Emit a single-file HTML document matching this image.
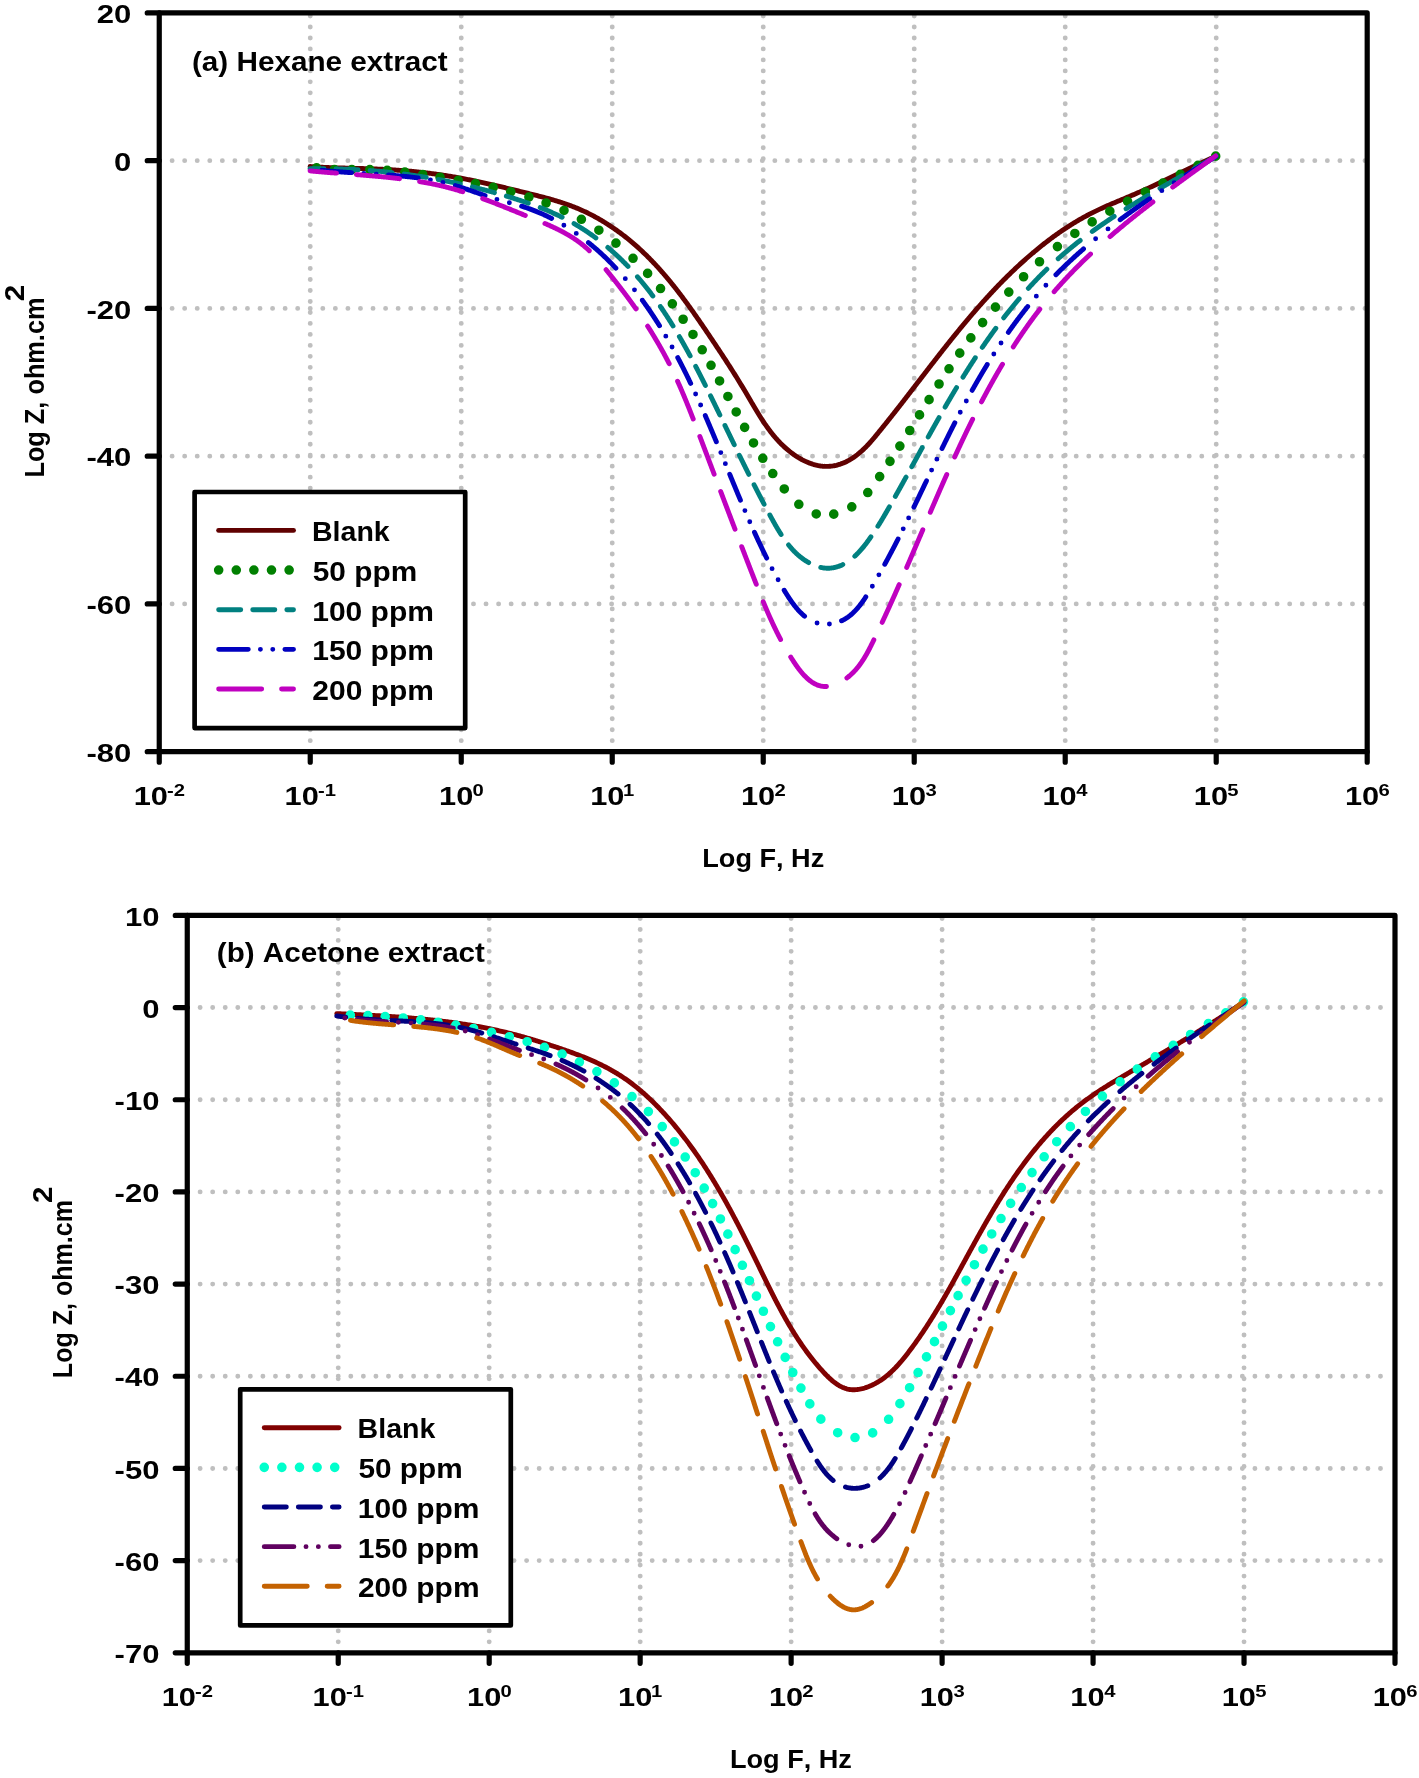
<!DOCTYPE html>
<html><head><meta charset="utf-8"><style>
html,body{margin:0;padding:0;background:#fff;overflow:hidden;width:1419px;height:1778px;}
svg{display:block;}
text{font-family:"Liberation Sans",sans-serif;font-weight:bold;font-kerning:none;}
.g{opacity:0.999;}
</style></head><body>
<svg width="1419" height="1778" viewBox="0 0 1419 1778">
<rect width="1419" height="1778" fill="#fff"/>
<g class="g">
<path d="M172.11 160.65h0.01M184.66 160.65h0.01M197.22 160.65h0.01M209.78 160.65h0.01M222.33 160.65h0.01M234.89 160.65h0.01M247.45 160.65h0.01M260.01 160.65h0.01M272.56 160.65h0.01M285.12 160.65h0.01M297.68 160.65h0.01M310.23 160.65h0.01M322.79 160.65h0.01M335.35 160.65h0.01M347.91 160.65h0.01M360.46 160.65h0.01M373.02 160.65h0.01M385.58 160.65h0.01M398.13 160.65h0.01M410.69 160.65h0.01M423.25 160.65h0.01M435.8 160.65h0.01M448.36 160.65h0.01M460.92 160.65h0.01M473.48 160.65h0.01M486.03 160.65h0.01M498.59 160.65h0.01M511.15 160.65h0.01M523.7 160.65h0.01M536.26 160.65h0.01M548.82 160.65h0.01M561.37 160.65h0.01M573.93 160.65h0.01M586.49 160.65h0.01M599.05 160.65h0.01M611.6 160.65h0.01M624.16 160.65h0.01M636.72 160.65h0.01M649.27 160.65h0.01M661.83 160.65h0.01M674.39 160.65h0.01M686.94 160.65h0.01M699.5 160.65h0.01M712.06 160.65h0.01M724.62 160.65h0.01M737.17 160.65h0.01M749.73 160.65h0.01M762.29 160.65h0.01M774.84 160.65h0.01M787.4 160.65h0.01M799.96 160.65h0.01M812.51 160.65h0.01M825.07 160.65h0.01M837.63 160.65h0.01M850.19 160.65h0.01M862.74 160.65h0.01M875.3 160.65h0.01M887.86 160.65h0.01M900.41 160.65h0.01M912.97 160.65h0.01M925.53 160.65h0.01M938.08 160.65h0.01M950.64 160.65h0.01M963.2 160.65h0.01M975.76 160.65h0.01M988.31 160.65h0.01M1000.87 160.65h0.01M1013.43 160.65h0.01M1025.98 160.65h0.01M1038.54 160.65h0.01M1051.1 160.65h0.01M1063.65 160.65h0.01M1076.21 160.65h0.01M1088.77 160.65h0.01M1101.33 160.65h0.01M1113.88 160.65h0.01M1126.44 160.65h0.01M1139 160.65h0.01M1151.55 160.65h0.01M1164.11 160.65h0.01M1176.67 160.65h0.01M1189.22 160.65h0.01M1201.78 160.65h0.01M1214.34 160.65h0.01M1226.9 160.65h0.01M1239.45 160.65h0.01M1252.01 160.65h0.01M1264.57 160.65h0.01M1277.12 160.65h0.01M1289.68 160.65h0.01M1302.24 160.65h0.01M1314.79 160.65h0.01M1327.35 160.65h0.01M1339.91 160.65h0.01M1352.47 160.65h0.01M1365.02 160.65h0.01M172.11 308.4h0.01M184.66 308.4h0.01M197.22 308.4h0.01M209.78 308.4h0.01M222.33 308.4h0.01M234.89 308.4h0.01M247.45 308.4h0.01M260.01 308.4h0.01M272.56 308.4h0.01M285.12 308.4h0.01M297.68 308.4h0.01M310.23 308.4h0.01M322.79 308.4h0.01M335.35 308.4h0.01M347.91 308.4h0.01M360.46 308.4h0.01M373.02 308.4h0.01M385.58 308.4h0.01M398.13 308.4h0.01M410.69 308.4h0.01M423.25 308.4h0.01M435.8 308.4h0.01M448.36 308.4h0.01M460.92 308.4h0.01M473.48 308.4h0.01M486.03 308.4h0.01M498.59 308.4h0.01M511.15 308.4h0.01M523.7 308.4h0.01M536.26 308.4h0.01M548.82 308.4h0.01M561.37 308.4h0.01M573.93 308.4h0.01M586.49 308.4h0.01M599.05 308.4h0.01M611.6 308.4h0.01M624.16 308.4h0.01M636.72 308.4h0.01M649.27 308.4h0.01M661.83 308.4h0.01M674.39 308.4h0.01M686.94 308.4h0.01M699.5 308.4h0.01M712.06 308.4h0.01M724.62 308.4h0.01M737.17 308.4h0.01M749.73 308.4h0.01M762.29 308.4h0.01M774.84 308.4h0.01M787.4 308.4h0.01M799.96 308.4h0.01M812.51 308.4h0.01M825.07 308.4h0.01M837.63 308.4h0.01M850.19 308.4h0.01M862.74 308.4h0.01M875.3 308.4h0.01M887.86 308.4h0.01M900.41 308.4h0.01M912.97 308.4h0.01M925.53 308.4h0.01M938.08 308.4h0.01M950.64 308.4h0.01M963.2 308.4h0.01M975.76 308.4h0.01M988.31 308.4h0.01M1000.87 308.4h0.01M1013.43 308.4h0.01M1025.98 308.4h0.01M1038.54 308.4h0.01M1051.1 308.4h0.01M1063.65 308.4h0.01M1076.21 308.4h0.01M1088.77 308.4h0.01M1101.33 308.4h0.01M1113.88 308.4h0.01M1126.44 308.4h0.01M1139 308.4h0.01M1151.55 308.4h0.01M1164.11 308.4h0.01M1176.67 308.4h0.01M1189.22 308.4h0.01M1201.78 308.4h0.01M1214.34 308.4h0.01M1226.9 308.4h0.01M1239.45 308.4h0.01M1252.01 308.4h0.01M1264.57 308.4h0.01M1277.12 308.4h0.01M1289.68 308.4h0.01M1302.24 308.4h0.01M1314.79 308.4h0.01M1327.35 308.4h0.01M1339.91 308.4h0.01M1352.47 308.4h0.01M1365.02 308.4h0.01M172.11 456.14h0.01M184.66 456.14h0.01M197.22 456.14h0.01M209.78 456.14h0.01M222.33 456.14h0.01M234.89 456.14h0.01M247.45 456.14h0.01M260.01 456.14h0.01M272.56 456.14h0.01M285.12 456.14h0.01M297.68 456.14h0.01M310.23 456.14h0.01M322.79 456.14h0.01M335.35 456.14h0.01M347.91 456.14h0.01M360.46 456.14h0.01M373.02 456.14h0.01M385.58 456.14h0.01M398.13 456.14h0.01M410.69 456.14h0.01M423.25 456.14h0.01M435.8 456.14h0.01M448.36 456.14h0.01M460.92 456.14h0.01M473.48 456.14h0.01M486.03 456.14h0.01M498.59 456.14h0.01M511.15 456.14h0.01M523.7 456.14h0.01M536.26 456.14h0.01M548.82 456.14h0.01M561.37 456.14h0.01M573.93 456.14h0.01M586.49 456.14h0.01M599.05 456.14h0.01M611.6 456.14h0.01M624.16 456.14h0.01M636.72 456.14h0.01M649.27 456.14h0.01M661.83 456.14h0.01M674.39 456.14h0.01M686.94 456.14h0.01M699.5 456.14h0.01M712.06 456.14h0.01M724.62 456.14h0.01M737.17 456.14h0.01M749.73 456.14h0.01M762.29 456.14h0.01M774.84 456.14h0.01M787.4 456.14h0.01M799.96 456.14h0.01M812.51 456.14h0.01M825.07 456.14h0.01M837.63 456.14h0.01M850.19 456.14h0.01M862.74 456.14h0.01M875.3 456.14h0.01M887.86 456.14h0.01M900.41 456.14h0.01M912.97 456.14h0.01M925.53 456.14h0.01M938.08 456.14h0.01M950.64 456.14h0.01M963.2 456.14h0.01M975.76 456.14h0.01M988.31 456.14h0.01M1000.87 456.14h0.01M1013.43 456.14h0.01M1025.98 456.14h0.01M1038.54 456.14h0.01M1051.1 456.14h0.01M1063.65 456.14h0.01M1076.21 456.14h0.01M1088.77 456.14h0.01M1101.33 456.14h0.01M1113.88 456.14h0.01M1126.44 456.14h0.01M1139 456.14h0.01M1151.55 456.14h0.01M1164.11 456.14h0.01M1176.67 456.14h0.01M1189.22 456.14h0.01M1201.78 456.14h0.01M1214.34 456.14h0.01M1226.9 456.14h0.01M1239.45 456.14h0.01M1252.01 456.14h0.01M1264.57 456.14h0.01M1277.12 456.14h0.01M1289.68 456.14h0.01M1302.24 456.14h0.01M1314.79 456.14h0.01M1327.35 456.14h0.01M1339.91 456.14h0.01M1352.47 456.14h0.01M1365.02 456.14h0.01M172.11 603.89h0.01M184.66 603.89h0.01M197.22 603.89h0.01M209.78 603.89h0.01M222.33 603.89h0.01M234.89 603.89h0.01M247.45 603.89h0.01M260.01 603.89h0.01M272.56 603.89h0.01M285.12 603.89h0.01M297.68 603.89h0.01M310.23 603.89h0.01M322.79 603.89h0.01M335.35 603.89h0.01M347.91 603.89h0.01M360.46 603.89h0.01M373.02 603.89h0.01M385.58 603.89h0.01M398.13 603.89h0.01M410.69 603.89h0.01M423.25 603.89h0.01M435.8 603.89h0.01M448.36 603.89h0.01M460.92 603.89h0.01M473.48 603.89h0.01M486.03 603.89h0.01M498.59 603.89h0.01M511.15 603.89h0.01M523.7 603.89h0.01M536.26 603.89h0.01M548.82 603.89h0.01M561.37 603.89h0.01M573.93 603.89h0.01M586.49 603.89h0.01M599.05 603.89h0.01M611.6 603.89h0.01M624.16 603.89h0.01M636.72 603.89h0.01M649.27 603.89h0.01M661.83 603.89h0.01M674.39 603.89h0.01M686.94 603.89h0.01M699.5 603.89h0.01M712.06 603.89h0.01M724.62 603.89h0.01M737.17 603.89h0.01M749.73 603.89h0.01M762.29 603.89h0.01M774.84 603.89h0.01M787.4 603.89h0.01M799.96 603.89h0.01M812.51 603.89h0.01M825.07 603.89h0.01M837.63 603.89h0.01M850.19 603.89h0.01M862.74 603.89h0.01M875.3 603.89h0.01M887.86 603.89h0.01M900.41 603.89h0.01M912.97 603.89h0.01M925.53 603.89h0.01M938.08 603.89h0.01M950.64 603.89h0.01M963.2 603.89h0.01M975.76 603.89h0.01M988.31 603.89h0.01M1000.87 603.89h0.01M1013.43 603.89h0.01M1025.98 603.89h0.01M1038.54 603.89h0.01M1051.1 603.89h0.01M1063.65 603.89h0.01M1076.21 603.89h0.01M1088.77 603.89h0.01M1101.33 603.89h0.01M1113.88 603.89h0.01M1126.44 603.89h0.01M1139 603.89h0.01M1151.55 603.89h0.01M1164.11 603.89h0.01M1176.67 603.89h0.01M1189.22 603.89h0.01M1201.78 603.89h0.01M1214.34 603.89h0.01M1226.9 603.89h0.01M1239.45 603.89h0.01M1252.01 603.89h0.01M1264.57 603.89h0.01M1277.12 603.89h0.01M1289.68 603.89h0.01M1302.24 603.89h0.01M1314.79 603.89h0.01M1327.35 603.89h0.01M1339.91 603.89h0.01M1352.47 603.89h0.01M1365.02 603.89h0.01M310.24 740.66h0.01M310.24 729.68h0.01M310.24 718.7h0.01M310.24 707.72h0.01M310.24 696.74h0.01M310.24 685.76h0.01M310.24 674.78h0.01M310.24 663.8h0.01M310.24 652.82h0.01M310.24 641.84h0.01M310.24 630.86h0.01M310.24 619.88h0.01M310.24 608.9h0.01M310.24 597.92h0.01M310.24 586.94h0.01M310.24 575.96h0.01M310.24 564.98h0.01M310.24 554h0.01M310.24 543.02h0.01M310.24 532.04h0.01M310.24 521.06h0.01M310.24 510.08h0.01M310.24 499.1h0.01M310.24 488.12h0.01M310.24 477.14h0.01M310.24 466.16h0.01M310.24 455.18h0.01M310.24 444.2h0.01M310.24 433.22h0.01M310.24 422.24h0.01M310.24 411.26h0.01M310.24 400.28h0.01M310.24 389.3h0.01M310.24 378.32h0.01M310.24 367.34h0.01M310.24 356.36h0.01M310.24 345.38h0.01M310.24 334.4h0.01M310.24 323.42h0.01M310.24 312.44h0.01M310.24 301.46h0.01M310.24 290.48h0.01M310.24 279.5h0.01M310.24 268.52h0.01M310.24 257.54h0.01M310.24 246.56h0.01M310.24 235.58h0.01M310.24 224.6h0.01M310.24 213.62h0.01M310.24 202.64h0.01M310.24 191.66h0.01M310.24 180.68h0.01M310.24 169.7h0.01M310.24 158.72h0.01M310.24 147.74h0.01M310.24 136.76h0.01M310.24 125.78h0.01M310.24 114.8h0.01M310.24 103.82h0.01M310.24 92.84h0.01M310.24 81.86h0.01M310.24 70.88h0.01M310.24 59.9h0.01M310.24 48.92h0.01M310.24 37.94h0.01M310.24 26.96h0.01M310.24 15.98h0.01M461.24 740.66h0.01M461.24 729.68h0.01M461.24 718.7h0.01M461.24 707.72h0.01M461.24 696.74h0.01M461.24 685.76h0.01M461.24 674.78h0.01M461.24 663.8h0.01M461.24 652.82h0.01M461.24 641.84h0.01M461.24 630.86h0.01M461.24 619.88h0.01M461.24 608.9h0.01M461.24 597.92h0.01M461.24 586.94h0.01M461.24 575.96h0.01M461.24 564.98h0.01M461.24 554h0.01M461.24 543.02h0.01M461.24 532.04h0.01M461.24 521.06h0.01M461.24 510.08h0.01M461.24 499.1h0.01M461.24 488.12h0.01M461.24 477.14h0.01M461.24 466.16h0.01M461.24 455.18h0.01M461.24 444.2h0.01M461.24 433.22h0.01M461.24 422.24h0.01M461.24 411.26h0.01M461.24 400.28h0.01M461.24 389.3h0.01M461.24 378.32h0.01M461.24 367.34h0.01M461.24 356.36h0.01M461.24 345.38h0.01M461.24 334.4h0.01M461.24 323.42h0.01M461.24 312.44h0.01M461.24 301.46h0.01M461.24 290.48h0.01M461.24 279.5h0.01M461.24 268.52h0.01M461.24 257.54h0.01M461.24 246.56h0.01M461.24 235.58h0.01M461.24 224.6h0.01M461.24 213.62h0.01M461.24 202.64h0.01M461.24 191.66h0.01M461.24 180.68h0.01M461.24 169.7h0.01M461.24 158.72h0.01M461.24 147.74h0.01M461.24 136.76h0.01M461.24 125.78h0.01M461.24 114.8h0.01M461.24 103.82h0.01M461.24 92.84h0.01M461.24 81.86h0.01M461.24 70.88h0.01M461.24 59.9h0.01M461.24 48.92h0.01M461.24 37.94h0.01M461.24 26.96h0.01M461.24 15.98h0.01M612.23 740.66h0.01M612.23 729.68h0.01M612.23 718.7h0.01M612.23 707.72h0.01M612.23 696.74h0.01M612.23 685.76h0.01M612.23 674.78h0.01M612.23 663.8h0.01M612.23 652.82h0.01M612.23 641.84h0.01M612.23 630.86h0.01M612.23 619.88h0.01M612.23 608.9h0.01M612.23 597.92h0.01M612.23 586.94h0.01M612.23 575.96h0.01M612.23 564.98h0.01M612.23 554h0.01M612.23 543.02h0.01M612.23 532.04h0.01M612.23 521.06h0.01M612.23 510.08h0.01M612.23 499.1h0.01M612.23 488.12h0.01M612.23 477.14h0.01M612.23 466.16h0.01M612.23 455.18h0.01M612.23 444.2h0.01M612.23 433.22h0.01M612.23 422.24h0.01M612.23 411.26h0.01M612.23 400.28h0.01M612.23 389.3h0.01M612.23 378.32h0.01M612.23 367.34h0.01M612.23 356.36h0.01M612.23 345.38h0.01M612.23 334.4h0.01M612.23 323.42h0.01M612.23 312.44h0.01M612.23 301.46h0.01M612.23 290.48h0.01M612.23 279.5h0.01M612.23 268.52h0.01M612.23 257.54h0.01M612.23 246.56h0.01M612.23 235.58h0.01M612.23 224.6h0.01M612.23 213.62h0.01M612.23 202.64h0.01M612.23 191.66h0.01M612.23 180.68h0.01M612.23 169.7h0.01M612.23 158.72h0.01M612.23 147.74h0.01M612.23 136.76h0.01M612.23 125.78h0.01M612.23 114.8h0.01M612.23 103.82h0.01M612.23 92.84h0.01M612.23 81.86h0.01M612.23 70.88h0.01M612.23 59.9h0.01M612.23 48.92h0.01M612.23 37.94h0.01M612.23 26.96h0.01M612.23 15.98h0.01M763.23 740.66h0.01M763.23 729.68h0.01M763.23 718.7h0.01M763.23 707.72h0.01M763.23 696.74h0.01M763.23 685.76h0.01M763.23 674.78h0.01M763.23 663.8h0.01M763.23 652.82h0.01M763.23 641.84h0.01M763.23 630.86h0.01M763.23 619.88h0.01M763.23 608.9h0.01M763.23 597.92h0.01M763.23 586.94h0.01M763.23 575.96h0.01M763.23 564.98h0.01M763.23 554h0.01M763.23 543.02h0.01M763.23 532.04h0.01M763.23 521.06h0.01M763.23 510.08h0.01M763.23 499.1h0.01M763.23 488.12h0.01M763.23 477.14h0.01M763.23 466.16h0.01M763.23 455.18h0.01M763.23 444.2h0.01M763.23 433.22h0.01M763.23 422.24h0.01M763.23 411.26h0.01M763.23 400.28h0.01M763.23 389.3h0.01M763.23 378.32h0.01M763.23 367.34h0.01M763.23 356.36h0.01M763.23 345.38h0.01M763.23 334.4h0.01M763.23 323.42h0.01M763.23 312.44h0.01M763.23 301.46h0.01M763.23 290.48h0.01M763.23 279.5h0.01M763.23 268.52h0.01M763.23 257.54h0.01M763.23 246.56h0.01M763.23 235.58h0.01M763.23 224.6h0.01M763.23 213.62h0.01M763.23 202.64h0.01M763.23 191.66h0.01M763.23 180.68h0.01M763.23 169.7h0.01M763.23 158.72h0.01M763.23 147.74h0.01M763.23 136.76h0.01M763.23 125.78h0.01M763.23 114.8h0.01M763.23 103.82h0.01M763.23 92.84h0.01M763.23 81.86h0.01M763.23 70.88h0.01M763.23 59.9h0.01M763.23 48.92h0.01M763.23 37.94h0.01M763.23 26.96h0.01M763.23 15.98h0.01M914.22 740.66h0.01M914.22 729.68h0.01M914.22 718.7h0.01M914.22 707.72h0.01M914.22 696.74h0.01M914.22 685.76h0.01M914.22 674.78h0.01M914.22 663.8h0.01M914.22 652.82h0.01M914.22 641.84h0.01M914.22 630.86h0.01M914.22 619.88h0.01M914.22 608.9h0.01M914.22 597.92h0.01M914.22 586.94h0.01M914.22 575.96h0.01M914.22 564.98h0.01M914.22 554h0.01M914.22 543.02h0.01M914.22 532.04h0.01M914.22 521.06h0.01M914.22 510.08h0.01M914.22 499.1h0.01M914.22 488.12h0.01M914.22 477.14h0.01M914.22 466.16h0.01M914.22 455.18h0.01M914.22 444.2h0.01M914.22 433.22h0.01M914.22 422.24h0.01M914.22 411.26h0.01M914.22 400.28h0.01M914.22 389.3h0.01M914.22 378.32h0.01M914.22 367.34h0.01M914.22 356.36h0.01M914.22 345.38h0.01M914.22 334.4h0.01M914.22 323.42h0.01M914.22 312.44h0.01M914.22 301.46h0.01M914.22 290.48h0.01M914.22 279.5h0.01M914.22 268.52h0.01M914.22 257.54h0.01M914.22 246.56h0.01M914.22 235.58h0.01M914.22 224.6h0.01M914.22 213.62h0.01M914.22 202.64h0.01M914.22 191.66h0.01M914.22 180.68h0.01M914.22 169.7h0.01M914.22 158.72h0.01M914.22 147.74h0.01M914.22 136.76h0.01M914.22 125.78h0.01M914.22 114.8h0.01M914.22 103.82h0.01M914.22 92.84h0.01M914.22 81.86h0.01M914.22 70.88h0.01M914.22 59.9h0.01M914.22 48.92h0.01M914.22 37.94h0.01M914.22 26.96h0.01M914.22 15.98h0.01M1065.21 740.66h0.01M1065.21 729.68h0.01M1065.21 718.7h0.01M1065.21 707.72h0.01M1065.21 696.74h0.01M1065.21 685.76h0.01M1065.21 674.78h0.01M1065.21 663.8h0.01M1065.21 652.82h0.01M1065.21 641.84h0.01M1065.21 630.86h0.01M1065.21 619.88h0.01M1065.21 608.9h0.01M1065.21 597.92h0.01M1065.21 586.94h0.01M1065.21 575.96h0.01M1065.21 564.98h0.01M1065.21 554h0.01M1065.21 543.02h0.01M1065.21 532.04h0.01M1065.21 521.06h0.01M1065.21 510.08h0.01M1065.21 499.1h0.01M1065.21 488.12h0.01M1065.21 477.14h0.01M1065.21 466.16h0.01M1065.21 455.18h0.01M1065.21 444.2h0.01M1065.21 433.22h0.01M1065.21 422.24h0.01M1065.21 411.26h0.01M1065.21 400.28h0.01M1065.21 389.3h0.01M1065.21 378.32h0.01M1065.21 367.34h0.01M1065.21 356.36h0.01M1065.21 345.38h0.01M1065.21 334.4h0.01M1065.21 323.42h0.01M1065.21 312.44h0.01M1065.21 301.46h0.01M1065.21 290.48h0.01M1065.21 279.5h0.01M1065.21 268.52h0.01M1065.21 257.54h0.01M1065.21 246.56h0.01M1065.21 235.58h0.01M1065.21 224.6h0.01M1065.21 213.62h0.01M1065.21 202.64h0.01M1065.21 191.66h0.01M1065.21 180.68h0.01M1065.21 169.7h0.01M1065.21 158.72h0.01M1065.21 147.74h0.01M1065.21 136.76h0.01M1065.21 125.78h0.01M1065.21 114.8h0.01M1065.21 103.82h0.01M1065.21 92.84h0.01M1065.21 81.86h0.01M1065.21 70.88h0.01M1065.21 59.9h0.01M1065.21 48.92h0.01M1065.21 37.94h0.01M1065.21 26.96h0.01M1065.21 15.98h0.01M1216.21 740.66h0.01M1216.21 729.68h0.01M1216.21 718.7h0.01M1216.21 707.72h0.01M1216.21 696.74h0.01M1216.21 685.76h0.01M1216.21 674.78h0.01M1216.21 663.8h0.01M1216.21 652.82h0.01M1216.21 641.84h0.01M1216.21 630.86h0.01M1216.21 619.88h0.01M1216.21 608.9h0.01M1216.21 597.92h0.01M1216.21 586.94h0.01M1216.21 575.96h0.01M1216.21 564.98h0.01M1216.21 554h0.01M1216.21 543.02h0.01M1216.21 532.04h0.01M1216.21 521.06h0.01M1216.21 510.08h0.01M1216.21 499.1h0.01M1216.21 488.12h0.01M1216.21 477.14h0.01M1216.21 466.16h0.01M1216.21 455.18h0.01M1216.21 444.2h0.01M1216.21 433.22h0.01M1216.21 422.24h0.01M1216.21 411.26h0.01M1216.21 400.28h0.01M1216.21 389.3h0.01M1216.21 378.32h0.01M1216.21 367.34h0.01M1216.21 356.36h0.01M1216.21 345.38h0.01M1216.21 334.4h0.01M1216.21 323.42h0.01M1216.21 312.44h0.01M1216.21 301.46h0.01M1216.21 290.48h0.01M1216.21 279.5h0.01M1216.21 268.52h0.01M1216.21 257.54h0.01M1216.21 246.56h0.01M1216.21 235.58h0.01M1216.21 224.6h0.01M1216.21 213.62h0.01M1216.21 202.64h0.01M1216.21 191.66h0.01M1216.21 180.68h0.01M1216.21 169.7h0.01M1216.21 158.72h0.01M1216.21 147.74h0.01M1216.21 136.76h0.01M1216.21 125.78h0.01M1216.21 114.8h0.01M1216.21 103.82h0.01M1216.21 92.84h0.01M1216.21 81.86h0.01M1216.21 70.88h0.01M1216.21 59.9h0.01M1216.21 48.92h0.01M1216.21 37.94h0.01M1216.21 26.96h0.01M1216.21 15.98h0.01" stroke="#bfbfbf" stroke-width="4.9" stroke-linecap="round" fill="none"/>
<path d="M159.25 12.9H1367.2V751.64H159.25Z" stroke="#000" stroke-width="5.2" fill="none" stroke-linejoin="round"/>
<path d="M147.25 12.9H159.25M147.25 160.65H159.25M147.25 308.4H159.25M147.25 456.14H159.25M147.25 603.89H159.25M147.25 751.64H159.25M159.25 751.64V762.14M310.24 751.64V762.14M461.24 751.64V762.14M612.23 751.64V762.14M763.23 751.64V762.14M914.22 751.64V762.14M1065.21 751.64V762.14M1216.21 751.64V762.14M1367.2 751.64V762.14" stroke="#000" stroke-width="5.2" fill="none" stroke-linecap="round"/>
<text transform="translate(96.75,23.1) scale(1.1800,1)" font-size="26.3">20</text>
<text transform="translate(114.01,170.85) scale(1.1800,1)" font-size="26.3">0</text>
<text transform="translate(86.42,318.6) scale(1.1800,1)" font-size="26.3">-20</text>
<text transform="translate(86.42,466.34) scale(1.1800,1)" font-size="26.3">-40</text>
<text transform="translate(86.42,614.09) scale(1.1800,1)" font-size="26.3">-60</text>
<text transform="translate(86.42,761.84) scale(1.1800,1)" font-size="26.3">-80</text>
<text transform="translate(133.7,804.8) scale(1.1700,1)" font-size="26.3">10</text>
<text transform="translate(167.07,795.7) scale(1.1700,1)" font-size="17.3">-2</text>
<text transform="translate(284.57,804.8) scale(1.1700,1)" font-size="26.3">10</text>
<text transform="translate(317.94,795.7) scale(1.1700,1)" font-size="17.3">-1</text>
<text transform="translate(439.07,804.8) scale(1.1700,1)" font-size="26.3">10</text>
<text transform="translate(472.44,795.7) scale(1.1700,1)" font-size="17.3">0</text>
<text transform="translate(590.17,804.8) scale(1.1700,1)" font-size="26.3">10</text>
<text transform="translate(623.06,795.7) scale(1.1700,1)" font-size="17.3">1</text>
<text transform="translate(741,804.8) scale(1.1700,1)" font-size="26.3">10</text>
<text transform="translate(774.46,795.7) scale(1.1700,1)" font-size="17.3">2</text>
<text transform="translate(891.84,804.8) scale(1.1700,1)" font-size="26.3">10</text>
<text transform="translate(925.54,795.7) scale(1.1700,1)" font-size="17.3">3</text>
<text transform="translate(1042.44,804.8) scale(1.1700,1)" font-size="26.3">10</text>
<text transform="translate(1076.3,795.7) scale(1.1700,1)" font-size="17.3">4</text>
<text transform="translate(1193.82,804.8) scale(1.1700,1)" font-size="26.3">10</text>
<text transform="translate(1227.36,795.7) scale(1.1700,1)" font-size="17.3">5</text>
<text transform="translate(1344.96,804.8) scale(1.1700,1)" font-size="26.3">10</text>
<text transform="translate(1378.38,795.7) scale(1.1700,1)" font-size="17.3">6</text>
<path d="M310.1 166.56L311.25 166.64L312.39 166.72L313.54 166.79L314.69 166.86L315.83 166.93L316.98 167L318.12 167.06L319.27 167.12L320.42 167.18L321.56 167.24L322.71 167.29L323.86 167.35L325.01 167.4L326.16 167.45L327.3 167.5L328.45 167.54L329.6 167.59L330.75 167.63L331.9 167.67L333.05 167.72L334.2 167.75L335.35 167.79L336.5 167.83L337.65 167.87L338.8 167.9L339.95 167.94L341.1 167.97L342.25 168L343.4 168.04L344.55 168.07L345.7 168.1L346.85 168.13L348 168.16L349.15 168.19L350.3 168.22L351.46 168.25L352.61 168.28L353.76 168.31L354.91 168.34L356.06 168.37L357.21 168.4L358.36 168.43L359.51 168.47L360.66 168.5L361.82 168.53L362.97 168.56L364.12 168.6L365.27 168.63L366.42 168.67L367.57 168.7L368.72 168.74L369.87 168.78L371.02 168.82L372.17 168.86L373.32 168.9L374.48 168.95L375.63 168.99L376.78 169.04L377.93 169.08L379.08 169.13L380.22 169.19L381.37 169.24L382.52 169.3L383.67 169.35L384.82 169.41L385.97 169.47L387.12 169.53L388.27 169.6L389.42 169.67L390.56 169.73L391.71 169.81L392.86 169.88L394.01 169.95L395.15 170.03L396.3 170.11L397.45 170.19L398.6 170.27L399.74 170.35L400.89 170.44L402.03 170.53L403.18 170.62L404.33 170.71L405.47 170.81L406.62 170.9L407.76 171L408.9 171.1L410.05 171.21L411.19 171.31L412.34 171.42L413.48 171.53L414.62 171.64L415.77 171.75L416.91 171.87L418.05 171.99L419.19 172.11L420.33 172.23L421.48 172.36L422.62 172.48L423.76 172.61L424.9 172.75L426.04 172.88L427.18 173.02L428.32 173.15L429.46 173.3L430.6 173.44L431.74 173.59L432.87 173.73L434.01 173.88L435.15 174.04L436.29 174.19L437.42 174.35L438.56 174.51L439.7 174.67L440.83 174.84L441.97 175.01L443.1 175.18L444.24 175.35L445.37 175.52L446.51 175.7L447.64 175.88L448.77 176.06L449.9 176.25L451.04 176.44L452.17 176.63L453.3 176.82L454.43 177.01L455.56 177.21L456.69 177.41L457.82 177.61L458.95 177.82L460.08 178.03L461.21 178.24L462.34 178.45L463.47 178.66L464.6 178.88L465.72 179.09L466.85 179.31L467.98 179.53L469.11 179.76L470.23 179.98L471.36 180.21L472.48 180.44L473.61 180.67L474.74 180.91L475.86 181.14L476.99 181.38L478.11 181.62L479.23 181.86L480.36 182.1L481.48 182.34L482.61 182.58L483.73 182.83L484.85 183.08L485.98 183.33L487.1 183.58L488.22 183.83L489.34 184.08L490.47 184.34L491.59 184.59L492.71 184.85L493.83 185.11L494.95 185.37L496.07 185.63L497.19 185.89L498.32 186.15L499.44 186.41L500.56 186.68L501.68 186.94L502.8 187.21L503.92 187.47L505.04 187.74L506.16 188.01L507.28 188.28L508.4 188.55L509.52 188.82L510.64 189.09L511.76 189.36L512.88 189.64L514 189.91L515.12 190.18L516.24 190.45L517.35 190.73L518.47 191L519.59 191.28L520.71 191.55L521.83 191.83L522.95 192.1L524.07 192.38L525.19 192.65L526.31 192.93L527.43 193.21L528.55 193.48L529.66 193.76L530.78 194.04L531.9 194.31L533.02 194.59L534.14 194.87L535.25 195.15L536.37 195.44L537.49 195.72L538.6 196.01L539.72 196.29L540.83 196.58L541.95 196.87L543.06 197.17L544.17 197.46L545.28 197.76L546.39 198.06L547.5 198.36L548.61 198.67L549.72 198.98L550.82 199.29L551.93 199.61L553.03 199.92L554.13 200.25L555.23 200.57L556.33 200.9L557.43 201.24L558.52 201.58L559.62 201.92L560.71 202.27L561.8 202.62L562.89 202.98L563.97 203.34L565.06 203.71L566.14 204.08L567.22 204.46L568.3 204.84L569.38 205.23L570.45 205.63L571.52 206.03L572.59 206.43L573.66 206.85L574.73 207.27L575.79 207.69L576.85 208.13L577.9 208.57L578.96 209.01L580.01 209.47L581.06 209.93L582.11 210.39L583.15 210.87L584.19 211.35L585.23 211.83L586.27 212.32L587.3 212.82L588.33 213.33L589.36 213.84L590.38 214.36L591.4 214.88L592.42 215.42L593.44 215.95L594.45 216.5L595.46 217.04L596.47 217.6L597.47 218.16L598.47 218.73L599.47 219.3L600.46 219.88L601.46 220.46L602.45 221.05L603.43 221.65L604.42 222.25L605.4 222.85L606.37 223.47L607.35 224.08L608.32 224.71L609.28 225.33L610.25 225.97L611.21 226.61L612.17 227.25L613.12 227.9L614.08 228.55L615.02 229.21L615.97 229.87L616.91 230.54L617.85 231.22L618.78 231.9L619.72 232.58L620.65 233.27L621.57 233.96L622.49 234.66L623.41 235.36L624.33 236.06L625.24 236.78L626.15 237.49L627.05 238.21L627.95 238.93L628.85 239.66L629.74 240.4L630.64 241.13L631.52 241.87L632.41 242.62L633.29 243.37L634.16 244.12L635.04 244.88L635.91 245.64L636.77 246.4L637.63 247.17L638.49 247.94L639.35 248.72L640.2 249.5L641.04 250.28L641.89 251.07L642.73 251.86L643.56 252.65L644.4 253.45L645.22 254.25L646.05 255.05L646.87 255.86L647.69 256.67L648.5 257.48L649.31 258.3L650.12 259.12L650.93 259.94L651.73 260.77L652.52 261.6L653.32 262.43L654.11 263.26L654.9 264.1L655.68 264.94L656.46 265.79L657.24 266.63L658.01 267.48L658.79 268.33L659.56 269.19L660.32 270.04L661.08 270.9L661.84 271.77L662.6 272.63L663.36 273.5L664.11 274.37L664.86 275.24L665.6 276.12L666.34 276.99L667.08 277.87L667.82 278.76L668.56 279.64L669.29 280.53L670.02 281.41L670.75 282.31L671.47 283.2L672.2 284.09L672.92 284.99L673.63 285.89L674.35 286.79L675.06 287.69L675.77 288.6L676.48 289.5L677.19 290.41L677.89 291.32L678.59 292.23L679.29 293.15L679.99 294.06L680.69 294.98L681.38 295.9L682.07 296.82L682.76 297.74L683.45 298.66L684.14 299.59L684.82 300.51L685.5 301.44L686.18 302.37L686.86 303.3L687.54 304.23L688.22 305.16L688.89 306.09L689.56 307.03L690.23 307.96L690.9 308.9L691.57 309.84L692.24 310.77L692.9 311.71L693.57 312.65L694.23 313.6L694.89 314.54L695.55 315.48L696.21 316.42L696.86 317.37L697.52 318.31L698.18 319.26L698.83 320.21L699.48 321.15L700.13 322.1L700.78 323.05L701.43 324L702.08 324.94L702.73 325.89L703.38 326.84L704.02 327.79L704.67 328.74L705.31 329.69L705.96 330.64L706.6 331.6L707.24 332.55L707.88 333.5L708.53 334.45L709.17 335.4L709.81 336.35L710.45 337.3L711.08 338.25L711.72 339.2L712.36 340.15L713 341.1L713.64 342.05L714.27 343.01L714.91 343.96L715.54 344.91L716.18 345.86L716.81 346.81L717.45 347.76L718.08 348.71L718.71 349.67L719.34 350.62L719.97 351.57L720.6 352.53L721.23 353.48L721.86 354.43L722.49 355.39L723.12 356.34L723.74 357.3L724.37 358.26L724.99 359.21L725.62 360.17L726.24 361.13L726.86 362.09L727.48 363.05L728.1 364.01L728.72 364.97L729.34 365.93L729.96 366.89L730.58 367.86L731.19 368.82L731.81 369.79L732.42 370.75L733.04 371.72L733.65 372.69L734.26 373.66L734.87 374.63L735.48 375.6L736.08 376.58L736.69 377.55L737.3 378.53L737.9 379.5L738.5 380.48L739.11 381.46L739.71 382.44L740.31 383.42L740.9 384.41L741.5 385.39L742.1 386.38L742.69 387.37L743.29 388.36L743.88 389.35L744.47 390.34L745.06 391.34L745.65 392.33L746.23 393.33L746.82 394.33L747.41 395.33L747.99 396.33L748.58 397.33L749.16 398.34L749.75 399.34L750.33 400.34L750.92 401.34L751.5 402.35L752.09 403.35L752.68 404.35L753.27 405.35L753.86 406.35L754.46 407.35L755.05 408.35L755.65 409.35L756.25 410.34L756.85 411.33L757.45 412.33L758.06 413.32L758.67 414.3L759.28 415.29L759.9 416.27L760.52 417.25L761.14 418.23L761.77 419.2L762.4 420.17L763.04 421.14L763.68 422.1L764.33 423.06L764.98 424.01L765.64 424.96L766.3 425.91L766.96 426.85L767.64 427.79L768.32 428.72L769 429.65L769.69 430.57L770.39 431.49L771.09 432.4L771.81 433.31L772.53 434.21L773.25 435.1L773.98 435.99L774.73 436.87L775.47 437.74L776.23 438.61L777 439.47L777.77 440.32L778.55 441.17L779.35 442.01L780.15 442.84L780.96 443.66L781.77 444.47L782.6 445.28L783.44 446.08L784.29 446.87L785.15 447.65L786.02 448.42L786.9 449.19L787.79 449.94L788.69 450.68L789.6 451.42L790.53 452.14L791.46 452.85L792.41 453.56L793.36 454.25L794.32 454.92L795.29 455.59L796.28 456.24L797.27 456.87L798.26 457.49L799.27 458.09L800.28 458.68L801.31 459.25L802.33 459.81L803.37 460.34L804.41 460.86L805.46 461.36L806.52 461.84L807.58 462.29L808.64 462.73L809.71 463.15L810.79 463.54L811.87 463.91L812.95 464.26L814.04 464.58L815.13 464.88L816.23 465.15L817.32 465.4L818.42 465.62L819.53 465.82L820.63 465.99L821.74 466.13L822.85 466.24L823.96 466.32L825.07 466.37L826.18 466.39L827.3 466.39L828.41 466.35L829.52 466.28L830.63 466.19L831.73 466.06L832.84 465.91L833.94 465.73L835.04 465.52L836.13 465.28L837.22 465.01L838.3 464.72L839.38 464.4L840.45 464.06L841.51 463.68L842.57 463.28L843.62 462.86L844.66 462.41L845.69 461.94L846.71 461.44L847.73 460.92L848.74 460.38L849.73 459.82L850.72 459.24L851.7 458.64L852.67 458.02L853.62 457.38L854.57 456.73L855.51 456.06L856.43 455.37L857.35 454.67L858.25 453.95L859.14 453.22L860.02 452.48L860.89 451.73L861.75 450.96L862.6 450.18L863.44 449.39L864.27 448.59L865.09 447.78L865.9 446.96L866.71 446.13L867.51 445.29L868.3 444.45L869.08 443.6L869.86 442.74L870.63 441.87L871.39 441L872.15 440.12L872.91 439.24L873.66 438.36L874.41 437.47L875.16 436.57L875.9 435.68L876.64 434.78L877.38 433.88L878.12 432.98L878.85 432.08L879.59 431.17L880.32 430.27L881.05 429.37L881.78 428.47L882.51 427.56L883.24 426.66L883.97 425.75L884.7 424.84L885.43 423.94L886.15 423.03L886.88 422.12L887.6 421.22L888.32 420.31L889.05 419.4L889.77 418.49L890.49 417.58L891.21 416.67L891.93 415.76L892.65 414.85L893.36 413.94L894.08 413.03L894.8 412.12L895.51 411.21L896.23 410.29L896.94 409.38L897.66 408.47L898.37 407.56L899.08 406.64L899.8 405.73L900.51 404.82L901.22 403.9L901.93 402.99L902.64 402.07L903.35 401.16L904.06 400.25L904.77 399.33L905.47 398.42L906.18 397.5L906.89 396.59L907.6 395.67L908.3 394.76L909.01 393.84L909.72 392.93L910.42 392.01L911.13 391.1L911.83 390.18L912.54 389.27L913.24 388.35L913.95 387.44L914.65 386.52L915.36 385.61L916.06 384.69L916.76 383.78L917.47 382.86L918.17 381.95L918.87 381.03L919.58 380.12L920.28 379.21L920.98 378.29L921.69 377.38L922.39 376.47L923.09 375.55L923.8 374.64L924.5 373.73L925.2 372.81L925.91 371.9L926.61 370.99L927.31 370.08L928.02 369.17L928.72 368.25L929.42 367.34L930.13 366.43L930.83 365.52L931.54 364.61L932.24 363.7L932.95 362.79L933.65 361.89L934.36 360.98L935.06 360.07L935.77 359.16L936.48 358.25L937.18 357.35L937.89 356.44L938.6 355.54L939.31 354.63L940.01 353.73L940.72 352.82L941.43 351.92L942.14 351.02L942.85 350.11L943.56 349.21L944.27 348.31L944.99 347.41L945.7 346.51L946.41 345.61L947.12 344.71L947.84 343.81L948.55 342.92L949.27 342.02L949.98 341.12L950.7 340.23L951.42 339.33L952.14 338.44L952.86 337.55L953.58 336.66L954.3 335.76L955.02 334.87L955.74 333.98L956.46 333.09L957.18 332.21L957.91 331.32L958.63 330.43L959.36 329.55L960.09 328.66L960.81 327.78L961.54 326.89L962.27 326.01L963 325.13L963.73 324.25L964.47 323.37L965.2 322.49L965.94 321.61L966.67 320.74L967.41 319.86L968.15 318.99L968.88 318.12L969.63 317.24L970.37 316.37L971.11 315.5L971.85 314.63L972.6 313.76L973.34 312.9L974.09 312.03L974.84 311.17L975.59 310.3L976.34 309.44L977.09 308.58L977.84 307.72L978.6 306.86L979.35 306L980.11 305.15L980.87 304.29L981.63 303.44L982.39 302.59L983.16 301.73L983.92 300.88L984.69 300.04L985.45 299.19L986.22 298.34L986.99 297.5L987.77 296.65L988.54 295.81L989.31 294.97L990.09 294.13L990.87 293.29L991.65 292.46L992.43 291.62L993.21 290.79L994 289.96L994.78 289.13L995.57 288.3L996.36 287.47L997.15 286.64L997.95 285.82L998.74 285L999.54 284.17L1000.34 283.35L1001.14 282.54L1001.94 281.72L1002.74 280.9L1003.55 280.09L1004.36 279.28L1005.17 278.47L1005.98 277.66L1006.79 276.85L1007.61 276.05L1008.43 275.24L1009.25 274.44L1010.07 273.64L1010.89 272.84L1011.72 272.05L1012.55 271.25L1013.38 270.46L1014.21 269.67L1015.04 268.88L1015.88 268.09L1016.72 267.3L1017.56 266.52L1018.4 265.74L1019.24 264.96L1020.09 264.18L1020.94 263.4L1021.79 262.63L1022.64 261.85L1023.5 261.08L1024.36 260.31L1025.22 259.55L1026.08 258.78L1026.95 258.02L1027.81 257.26L1028.68 256.5L1029.55 255.75L1030.43 254.99L1031.3 254.24L1032.18 253.49L1033.06 252.75L1033.95 252.01L1034.83 251.26L1035.72 250.53L1036.61 249.79L1037.5 249.06L1038.39 248.33L1039.29 247.6L1040.19 246.87L1041.09 246.15L1041.99 245.43L1042.9 244.71L1043.8 244L1044.71 243.29L1045.63 242.58L1046.54 241.88L1047.46 241.18L1048.38 240.48L1049.3 239.78L1050.22 239.09L1051.15 238.4L1052.07 237.71L1053 237.03L1053.94 236.35L1054.87 235.68L1055.81 235L1056.75 234.34L1057.69 233.67L1058.63 233.01L1059.58 232.35L1060.53 231.7L1061.48 231.04L1062.43 230.4L1063.39 229.75L1064.34 229.11L1065.3 228.48L1066.27 227.85L1067.23 227.22L1068.2 226.59L1069.17 225.97L1070.14 225.36L1071.11 224.74L1072.09 224.13L1073.07 223.53L1074.05 222.93L1075.03 222.33L1076.02 221.74L1077 221.16L1077.99 220.57L1078.99 219.99L1079.98 219.42L1080.98 218.85L1081.98 218.28L1082.98 217.72L1083.98 217.17L1084.99 216.61L1086 216.07L1087.01 215.52L1088.02 214.99L1089.04 214.45L1090.05 213.92L1091.07 213.4L1092.1 212.88L1093.12 212.37L1094.15 211.86L1095.18 211.35L1096.21 210.86L1097.24 210.36L1098.28 209.87L1099.32 209.38L1100.36 208.9L1101.4 208.42L1102.44 207.94L1103.49 207.47L1104.53 207L1105.58 206.53L1106.63 206.07L1107.68 205.61L1108.73 205.15L1109.79 204.7L1110.84 204.24L1111.89 203.79L1112.95 203.34L1114.01 202.89L1115.06 202.44L1116.12 201.99L1117.18 201.55L1118.24 201.1L1119.3 200.66L1120.36 200.22L1121.42 199.77L1122.48 199.33L1123.54 198.89L1124.6 198.45L1125.66 198L1126.72 197.56L1127.78 197.11L1128.84 196.67L1129.9 196.22L1130.96 195.77L1132.01 195.32L1133.07 194.87L1134.13 194.42L1135.18 193.97L1136.24 193.51L1137.29 193.05L1138.35 192.59L1139.4 192.13L1140.45 191.66L1141.5 191.19L1142.55 190.72L1143.6 190.25L1144.65 189.78L1145.7 189.31L1146.75 188.83L1147.79 188.35L1148.84 187.87L1149.88 187.39L1150.93 186.91L1151.97 186.42L1153.02 185.94L1154.06 185.45L1155.1 184.96L1156.14 184.47L1157.18 183.98L1158.22 183.49L1159.27 183L1160.31 182.51L1161.34 182.01L1162.38 181.52L1163.42 181.02L1164.46 180.53L1165.5 180.03L1166.54 179.53L1167.58 179.03L1168.61 178.53L1169.65 178.03L1170.69 177.53L1171.73 177.03L1172.76 176.53L1173.8 176.03L1174.84 175.53L1175.87 175.03L1176.91 174.53L1177.94 174.03L1178.98 173.53L1180.02 173.03L1181.05 172.53L1182.09 172.03L1183.13 171.53L1184.16 171.03L1185.2 170.53L1186.24 170.03L1187.28 169.54L1188.31 169.04L1189.35 168.54L1190.39 168.04L1191.43 167.55L1192.46 167.06L1193.5 166.56L1194.54 166.07L1195.58 165.58L1196.62 165.09L1197.66 164.6L1198.7 164.11L1199.74 163.62L1200.78 163.14L1201.83 162.65L1202.87 162.17L1203.91 161.69L1204.95 161.21L1206 160.73L1207.04 160.25L1208.09 159.78L1209.13 159.3L1210.18 158.83L1211.23 158.36L1212.28 157.89L1213.32 157.43L1214.37 156.96L1215.42 156.5L1216.3 156.12" stroke="#600000" stroke-width="4.9" fill="none" stroke-linecap="round" stroke-linejoin="round"/>
<path d="M316.6 167.79h0.01M334.43 169.48h0.01M351.81 169.63h0.01M369.82 169.59h0.01M387.21 170.35h0.01M404.84 172.03h0.01M422.71 174.44h0.01M440.05 177.21h0.01M458.2 180.35h0.01M475.48 183.63h0.01M493.18 187.42h0.01M510.76 191.78h0.01M528.89 197.06h0.01M546.06 203.01h0.01M564 210.48h0.01M581.38 219.31h0.01M598.86 230.21h0.01M615.95 243.08h0.01M633.02 258.32h0.01M647.61 273.42h0.01M660.53 288.54h0.01M672.34 303.87h0.01M683.13 319.24h0.01M692.98 334.48h0.01M702.2 349.81h0.01M711.02 365.32h0.01M719.57 380.96h0.01M727.89 396.46h0.01M736.2 411.94h0.01M744.63 427.34h0.01M753.51 442.94h0.01M762.79 458.3h0.01M772.78 473.54h0.01M784.28 488.93h0.01M798.82 504.3h0.01M816.24 513.96h0.01M833.76 514.16h0.01M851.78 506.86h0.01M867.77 492.52h0.01M879.66 476.61h0.01M889.98 461.33h0.01M899.86 446.12h0.01M909.75 430.51h0.01M919.52 414.89h0.01M929.07 399.66h0.01M939.04 384h0.01M949.01 368.81h0.01M959.75 353.14h0.01M970.82 337.89h0.01M982.61 322.61h0.01M995.42 307.1h0.01M1008.79 292.08h0.01M1023.59 276.76h0.01M1039.51 261.76h0.01M1057.41 246.6h0.01M1074.84 233.48h0.01M1092.14 221.91h0.01M1109.82 211.23h0.01M1127.55 201.34h0.01M1145.36 191.97h0.01M1162.95 183.04h0.01M1180.37 174.31h0.01M1198.04 165.36h0.01M1215.66 156.13h0.01" stroke="#008000" stroke-width="9.6" fill="none" stroke-linecap="round" stroke-linejoin="round"/>
<path d="M309.98 168.82L310.2 168.82L310.85 168.8L311.51 168.79L312.16 168.78L312.81 168.77L313.47 168.77L314.12 168.76L314.78 168.75L315.43 168.74L316.08 168.74L316.74 168.73L317.39 168.73L318.04 168.72L318.7 168.72L319.35 168.72L320 168.72L320.65 168.72L321.31 168.71L321.96 168.71L322.61 168.72L323.26 168.72L323.92 168.72L324 168.72M336.02 168.88L336.07 168.88L336.72 168.89L337.37 168.91L338.02 168.92L338.67 168.94L339.32 168.96L339.97 168.98L340.61 169L341.26 169.02L341.91 169.04L342.56 169.06L343.21 169.08L343.86 169.1L344.51 169.12L345.16 169.15L345.8 169.17L346.45 169.2L347.1 169.22L347.75 169.25L348.4 169.27L349.04 169.3L349.69 169.33L350.34 169.36L350.99 169.39L351.63 169.42L352.28 169.45L352.93 169.48L353.58 169.51L354.22 169.55L354.87 169.58L355.52 169.61L356.16 169.65L356.81 169.68L357.46 169.72L358.1 169.76M370.11 170.56L370.14 170.56L370.79 170.61L371.43 170.66L372.08 170.71L372.72 170.76L373.36 170.81L374.01 170.87L374.65 170.92L375.29 170.98L375.94 171.03L376.58 171.09L377.22 171.14L377.87 171.2L378.51 171.26L379.15 171.31L379.79 171.37L380.44 171.43L381.08 171.49L381.72 171.55L382.36 171.61L383 171.68L383.65 171.74L384.29 171.8L384.93 171.87L385.57 171.93L386.21 171.99L386.85 172.06L387.5 172.13L388.14 172.19L388.78 172.26L389.42 172.33L390.06 172.4L390.7 172.47L391.34 172.54L391.98 172.61L392.19 172.63M404.2 174.09L404.34 174.11L404.98 174.2L405.62 174.28L406.26 174.37L406.9 174.45L407.53 174.54L408.17 174.63L408.81 174.71L409.45 174.8L410.08 174.89L410.72 174.98L411.36 175.07L412 175.16L412.63 175.26L413.27 175.35L413.91 175.44L414.54 175.54L415.18 175.63L415.82 175.73L416.45 175.82L417.09 175.92L417.73 176.02L418.36 176.11L419 176.21L419.63 176.31L420.27 176.41L420.91 176.51L421.54 176.61L422.18 176.71L422.81 176.82L423.45 176.92L424.08 177.02L424.72 177.13L425.35 177.23L425.99 177.34L426.28 177.39M438.29 179.51L438.45 179.54L439.08 179.66L439.72 179.78L440.35 179.9L440.98 180.02L441.61 180.14L442.25 180.27L442.88 180.39L443.51 180.51L444.14 180.63L444.78 180.76L445.41 180.88L446.04 181.01L446.67 181.14L447.3 181.26L447.93 181.39L448.56 181.52L449.19 181.65L449.83 181.78L450.46 181.91L451.09 182.04L451.72 182.17L452.35 182.3L452.98 182.44L453.61 182.57L454.24 182.7L454.87 182.84L455.5 182.97L456.13 183.11L456.76 183.25L457.39 183.38L458.02 183.52L458.65 183.66L459.28 183.8L459.91 183.94L460.37 184.04M472.38 186.85L472.48 186.87L473.1 187.02L473.73 187.18L474.36 187.33L474.98 187.49L475.61 187.64L476.24 187.8L476.86 187.96L477.49 188.11L478.12 188.27L478.74 188.43L479.37 188.59L480 188.75L480.62 188.91L481.25 189.07L481.87 189.24L482.5 189.4L483.13 189.56L483.75 189.73L484.38 189.89L485 190.06L485.63 190.22L486.25 190.39L486.88 190.56L487.5 190.72L488.13 190.89L488.75 191.06L489.38 191.23L490 191.4L490.63 191.57L491.25 191.74L491.88 191.92L492.5 192.09L493.12 192.26L493.75 192.44L494.37 192.61L494.4 192.62M506.35 196.09L506.42 196.11L507.04 196.3L507.66 196.49L508.28 196.68L508.9 196.87L509.52 197.06L510.15 197.25L510.77 197.44L511.39 197.63L512.01 197.82L512.63 198.02L513.25 198.21L513.87 198.41L514.49 198.6L515.11 198.8L515.73 199L516.35 199.2L516.97 199.4L517.59 199.6L518.21 199.8L518.82 200L519.44 200.2L520.06 200.4L520.68 200.61L521.29 200.81L521.91 201.02L522.53 201.23L523.14 201.43L523.76 201.64L524.38 201.85L524.99 202.06L525.61 202.27L526.22 202.49L526.84 202.7L527.45 202.91L528.06 203.13L528.29 203.21M540.22 207.64L540.24 207.65L540.84 207.88L541.45 208.12L542.05 208.36L542.65 208.6L543.25 208.85L543.85 209.09L544.45 209.33L545.05 209.58L545.65 209.83L546.25 210.08L546.85 210.33L547.45 210.58L548.04 210.83L548.64 211.08L549.23 211.34L549.83 211.59L550.42 211.85L551.01 212.11L551.61 212.37L552.2 212.63L552.79 212.89L553.38 213.16L553.97 213.42L554.56 213.69L555.14 213.96L555.73 214.23L556.32 214.5L556.9 214.77L557.49 215.05L558.07 215.32L558.66 215.6L559.24 215.88L559.82 216.16L560.4 216.44L560.98 216.72L561.56 217.01L562.12 217.28M574.03 223.63L574.08 223.66L574.64 223.98L575.19 224.3L575.75 224.63L576.31 224.96L576.86 225.28L577.41 225.61L577.96 225.94L578.52 226.28L579.07 226.61L579.61 226.95L580.16 227.29L580.71 227.63L581.25 227.97L581.8 228.31L582.34 228.65L582.89 229L583.43 229.35L583.97 229.7L584.51 230.05L585.05 230.4L585.59 230.75L586.12 231.11L586.66 231.47L587.19 231.82L587.73 232.18L588.26 232.55L588.79 232.91L589.32 233.27L589.85 233.64L590.38 234.01L590.91 234.38L591.43 234.75L591.96 235.12L592.48 235.49L593.01 235.87L593.53 236.24L594.05 236.62L594.57 237L595.09 237.38L595.61 237.77L595.91 237.99M607.81 247.43L607.9 247.5L608.39 247.92L608.88 248.34L609.37 248.75L609.86 249.18L610.35 249.6L610.83 250.02L611.32 250.45L611.8 250.87L612.29 251.3L612.77 251.73L613.25 252.16L613.73 252.59L614.21 253.02L614.69 253.45L615.16 253.89L615.64 254.32L616.11 254.76L616.59 255.2L617.06 255.64L617.53 256.08L618 256.52L618.47 256.96L618.94 257.4L619.41 257.85L619.87 258.3L620.34 258.74L620.8 259.19L621.27 259.64L621.73 260.09L622.19 260.54L622.65 261L623.11 261.45L623.57 261.91L624.02 262.36L624.48 262.82L624.93 263.28L625.39 263.74L625.84 264.2L626.29 264.66L626.74 265.12L627.19 265.58L627.64 266.05L628 266.43M637.43 276.75L637.5 276.84L637.92 277.33L638.35 277.82L638.77 278.31L639.18 278.8L639.6 279.29L640.02 279.78L640.43 280.27L640.85 280.76L641.26 281.26L641.68 281.75L642.09 282.25L642.5 282.75L642.91 283.24L643.32 283.74L643.72 284.24L644.13 284.74L644.53 285.24L644.94 285.74L645.34 286.25L645.74 286.75L646.15 287.25L646.55 287.76L646.95 288.26L647.34 288.77L647.74 289.28L648.14 289.79L648.53 290.3L648.93 290.8L649.32 291.32L649.71 291.83L650.1 292.34L650.49 292.85L650.88 293.36L651.27 293.88L651.66 294.39L652.05 294.91L652.43 295.43L652.82 295.94L652.84 295.97M660.41 306.55L660.44 306.61L660.81 307.14L661.18 307.67L661.54 308.21L661.9 308.74L662.27 309.27L662.63 309.81L662.99 310.35L663.35 310.88L663.71 311.42L664.07 311.96L664.42 312.49L664.78 313.03L665.14 313.57L665.49 314.11L665.85 314.65L666.2 315.19L666.55 315.73L666.9 316.27L667.25 316.82L667.61 317.36L667.96 317.9L668.3 318.45L668.65 318.99L669 319.54L669.35 320.08L669.69 320.63L670.04 321.18L670.38 321.72L670.73 322.27L671.07 322.82L671.41 323.37L671.75 323.92L672.09 324.47L672.43 325.02L672.77 325.57L673.04 326.01M679.37 336.59L679.42 336.69L679.75 337.25L680.07 337.81L680.4 338.37L680.72 338.93L681.04 339.49L681.37 340.05L681.69 340.62L682.01 341.18L682.33 341.74L682.65 342.31L682.97 342.87L683.29 343.44L683.61 344L683.93 344.57L684.24 345.13L684.56 345.7L684.88 346.26L685.19 346.83L685.51 347.4L685.82 347.96L686.14 348.53L686.45 349.1L686.76 349.67L687.08 350.24L687.39 350.8L687.7 351.37L688.01 351.94L688.32 352.51L688.63 353.08L688.94 353.65L689.25 354.22L689.56 354.79L689.87 355.36L690.17 355.92M695.7 366.38L695.74 366.45L696.03 367.03L696.33 367.6L696.63 368.18L696.93 368.75L697.23 369.33L697.53 369.9L697.82 370.48L698.12 371.06L698.41 371.63L698.71 372.21L699.01 372.79L699.3 373.37L699.6 373.94L699.89 374.52L700.18 375.1L700.48 375.68L700.77 376.25L701.06 376.83L701.36 377.41L701.65 377.99L701.94 378.56L702.23 379.14L702.53 379.72L702.82 380.3L703.11 380.88L703.4 381.46L703.69 382.04L703.98 382.61L704.27 383.19L704.56 383.77L704.85 384.35L705.14 384.93L705.42 385.5M710.54 395.86L710.58 395.93L710.87 396.51L711.15 397.09L711.43 397.67L711.72 398.25L712 398.82L712.29 399.4L712.57 399.98L712.85 400.56L713.14 401.14L713.42 401.72L713.7 402.3L713.98 402.87L714.27 403.45L714.55 404.03L714.83 404.61L715.11 405.19L715.39 405.77L715.68 406.35L715.96 406.92L716.24 407.5L716.52 408.08L716.8 408.66L717.08 409.24L717.36 409.81L717.65 410.39L717.93 410.97L718.21 411.55L718.49 412.13L718.77 412.7L719.05 413.28L719.33 413.86L719.61 414.44L719.89 415.01M724.96 425.5L725.02 425.61L725.3 426.19L725.58 426.76L725.86 427.34L726.13 427.92L726.41 428.5L726.69 429.07L726.97 429.65L727.25 430.23L727.53 430.81L727.81 431.38L728.09 431.96L728.37 432.54L728.65 433.11L728.93 433.69L729.21 434.27L729.48 434.85L729.76 435.42L730.04 436L730.32 436.58L730.6 437.16L730.88 437.73L731.16 438.31L731.44 438.89L731.72 439.47L732 440.04L732.28 440.62L732.56 441.2L732.84 441.78L733.12 442.35L733.4 442.93L733.68 443.51L733.96 444.08L734.24 444.66L734.28 444.74M739.36 455.18L739.39 455.25L739.68 455.83L739.96 456.4L740.24 456.98L740.52 457.56L740.81 458.14L741.09 458.71L741.37 459.29L741.66 459.87L741.94 460.45L742.22 461.02L742.51 461.6L742.79 462.18L743.08 462.76L743.36 463.33L743.65 463.91L743.93 464.49L744.22 465.07L744.5 465.65L744.79 466.22L745.07 466.8L745.36 467.38L745.64 467.96L745.93 468.53L746.22 469.11L746.5 469.69L746.79 470.27L747.08 470.85L747.36 471.42L747.65 472L747.94 472.58L748.23 473.16L748.52 473.74L748.8 474.31L748.83 474.37M754.08 484.8L754.14 484.92L754.43 485.5L754.73 486.08L755.02 486.65L755.32 487.23L755.61 487.81L755.91 488.39L756.2 488.97L756.5 489.55L756.79 490.13L757.09 490.71L757.39 491.29L757.68 491.87L757.98 492.45L758.28 493.02L758.58 493.6L758.88 494.18L759.18 494.76L759.48 495.34L759.78 495.92L760.08 496.5L760.38 497.08L760.68 497.66L760.98 498.24L761.28 498.82L761.58 499.4L761.88 499.98L762.19 500.56L762.49 501.14L762.79 501.72L763.1 502.3L763.4 502.88L763.71 503.46L764.01 504.04L764.12 504.26M769.85 515L769.89 515.07L770.2 515.65L770.52 516.24L770.83 516.82L771.15 517.4L771.46 517.98L771.78 518.56L772.1 519.14L772.41 519.72L772.73 520.3L773.05 520.88L773.37 521.46L773.7 522.04L774.02 522.61L774.34 523.19L774.67 523.77L774.99 524.34L775.32 524.92L775.65 525.49L775.98 526.06L776.31 526.63L776.64 527.2L776.97 527.77L777.31 528.34L777.64 528.91L777.98 529.47L778.32 530.04L778.66 530.6L779.01 531.16L779.35 531.72L779.7 532.28L780.04 532.83L780.39 533.39L780.74 533.94L781.1 534.49M788.58 544.95L788.63 545.01L789.03 545.51L789.44 546L789.85 546.5L790.26 546.98L790.67 547.47L791.09 547.95L791.51 548.43L791.94 548.9L792.36 549.37L792.79 549.84L793.23 550.3L793.66 550.76L794.1 551.21L794.55 551.67L795 552.11L795.45 552.56L795.9 553L796.36 553.43L796.82 553.86L797.28 554.29L797.75 554.71L798.22 555.13L798.7 555.54L799.18 555.95L799.66 556.36L800.15 556.76L800.64 557.15L801.14 557.54L801.64 557.93L802.14 558.31L802.65 558.69L803.16 559.06L803.67 559.43L804.19 559.79L804.72 560.14L805.25 560.49L805.78 560.84L806.32 561.18L806.86 561.52L807.41 561.85L807.96 562.17L808.51 562.49L808.67 562.58M820.74 567.41L820.8 567.42L821.42 567.56L822.04 567.68L822.66 567.79L823.28 567.89L823.9 567.98L824.53 568.06L825.15 568.12L825.77 568.17L826.4 568.2L827.02 568.23L827.65 568.24L828.27 568.23L828.89 568.22L829.51 568.19L830.13 568.14L830.75 568.09L831.37 568.02L831.99 567.94L832.6 567.85L833.22 567.75L833.83 567.63L834.44 567.5L835.05 567.37L835.65 567.22L836.26 567.06L836.86 566.89L837.46 566.71L838.05 566.51L838.65 566.31L839.24 566.1L839.82 565.88L840.41 565.65L840.99 565.4L841.56 565.15L842.14 564.89L842.7 564.62L842.83 564.56M854.78 556.21L854.89 556.11L855.37 555.67L855.84 555.22L856.32 554.76L856.79 554.3L857.25 553.83L857.71 553.36L858.17 552.89L858.63 552.41L859.09 551.92L859.54 551.43L859.98 550.94L860.43 550.44L860.87 549.94L861.31 549.44L861.75 548.93L862.18 548.42L862.61 547.9L863.04 547.38L863.47 546.86L863.89 546.34L864.31 545.81L864.73 545.28L865.14 544.75L865.55 544.22L865.96 543.68L866.37 543.15L866.78 542.61L867.18 542.07L867.58 541.52L867.98 540.98L868.37 540.43L868.77 539.89L869.16 539.34L869.55 538.79L869.93 538.24L870.32 537.69L870.7 537.14L870.9 536.85M877.88 526.25L877.96 526.12L878.3 525.57L878.65 525.02L878.99 524.46L879.33 523.91L879.67 523.36L880.01 522.8L880.35 522.25L880.69 521.7L881.02 521.14L881.36 520.59L881.69 520.04L882.03 519.48L882.36 518.93L882.69 518.37L883.02 517.82L883.35 517.26L883.68 516.71L884 516.16L884.33 515.6L884.65 515.04L884.98 514.49L885.3 513.93L885.63 513.38L885.95 512.82L886.27 512.27L886.59 511.71L886.92 511.15L887.24 510.6L887.56 510.04L887.88 509.49L888.2 508.93L888.51 508.37L888.83 507.81L889.15 507.26L889.37 506.88M895.29 496.41L895.37 496.27L895.69 495.71L896 495.15L896.32 494.59L896.63 494.03L896.95 493.47L897.26 492.91L897.57 492.35L897.89 491.79L898.2 491.23L898.51 490.67L898.83 490.11L899.14 489.55L899.45 488.98L899.77 488.42L900.08 487.86L900.39 487.3L900.7 486.74L901.02 486.18L901.33 485.61L901.64 485.05L901.95 484.49L902.27 483.93L902.58 483.37L902.89 482.8L903.2 482.24L903.51 481.68L903.82 481.12L904.14 480.56L904.45 479.99L904.76 479.43L905.07 478.87L905.38 478.3L905.69 477.74L906 477.18L906.01 477.17M911.78 466.7L911.8 466.66L912.11 466.1L912.42 465.53L912.74 464.97L913.05 464.4L913.36 463.84L913.67 463.28L913.98 462.71L914.29 462.15L914.6 461.58L914.91 461.02L915.22 460.46L915.53 459.89L915.84 459.33L916.15 458.76L916.46 458.2L916.77 457.63L917.08 457.07L917.39 456.5L917.7 455.94L918.01 455.38L918.32 454.81L918.63 454.25L918.95 453.68L919.26 453.12L919.57 452.55L919.88 451.99L920.19 451.43L920.5 450.86L920.81 450.3L921.12 449.73L921.43 449.17L921.75 448.6L922.06 448.04L922.37 447.47L922.37 447.46M928.17 437L928.2 436.94L928.51 436.38L928.82 435.82L929.14 435.25L929.45 434.69L929.77 434.12L930.08 433.56L930.39 433L930.71 432.43L931.02 431.87L931.34 431.31L931.65 430.74L931.97 430.18L932.28 429.62L932.6 429.05L932.91 428.49L933.23 427.93L933.54 427.37L933.86 426.8L934.18 426.24L934.49 425.68L934.81 425.11L935.13 424.55L935.44 423.99L935.76 423.43L936.08 422.86L936.39 422.3L936.71 421.74L937.03 421.18L937.35 420.61L937.66 420.05L937.98 419.49L938.3 418.93L938.62 418.37L938.94 417.81L939.02 417.67M945.07 407.11L945.15 406.97L945.47 406.41L945.8 405.85L946.12 405.29L946.45 404.73L946.77 404.17L947.1 403.61L947.42 403.05L947.75 402.49L948.07 401.94L948.4 401.38L948.73 400.82L949.05 400.26L949.38 399.7L949.71 399.15L950.03 398.59L950.36 398.03L950.69 397.47L951.02 396.92L951.35 396.36L951.68 395.8L952.01 395.25L952.34 394.69L952.67 394.13L953 393.58L953.33 393.02L953.66 392.46L953.99 391.91L954.32 391.35L954.65 390.8L954.99 390.24L955.32 389.69L955.65 389.13L955.99 388.58L956.32 388.02L956.52 387.69M962.98 377.11L963.07 376.97L963.42 376.42L963.76 375.87L964.1 375.32L964.44 374.77L964.79 374.22L965.13 373.67L965.47 373.12L965.82 372.57L966.16 372.02L966.51 371.47L966.86 370.92L967.2 370.37L967.55 369.82L967.9 369.28L968.24 368.73L968.59 368.18L968.94 367.63L969.29 367.09L969.64 366.54L969.99 365.99L970.34 365.45L970.69 364.9L971.04 364.36L971.39 363.81L971.74 363.27L972.09 362.72L972.45 362.18L972.8 361.63L973.15 361.09L973.51 360.55L973.86 360L974.22 359.46L974.57 358.92L974.93 358.37L975.29 357.83L975.3 357.81M982.28 347.38L982.39 347.23L982.76 346.7L983.12 346.16L983.49 345.62L983.86 345.09L984.22 344.56L984.59 344.02L984.96 343.49L985.33 342.96L985.7 342.42L986.07 341.89L986.44 341.36L986.82 340.83L987.19 340.3L987.56 339.77L987.93 339.24L988.31 338.71L988.68 338.18L989.06 337.65L989.43 337.12L989.81 336.59L990.18 336.06L990.56 335.53L990.94 335.01L991.32 334.48L991.69 333.95L992.07 333.43L992.45 332.9L992.83 332.38L993.21 331.85L993.59 331.33L993.97 330.8L994.36 330.28L994.74 329.76L995.12 329.23L995.51 328.71L995.84 328.26M1003.68 317.87L1003.69 317.86L1004.09 317.34L1004.49 316.83L1004.88 316.32L1005.28 315.81L1005.68 315.3L1006.08 314.79L1006.48 314.28L1006.88 313.78L1007.28 313.27L1007.68 312.76L1008.08 312.25L1008.48 311.75L1008.89 311.24L1009.29 310.74L1009.69 310.23L1010.1 309.73L1010.51 309.23L1010.91 308.72L1011.32 308.22L1011.73 307.72L1012.13 307.22L1012.54 306.72L1012.95 306.22L1013.36 305.72L1013.77 305.22L1014.18 304.72L1014.59 304.22L1015.01 303.73L1015.42 303.23L1015.83 302.73L1016.25 302.24L1016.66 301.74L1017.08 301.25L1017.49 300.76L1017.91 300.26L1018.33 299.77L1018.74 299.28L1019.16 298.79L1019.18 298.77M1028.32 288.37L1028.39 288.3L1028.82 287.82L1029.26 287.34L1029.69 286.87L1030.13 286.39L1030.56 285.92L1031 285.45L1031.44 284.97L1031.88 284.5L1032.31 284.03L1032.75 283.56L1033.19 283.09L1033.63 282.62L1034.08 282.15L1034.52 281.68L1034.96 281.21L1035.41 280.75L1035.85 280.28L1036.29 279.82L1036.74 279.35L1037.19 278.89L1037.63 278.42L1038.08 277.96L1038.53 277.5L1038.98 277.04L1039.43 276.58L1039.88 276.12L1040.33 275.66L1040.78 275.2L1041.24 274.75L1041.69 274.29L1042.14 273.83L1042.6 273.38L1043.05 272.92L1043.51 272.47L1043.97 272.02L1044.43 271.57L1044.88 271.12L1045.34 270.66L1045.8 270.22L1046.26 269.77L1046.73 269.32L1046.88 269.17M1058.17 258.68L1058.19 258.66L1058.67 258.23L1059.15 257.8L1059.63 257.38L1060.11 256.95L1060.6 256.53L1061.08 256.1L1061.57 255.68L1062.05 255.26L1062.54 254.84L1063.03 254.42L1063.52 254L1064.01 253.58L1064.5 253.16L1064.99 252.74L1065.48 252.33L1065.97 251.91L1066.46 251.5L1066.95 251.08L1067.45 250.67L1067.94 250.26L1068.44 249.85L1068.93 249.44L1069.43 249.03L1069.93 248.62L1070.43 248.21L1070.93 247.8L1071.43 247.39L1071.93 246.99L1072.43 246.58L1072.93 246.18L1073.43 245.77L1073.93 245.37L1074.44 244.97L1074.94 244.56L1075.45 244.16L1075.95 243.76L1076.46 243.36L1076.96 242.96L1077.47 242.57L1077.98 242.17L1078.49 241.77L1079 241.38L1079.51 240.98L1080.02 240.59L1080.2 240.45M1092.2 231.5L1092.27 231.44L1092.8 231.07L1093.32 230.69L1093.85 230.31L1094.37 229.93L1094.9 229.56L1095.43 229.18L1095.96 228.81L1096.48 228.43L1097.01 228.06L1097.54 227.69L1098.07 227.32L1098.6 226.94L1099.13 226.57L1099.66 226.2L1100.19 225.83L1100.73 225.46L1101.26 225.09L1101.79 224.73L1102.33 224.36L1102.86 223.99L1103.39 223.63L1103.93 223.26L1104.46 222.89L1105 222.53L1105.54 222.16L1106.07 221.8L1106.61 221.44L1107.15 221.07L1107.68 220.71L1108.22 220.35L1108.76 219.99L1109.3 219.63L1109.84 219.27L1110.38 218.91L1110.92 218.55L1111.46 218.19L1112 217.83L1112.54 217.48L1113.08 217.12L1113.63 216.76L1114.17 216.41M1126.07 208.77L1126.19 208.69L1126.74 208.35L1127.3 208L1127.85 207.66L1128.4 207.31L1128.95 206.97L1129.5 206.63L1130.05 206.28L1130.6 205.94L1131.16 205.6L1131.71 205.26L1132.26 204.92L1132.82 204.58L1133.37 204.23L1133.92 203.89L1134.48 203.55L1135.03 203.21L1135.59 202.88L1136.14 202.54L1136.7 202.2L1137.25 201.86L1137.81 201.52L1138.36 201.18L1138.92 200.85L1139.47 200.51L1140.03 200.17L1140.59 199.84L1141.14 199.5L1141.7 199.17L1142.26 198.83L1142.81 198.5L1143.37 198.16L1143.93 197.83L1144.49 197.5L1145.04 197.16L1145.6 196.83L1146.16 196.5L1146.72 196.16L1147.28 195.83L1147.84 195.5L1148.03 195.39M1160 188.36L1160.16 188.27L1160.72 187.94L1161.28 187.62L1161.84 187.29L1162.4 186.97L1162.96 186.64L1163.52 186.32L1164.09 185.99L1164.65 185.67L1165.21 185.34L1165.77 185.02L1166.33 184.7L1166.89 184.37L1167.45 184.05L1168.02 183.72L1168.58 183.4L1169.14 183.08L1169.7 182.76L1170.26 182.43L1170.82 182.11L1171.39 181.79L1171.95 181.47L1172.51 181.14L1173.07 180.82L1173.63 180.5L1174.19 180.18L1174.76 179.86L1175.32 179.54L1175.88 179.22L1176.44 178.9L1177 178.58L1177.56 178.25L1178.13 177.93L1178.69 177.61L1179.25 177.29L1179.81 176.97L1180.37 176.65L1180.93 176.33L1181.49 176.01L1182.05 175.7M1194.06 168.85L1194.18 168.79L1194.74 168.47L1195.3 168.15L1195.86 167.83L1196.41 167.51L1196.97 167.2L1197.53 166.88L1198.09 166.56L1198.64 166.24L1199.2 165.92L1199.76 165.6L1200.31 165.29L1200.87 164.97L1201.43 164.65L1201.98 164.33L1202.54 164.01L1203.09 163.7L1203.65 163.38L1204.2 163.06L1204.76 162.74L1205.31 162.42L1205.87 162.1L1206.42 161.79L1206.97 161.47L1207.53 161.15L1208.08 160.83L1208.63 160.51L1209.19 160.19L1209.74 159.88L1210.29 159.56L1210.84 159.24L1211.4 158.92L1211.95 158.6L1212.5 158.28L1213.05 157.96L1213.6 157.64L1214.15 157.32L1214.7 157L1215.25 156.69L1215.8 156.37L1216.14 156.17" stroke="#008080" stroke-width="4.9" fill="none" stroke-linecap="round" stroke-linejoin="round"/>
<path d="M321.86 170.27L321.91 170.28L322.59 170.35L323.27 170.42L323.95 170.49L324.63 170.56L325.32 170.63L326 170.69L326.68 170.76L327.36 170.82L328.04 170.89L328.73 170.95L329.41 171.01L330.09 171.08L330.78 171.14L331.46 171.2L332.15 171.25L332.83 171.31L333.52 171.37L334.2 171.43L334.89 171.48L335.57 171.54L336.26 171.59L336.94 171.65L337.63 171.7L338.32 171.75L339 171.8L339.69 171.86L340.38 171.91L341.07 171.96L341.75 172.01L342.44 172.06L343.13 172.1L343.82 172.15L344.51 172.2L345.19 172.25L345.88 172.29L346.57 172.34L347.26 172.39L347.95 172.43L348.64 172.48L349.33 172.52L350.02 172.56L350.71 172.61L351.4 172.65L351.59 172.66M363.79 173.4h0.01M376.23 174.14h0.01M388.44 174.97L388.49 174.97L389.18 175.03L389.87 175.08L390.56 175.13L391.25 175.18L391.94 175.24L392.63 175.29L393.32 175.35L394.01 175.4L394.7 175.46L395.38 175.52L396.07 175.58L396.76 175.64L397.45 175.7L398.14 175.76L398.83 175.82L399.51 175.88L400.2 175.94L400.89 176.01L401.58 176.07L402.26 176.14L402.95 176.21L403.64 176.27L404.32 176.34L405.01 176.41L405.69 176.48L406.38 176.55L407.06 176.63L407.75 176.7L408.43 176.78L409.12 176.85L409.8 176.93L410.49 177.01L411.17 177.09L411.85 177.17L412.54 177.25L413.22 177.33L413.9 177.41L414.59 177.5L415.27 177.59L415.95 177.67L416.63 177.76L417.31 177.85L417.99 177.94L418.23 177.98M430.41 179.87h0.01M442.92 182.39h0.01M455.36 185.62L455.47 185.65L456.12 185.85L456.78 186.04L457.43 186.24L458.08 186.44L458.74 186.64L459.39 186.84L460.04 187.04L460.69 187.25L461.34 187.46L462 187.67L462.65 187.88L463.3 188.09L463.95 188.31L464.6 188.52L465.25 188.74L465.9 188.96L466.55 189.17L467.2 189.39L467.85 189.62L468.5 189.84L469.14 190.06L469.79 190.28L470.44 190.51L471.09 190.73L471.74 190.96L472.39 191.18L473.04 191.41L473.69 191.64L474.34 191.86L474.99 192.09L475.64 192.32L476.29 192.54L476.94 192.77L477.59 193L478.24 193.23L478.9 193.45L479.55 193.68L480.2 193.91L480.85 194.14L481.51 194.36L482.16 194.59L482.82 194.81L483.47 195.04L484.13 195.26L484.78 195.48L485.07 195.58M496.94 199.36h0.01M509.36 202.76h0.01M521.62 206.21L521.74 206.25L522.41 206.46L523.07 206.67L523.74 206.88L524.4 207.09L525.06 207.31L525.72 207.53L526.38 207.75L527.04 207.98L527.69 208.21L528.35 208.44L529 208.67L529.66 208.9L530.31 209.14L530.96 209.38L531.61 209.62L532.25 209.86L532.9 210.11L533.55 210.36L534.19 210.61L534.83 210.86L535.48 211.12L536.12 211.37L536.76 211.63L537.39 211.89L538.03 212.16L538.67 212.43L539.3 212.69L539.93 212.96L540.56 213.24L541.2 213.51L541.83 213.79L542.45 214.07L543.08 214.35L543.71 214.64L544.33 214.92L544.95 215.21L545.58 215.5L546.2 215.8L546.82 216.09L547.44 216.39L548.05 216.69L548.67 216.99L549.28 217.29L549.9 217.6L550.51 217.91L551.12 218.22L551.6 218.46M563.87 225.31h0.01M576.27 233.4h0.01M588.43 242.56L588.48 242.6L589.01 243.03L589.54 243.46L590.07 243.9L590.6 244.33L591.13 244.77L591.65 245.21L592.18 245.65L592.71 246.09L593.23 246.53L593.75 246.98L594.27 247.42L594.79 247.87L595.31 248.32L595.83 248.77L596.35 249.22L596.86 249.67L597.38 250.13L597.89 250.58L598.4 251.04L598.91 251.5L599.42 251.96L599.93 252.42L600.44 252.88L600.95 253.35L601.45 253.81L601.96 254.28L602.46 254.75L602.96 255.22L603.46 255.69L603.96 256.16L604.46 256.64L604.96 257.11L605.45 257.59L605.95 258.06L606.44 258.54L606.94 259.02L607.43 259.5L607.92 259.99L608.41 260.47L608.9 260.96L609.38 261.44L609.87 261.93L610.36 262.42L610.84 262.91L611.32 263.4L611.8 263.89L612.29 264.39L612.76 264.88L613.24 265.38L613.72 265.88L614.2 266.37L614.67 266.87L615.15 267.37L615.62 267.88L615.86 268.14M625.29 278.66h0.01M634.48 289.87h0.01M642.38 300.3L642.39 300.32L642.8 300.87L643.2 301.43L643.61 301.99L644.01 302.55L644.41 303.1L644.81 303.66L645.21 304.22L645.61 304.79L646 305.35L646.4 305.91L646.8 306.47L647.19 307.04L647.58 307.6L647.97 308.16L648.37 308.73L648.76 309.3L649.15 309.86L649.53 310.43L649.92 311L650.31 311.56L650.69 312.13L651.08 312.7L651.46 313.27L651.84 313.84L652.22 314.41L652.6 314.99L652.98 315.56L653.36 316.13L653.74 316.71L654.12 317.28L654.49 317.85L654.87 318.43L655.24 319L655.61 319.58L655.98 320.16L656.35 320.74L656.72 321.31L657.09 321.89L657.46 322.47L657.83 323.05L658.2 323.63L658.56 324.21L658.93 324.79L659.29 325.37L659.52 325.74M665.8 336.13h0.01M672.05 347.05h0.01M677.76 357.61L677.82 357.72L678.14 358.33L678.46 358.94L678.78 359.54L679.1 360.15L679.42 360.76L679.74 361.37L680.05 361.98L680.37 362.59L680.68 363.2L681 363.81L681.31 364.42L681.62 365.04L681.94 365.65L682.25 366.26L682.56 366.87L682.87 367.49L683.18 368.1L683.49 368.71L683.8 369.33L684.11 369.94L684.42 370.56L684.72 371.17L685.03 371.79L685.34 372.41L685.64 373.02L685.95 373.64L686.25 374.26L686.56 374.87L686.86 375.49L687.16 376.11L687.46 376.73L687.76 377.35L688.07 377.97L688.37 378.59L688.67 379.2L688.96 379.82L689.26 380.45L689.56 381.07L689.86 381.69L690.16 382.31L690.45 382.93L690.68 383.4M695.61 393.96h0.01M700.63 405.06h0.01M705.28 415.64L705.35 415.82L705.63 416.45L705.9 417.08L706.18 417.72L706.45 418.35L706.72 418.99L707 419.62L707.27 420.26L707.54 420.89L707.81 421.53L708.09 422.16L708.36 422.8L708.63 423.43L708.9 424.07L709.17 424.71L709.44 425.34L709.71 425.98L709.98 426.62L710.25 427.25L710.52 427.89L710.79 428.53L711.06 429.16L711.33 429.8L711.6 430.44L711.87 431.07L712.14 431.71L712.4 432.35L712.67 432.99L712.94 433.62L713.21 434.26L713.47 434.9L713.74 435.54L714.01 436.18L714.28 436.81L714.54 437.45L714.81 438.09L715.07 438.73L715.34 439.37L715.61 440.01L715.87 440.65L716.14 441.28L716.34 441.76M720.81 452.58h0.01M725.36 463.67h0.01M729.74 474.35L729.82 474.54L730.08 475.18L730.35 475.82L730.61 476.46L730.87 477.1L731.13 477.74L731.4 478.38L731.66 479.02L731.92 479.66L732.19 480.29L732.45 480.93L732.71 481.57L732.98 482.21L733.24 482.85L733.5 483.49L733.77 484.12L734.03 484.76L734.3 485.4L734.56 486.04L734.82 486.68L735.09 487.31L735.35 487.95L735.62 488.59L735.88 489.23L736.15 489.86L736.41 490.5L736.68 491.14L736.94 491.77L737.21 492.41L737.47 493.05L737.74 493.68L738 494.32L738.27 494.96L738.54 495.59L738.8 496.23L739.07 496.87L739.34 497.5L739.6 498.14L739.87 498.77L740.14 499.41L740.41 500.04L740.45 500.16M744.9 510.6h0.01M749.74 521.74h0.01M754.47 532.32L754.5 532.39L754.78 533.01L755.07 533.63L755.35 534.26L755.63 534.88L755.92 535.5L756.2 536.12L756.49 536.75L756.78 537.37L757.06 537.99L757.35 538.61L757.64 539.23L757.93 539.85L758.21 540.47L758.5 541.09L758.79 541.71L759.08 542.33L759.37 542.95L759.66 543.57L759.96 544.19L760.25 544.81L760.54 545.42L760.83 546.04L761.13 546.66L761.42 547.27L761.71 547.89L762.01 548.51L762.3 549.12L762.6 549.74L762.9 550.35L763.19 550.97L763.49 551.58L763.79 552.2L764.09 552.81L764.38 553.42L764.68 554.04L764.98 554.65L765.28 555.26L765.59 555.87L765.89 556.48L766.19 557.09L766.49 557.71L766.69 558.11M772.06 568.65h0.01M778.1 579.79h0.01M784.16 590.2L784.18 590.24L784.56 590.86L784.93 591.48L785.31 592.1L785.7 592.72L786.08 593.34L786.47 593.96L786.86 594.58L787.25 595.2L787.64 595.82L788.04 596.43L788.44 597.05L788.84 597.66L789.25 598.27L789.66 598.88L790.07 599.49L790.48 600.09L790.9 600.7L791.32 601.3L791.74 601.89L792.16 602.48L792.59 603.07L793.02 603.66L793.45 604.24L793.89 604.82L794.33 605.39L794.78 605.96L795.22 606.52L795.67 607.08L796.12 607.63L796.58 608.18L797.04 608.72L797.51 609.26L797.97 609.79L798.44 610.31L798.92 610.83L799.39 611.34L799.88 611.85L800.36 612.35L800.85 612.84L801.34 613.32L801.84 613.79L802.34 614.26L802.84 614.72L803.35 615.17L803.86 615.61L804.38 616.05L804.57 616.21M817.05 623.03h0.01M829.41 624.06h0.01M841.57 620.79L841.59 620.78L842.18 620.5L842.77 620.21L843.36 619.91L843.94 619.6L844.51 619.28L845.07 618.95L845.63 618.61L846.19 618.26L846.74 617.91L847.28 617.54L847.82 617.17L848.36 616.78L848.88 616.39L849.41 615.99L849.92 615.58L850.44 615.17L850.94 614.75L851.45 614.31L851.95 613.88L852.44 613.43L852.93 612.98L853.41 612.52L853.89 612.05L854.37 611.58L854.84 611.1L855.31 610.61L855.77 610.12L856.23 609.62L856.69 609.12L857.14 608.61L857.59 608.09L858.03 607.57L858.47 607.04L858.91 606.51L859.34 605.97L859.77 605.43L860.2 604.88L860.62 604.33L861.04 603.77L861.46 603.21L861.87 602.65L862.28 602.08L862.69 601.51L863.1 600.93L863.5 600.35L863.9 599.77L864.3 599.18L864.7 598.6L865.09 598L865.48 597.41L865.81 596.9M872.35 586.19h0.01M878.88 574.85h0.01M884.74 564.31L884.84 564.12L885.18 563.5L885.52 562.88L885.85 562.26L886.19 561.64L886.52 561.02L886.86 560.4L887.19 559.78L887.53 559.16L887.86 558.55L888.19 557.93L888.52 557.31L888.85 556.69L889.18 556.07L889.51 555.45L889.84 554.83L890.17 554.21L890.5 553.59L890.83 552.97L891.16 552.35L891.48 551.74L891.81 551.12L892.13 550.5L892.46 549.88L892.78 549.26L893.11 548.64L893.43 548.02L893.75 547.4L894.08 546.78L894.4 546.16L894.72 545.55L895.04 544.93L895.36 544.31L895.68 543.69L896 543.07L896.32 542.45L896.64 541.83L896.95 541.21L897.27 540.59L897.59 539.98L897.91 539.36L898.08 539.01M903.22 528.84h0.01M908.65 517.88h0.01M913.88 507.13L913.95 507L914.25 506.38L914.55 505.76L914.84 505.14L915.14 504.53L915.44 503.91L915.74 503.29L916.04 502.67L916.33 502.06L916.63 501.44L916.93 500.82L917.22 500.21L917.52 499.59L917.82 498.97L918.11 498.35L918.41 497.74L918.71 497.12L919 496.5L919.3 495.89L919.59 495.27L919.89 494.65L920.18 494.03L920.48 493.42L920.77 492.8L921.07 492.18L921.36 491.57L921.66 490.95L921.95 490.33L922.25 489.72L922.54 489.1L922.84 488.48L923.13 487.87L923.43 487.25L923.72 486.63L924.01 486.02L924.31 485.4L924.6 484.79L924.9 484.17L925.19 483.55L925.48 482.94L925.78 482.32L926.07 481.71L926.37 481.09L926.47 480.86M931.61 470.11h0.01M936.86 459.15h0.01M942 448.54L942.01 448.52L942.3 447.91L942.6 447.29L942.9 446.68L943.2 446.07L943.5 445.45L943.8 444.84L944.1 444.23L944.4 443.62L944.7 443L945 442.39L945.3 441.78L945.61 441.17L945.91 440.56L946.21 439.94L946.51 439.33L946.81 438.72L947.12 438.11L947.42 437.5L947.72 436.88L948.03 436.27L948.33 435.66L948.63 435.05L948.94 434.44L949.24 433.83L949.55 433.22L949.85 432.61L950.16 431.99L950.47 431.38L950.77 430.77L951.08 430.16L951.39 429.55L951.69 428.94L952 428.33L952.31 427.72L952.62 427.11L952.93 426.5L953.24 425.89L953.55 425.28L953.86 424.67L954.17 424.06L954.48 423.45L954.79 422.84L954.83 422.77M960.25 412.28h0.01M966.29 400.94h0.01M972.12 390.36L972.17 390.26L972.51 389.66L972.85 389.06L973.19 388.45L973.53 387.85L973.87 387.25L974.21 386.65L974.55 386.05L974.89 385.45L975.23 384.85L975.58 384.24L975.92 383.64L976.26 383.04L976.61 382.44L976.95 381.84L977.3 381.24L977.64 380.65L977.99 380.05L978.34 379.45L978.68 378.85L979.03 378.25L979.38 377.65L979.73 377.06L980.08 376.46L980.43 375.86L980.78 375.26L981.13 374.67L981.49 374.07L981.84 373.48L982.19 372.88L982.55 372.28L982.9 371.69L983.26 371.09L983.61 370.5L983.97 369.91L984.33 369.31L984.68 368.72L985.04 368.13L985.4 367.53L985.76 366.94L986.12 366.35L986.48 365.76L986.84 365.17L987.2 364.58L987.22 364.54M993.82 354h0.01M1001.02 342.98h0.01M1008.35 332.3L1008.46 332.14L1008.86 331.57L1009.26 331.01L1009.66 330.44L1010.06 329.88L1010.46 329.32L1010.86 328.75L1011.27 328.19L1011.67 327.63L1012.08 327.07L1012.48 326.51L1012.89 325.95L1013.29 325.39L1013.7 324.83L1014.11 324.27L1014.51 323.71L1014.92 323.16L1015.33 322.6L1015.74 322.05L1016.16 321.49L1016.57 320.94L1016.98 320.38L1017.39 319.83L1017.81 319.27L1018.22 318.72L1018.64 318.17L1019.05 317.62L1019.47 317.07L1019.89 316.52L1020.31 315.97L1020.73 315.42L1021.15 314.87L1021.57 314.33L1021.99 313.78L1022.41 313.23L1022.83 312.69L1023.26 312.14L1023.68 311.6L1024.11 311.06L1024.53 310.51L1024.96 309.97L1025.39 309.43L1025.82 308.89L1026.24 308.35L1026.67 307.81L1027.1 307.27L1027.54 306.74L1027.7 306.53M1036.32 296.13h0.01M1045.89 285.32h0.01M1055.91 274.77L1055.98 274.7L1056.46 274.21L1056.94 273.72L1057.42 273.24L1057.91 272.75L1058.39 272.26L1058.88 271.78L1059.36 271.29L1059.85 270.81L1060.34 270.33L1060.83 269.85L1061.32 269.37L1061.81 268.89L1062.3 268.41L1062.79 267.93L1063.28 267.45L1063.77 266.97L1064.27 266.49L1064.76 266.02L1065.25 265.54L1065.75 265.07L1066.25 264.6L1066.74 264.12L1067.24 263.65L1067.74 263.18L1068.24 262.71L1068.74 262.24L1069.24 261.77L1069.74 261.3L1070.24 260.83L1070.74 260.37L1071.25 259.9L1071.75 259.43L1072.26 258.97L1072.76 258.5L1073.27 258.04L1073.77 257.58L1074.28 257.11L1074.79 256.65L1075.3 256.19L1075.81 255.73L1076.32 255.27L1076.83 254.81L1077.34 254.36L1077.85 253.9L1078.36 253.44L1078.88 252.99L1079.39 252.53L1079.9 252.08L1080.42 251.62L1080.94 251.17L1081.45 250.72L1081.97 250.26L1082.49 249.81L1083 249.36L1083.49 248.94M1095.62 238.73h0.01M1108 228.88h0.01M1120.11 219.69L1120.26 219.58L1120.82 219.17L1121.37 218.76L1121.93 218.35L1122.48 217.94L1123.04 217.53L1123.59 217.13L1124.15 216.72L1124.71 216.31L1125.27 215.91L1125.82 215.5L1126.38 215.09L1126.94 214.69L1127.5 214.29L1128.06 213.88L1128.62 213.48L1129.18 213.07L1129.74 212.67L1130.3 212.27L1130.86 211.87L1131.42 211.47L1131.98 211.07L1132.55 210.67L1133.11 210.27L1133.67 209.87L1134.24 209.47L1134.8 209.07L1135.36 208.67L1135.93 208.27L1136.49 207.88L1137.06 207.48L1137.62 207.08L1138.19 206.69L1138.75 206.29L1139.32 205.9L1139.89 205.5L1140.45 205.11L1141.02 204.71L1141.59 204.32L1142.16 203.93L1142.72 203.53L1143.29 203.14L1143.86 202.75L1144.43 202.36L1145 201.97L1145.57 201.57L1146.14 201.18L1146.71 200.79L1147.28 200.41L1147.85 200.02L1148.42 199.63L1148.99 199.24L1149.57 198.85L1149.71 198.75M1161.82 190.66h0.01M1174.17 182.61h0.01M1186.3 174.87L1186.38 174.82L1186.96 174.45L1187.55 174.08L1188.13 173.72L1188.71 173.35L1189.3 172.98L1189.88 172.61L1190.46 172.25L1191.05 171.88L1191.63 171.51L1192.21 171.15L1192.8 170.78L1193.38 170.41L1193.96 170.05L1194.55 169.68L1195.13 169.32L1195.72 168.95L1196.3 168.59L1196.88 168.22L1197.47 167.86L1198.05 167.49L1198.64 167.13L1199.22 166.76L1199.8 166.4L1200.39 166.03L1200.97 165.67L1201.56 165.31L1202.14 164.94L1202.72 164.58L1203.31 164.22L1203.89 163.85L1204.48 163.49L1205.06 163.13L1205.64 162.77L1206.23 162.4L1206.81 162.04L1207.4 161.68L1207.98 161.32L1208.56 160.96L1209.15 160.6L1209.73 160.23L1210.32 159.87L1210.9 159.51L1211.48 159.15L1212.07 158.79L1212.65 158.43L1213.24 158.07L1213.82 157.71L1214.4 157.35L1214.99 156.99L1215.57 156.63L1215.93 156.41" stroke="#0000c0" stroke-width="4.9" fill="none" stroke-linecap="round" stroke-linejoin="round"/>
<path d="M310.09 170.89L310.33 170.92L311.06 170.99L311.79 171.06L312.52 171.13L313.25 171.19L313.97 171.26L314.7 171.33L315.43 171.4L316.16 171.46L316.89 171.53L317.62 171.59L318.35 171.66L319.08 171.72L319.81 171.79L320.54 171.85L321.28 171.91L322.01 171.98L322.74 172.04L323.47 172.1L324.2 172.16L324.93 172.22L325.67 172.28L326.4 172.34L327.13 172.4L327.86 172.46L328.6 172.52L329.33 172.58L330.06 172.64L330.8 172.7L331.53 172.75L332.26 172.81L333 172.87L333.73 172.93L334.46 172.98L335.2 173.04L335.93 173.1L336.53 173.14M356.43 174.64L356.52 174.65L357.26 174.7L358 174.76L358.73 174.82L359.47 174.87L360.21 174.93L360.94 174.99L361.68 175.05L362.41 175.1L363.15 175.16L363.89 175.22L364.62 175.28L365.36 175.34L366.09 175.4L366.83 175.46L367.57 175.52L368.3 175.58L369.04 175.64L369.77 175.7L370.51 175.76L371.25 175.82L371.98 175.89L372.72 175.95L373.45 176.01L374.19 176.08L374.92 176.14L375.66 176.21L376.39 176.27L377.13 176.34L377.86 176.41L378.6 176.47L379.33 176.54L380.07 176.61L380.8 176.68L381.54 176.75L382.27 176.82L383.01 176.89L383.74 176.96L384.47 177.04L385.21 177.11L385.94 177.18L386.68 177.26L387.41 177.33L388.14 177.41L388.88 177.48L389.61 177.56L390.34 177.64L391.08 177.72L391.81 177.8L392.54 177.88L393.27 177.96L394.01 178.04L394.74 178.13L395.47 178.21L396.2 178.29L396.93 178.38L397.66 178.47L398.4 178.55L399.13 178.64L399.57 178.7M419.59 181.57L419.74 181.59L420.47 181.72L421.19 181.84L421.91 181.96L422.64 182.09L423.36 182.22L424.08 182.34L424.8 182.47L425.52 182.61L426.25 182.74L426.97 182.87L427.69 183.01L428.41 183.15L429.13 183.28L429.85 183.42L430.57 183.57L431.28 183.71L432 183.85L432.72 184L433.44 184.15L434.16 184.3L434.87 184.45L435.59 184.6L436.31 184.75L437.02 184.91L437.74 185.07L438.45 185.23L439.17 185.39L439.88 185.55L440.6 185.71L441.31 185.88L442.02 186.05L442.73 186.22L443.45 186.39L444.16 186.56L444.87 186.73L445.58 186.91L446.29 187.09L447 187.27L447.71 187.45L448.42 187.63L449.13 187.82L449.84 188.01L450.55 188.2L451.25 188.39L451.96 188.58L452.67 188.77L453.37 188.97L454.08 189.17L454.78 189.37L455.49 189.57L456.19 189.77L456.9 189.98L457.6 190.19L458.31 190.39L459.01 190.6L459.71 190.82L460.41 191.03L461.11 191.24L461.82 191.46L462.52 191.68L462.74 191.75M482.65 198.57L482.71 198.59L483.4 198.85L484.09 199.1L484.78 199.36L485.47 199.62L486.17 199.88L486.86 200.14L487.55 200.4L488.24 200.66L488.93 200.92L489.62 201.19L490.31 201.45L491 201.71L491.69 201.98L492.38 202.25L493.07 202.51L493.76 202.78L494.45 203.05L495.14 203.32L495.83 203.59L496.52 203.86L497.2 204.13L497.89 204.4L498.58 204.67L499.27 204.95L499.96 205.22L500.65 205.49L501.33 205.77L502.02 206.04L502.71 206.32L503.4 206.59L504.09 206.87L504.77 207.14L505.46 207.42L506.15 207.69L506.84 207.97L507.52 208.25L508.21 208.53L508.9 208.8L509.58 209.08L510.27 209.36L510.96 209.64L511.65 209.92L512.33 210.2L513.02 210.48L513.71 210.75L514.4 211.03L515.08 211.31L515.77 211.59L516.46 211.87L517.14 212.15L517.83 212.43L518.52 212.71L519.21 212.99L519.89 213.27L520.58 213.55L521.27 213.83L521.95 214.1L522.64 214.38L523.33 214.66L524.02 214.94L524.7 215.22L525.33 215.47M544.92 223.49L545.03 223.54L545.71 223.83L546.39 224.12L547.06 224.42L547.74 224.71L548.41 225.01L549.08 225.31L549.75 225.61L550.43 225.91L551.1 226.21L551.76 226.52L552.43 226.82L553.1 227.13L553.76 227.44L554.43 227.76L555.09 228.07L555.75 228.39L556.41 228.7L557.07 229.03L557.73 229.35L558.38 229.67L559.04 230L559.69 230.33L560.34 230.66L560.99 231L561.64 231.34L562.28 231.68L562.93 232.02L563.57 232.36L564.21 232.71L564.85 233.06L565.49 233.42L566.12 233.77L566.76 234.13L567.39 234.5L568.02 234.86L568.65 235.23L569.27 235.6L569.9 235.98L570.52 236.36L571.14 236.74L571.75 237.12L572.37 237.51L572.98 237.91L573.59 238.3L574.2 238.7L574.81 239.11L575.41 239.51L576.01 239.92L576.61 240.34L577.21 240.76L577.8 241.18L578.39 241.61L578.98 242.04L579.57 242.48L580.15 242.92L580.73 243.36L581.31 243.81L581.89 244.26L582.46 244.72L583.03 245.18L583.6 245.64L584.16 246.11L584.72 246.59L585.28 247.07L585.84 247.55L586.39 248.04L586.94 248.54L587.49 249.04L588.03 249.54L588.57 250.05L589.11 250.56L589.31 250.76M606.07 269.69L606.09 269.71L606.56 270.29L607.03 270.88L607.5 271.46L607.97 272.05L608.44 272.63L608.91 273.21L609.38 273.8L609.85 274.38L610.31 274.96L610.78 275.55L611.24 276.13L611.7 276.71L612.17 277.29L612.63 277.87L613.09 278.45L613.55 279.04L614.01 279.62L614.47 280.2L614.93 280.78L615.38 281.36L615.84 281.94L616.29 282.52L616.75 283.1L617.2 283.68L617.66 284.26L618.11 284.84L618.56 285.42L619.01 286L619.46 286.58L619.91 287.16L620.36 287.75L620.8 288.33L621.25 288.91L621.69 289.49L622.14 290.07L622.58 290.65L623.03 291.23L623.47 291.81L623.91 292.39L624.35 292.98L624.79 293.56L625.23 294.14L625.67 294.72L626.1 295.31L626.54 295.89L626.98 296.47L627.41 297.06L627.85 297.64L628.28 298.23L628.71 298.81L629.14 299.4L629.58 299.98L630.01 300.57L630.44 301.16L630.86 301.74L631.29 302.33L631.72 302.92L632.15 303.51L632.57 304.1L633 304.69L633.42 305.28L633.84 305.87L634.27 306.46L634.69 307.05L635.11 307.64L635.53 308.23L635.95 308.83L635.96 308.84M647.62 326.14L647.65 326.18L648.04 326.79L648.44 327.41L648.84 328.04L649.23 328.66L649.62 329.28L650.02 329.9L650.41 330.53L650.8 331.16L651.19 331.78L651.58 332.41L651.97 333.04L652.36 333.67L652.74 334.3L653.13 334.93L653.51 335.56L653.9 336.2L654.28 336.83L654.66 337.47L655.05 338.1L655.43 338.74L655.81 339.38L656.18 340.02L656.56 340.65L656.94 341.29L657.31 341.94L657.69 342.58L658.06 343.22L658.43 343.86L658.81 344.5L659.18 345.15L659.54 345.79L659.91 346.44L660.28 347.09L660.65 347.73L661.01 348.38L661.37 349.03L661.74 349.68L662.1 350.33L662.46 350.98L662.82 351.63L663.17 352.28L663.53 352.93L663.89 353.58L664.24 354.24L664.59 354.89L664.94 355.54L665.29 356.2L665.64 356.85L665.99 357.51L666.34 358.16L666.68 358.82L667.03 359.48L667.37 360.13L667.71 360.79L668.05 361.45L668.39 362.11L668.73 362.77L669.06 363.43L669.21 363.72M677.57 381.21L677.63 381.35L677.94 382.01L678.24 382.68L678.53 383.35L678.83 384.02L679.13 384.69L679.43 385.36L679.72 386.03L680.01 386.7L680.31 387.37L680.6 388.04L680.89 388.71L681.18 389.38L681.47 390.05L681.76 390.73L682.05 391.4L682.33 392.07L682.62 392.74L682.91 393.42L683.19 394.09L683.47 394.76L683.76 395.44L684.04 396.11L684.32 396.78L684.6 397.46L684.88 398.13L685.16 398.81L685.44 399.48L685.72 400.16L685.99 400.84L686.27 401.51L686.54 402.19L686.82 402.86L687.09 403.54L687.37 404.22L687.64 404.9L687.91 405.57L688.19 406.25L688.46 406.93L688.73 407.61L689 408.28L689.27 408.96L689.54 409.64L689.81 410.32L690.07 411L690.34 411.68L690.61 412.36L690.88 413.04L691.14 413.72L691.41 414.4L691.68 415.08L691.94 415.76L692.21 416.44L692.47 417.13L692.74 417.81L693 418.49L693.2 419M699.87 436.49L699.88 436.51L700.14 437.2L700.41 437.89L700.67 438.57L700.93 439.26L701.19 439.95L701.45 440.64L701.71 441.32L701.97 442.01L702.23 442.7L702.49 443.39L702.75 444.08L703.01 444.77L703.27 445.45L703.53 446.14L703.79 446.83L704.05 447.52L704.32 448.21L704.58 448.9L704.84 449.59L705.1 450.28L705.36 450.97L705.62 451.66L705.88 452.35L706.14 453.04L706.4 453.73L706.66 454.42L706.93 455.11L707.19 455.8L707.45 456.49L707.71 457.18L707.97 457.87L708.23 458.56L708.49 459.25L708.75 459.95L709.02 460.64L709.28 461.33L709.54 462.02L709.8 462.71L710.06 463.4L710.32 464.09L710.58 464.79L710.85 465.48L711.11 466.17L711.37 466.86L711.63 467.55L711.89 468.25L712.15 468.94L712.42 469.63L712.68 470.32L712.94 471.01L713.2 471.71L713.46 472.4L713.73 473.09L713.99 473.78L714.12 474.14M720.69 491.5L720.72 491.57L720.98 492.27L721.24 492.96L721.5 493.65L721.77 494.35L722.03 495.04L722.29 495.73L722.55 496.43L722.82 497.12L723.08 497.81L723.34 498.51L723.6 499.2L723.87 499.89L724.13 500.59L724.39 501.28L724.65 501.97L724.92 502.66L725.18 503.36L725.44 504.05L725.71 504.74L725.97 505.44L726.23 506.13L726.49 506.82L726.76 507.51L727.02 508.21L727.28 508.9L727.55 509.59L727.81 510.29L728.07 510.98L728.33 511.67L728.6 512.36L728.86 513.05L729.12 513.75L729.39 514.44L729.65 515.13L729.91 515.82L730.18 516.51L730.44 517.21L730.7 517.9L730.97 518.59L731.23 519.28L731.49 519.97L731.76 520.66L732.02 521.36L732.28 522.05L732.55 522.74L732.81 523.43L733.07 524.12L733.34 524.81L733.6 525.5L733.86 526.19L734.13 526.88L734.39 527.57L734.65 528.26L734.92 528.95L735 529.17M741.7 546.66L741.77 546.85L742.04 547.54L742.3 548.23L742.56 548.91L742.83 549.6L743.09 550.28L743.35 550.97L743.62 551.65L743.88 552.34L744.15 553.02L744.41 553.71L744.67 554.39L744.94 555.08L745.2 555.76L745.47 556.45L745.73 557.13L746 557.81L746.26 558.5L746.52 559.18L746.79 559.86L747.05 560.55L747.32 561.23L747.58 561.91L747.84 562.59L748.11 563.27L748.37 563.96L748.64 564.64L748.9 565.32L749.17 566L749.43 566.68L749.69 567.36L749.96 568.04L750.22 568.72L750.49 569.4L750.75 570.08L751.01 570.76L751.28 571.44L751.54 572.12L751.81 572.8L752.07 573.48L752.34 574.15L752.6 574.83L752.87 575.51L753.13 576.19L753.39 576.86L753.66 577.54L753.92 578.22L754.19 578.89L754.45 579.57L754.72 580.24L754.98 580.92L755.25 581.6L755.51 582.27L755.77 582.95L756.04 583.62L756.3 584.29L756.31 584.32M763.23 601.67L763.26 601.74L763.53 602.41L763.81 603.08L764.08 603.75L764.36 604.42L764.64 605.09L764.92 605.76L765.2 606.43L765.48 607.09L765.76 607.76L766.04 608.43L766.32 609.1L766.61 609.77L766.89 610.44L767.18 611.11L767.46 611.77L767.75 612.44L768.04 613.11L768.33 613.78L768.63 614.45L768.92 615.12L769.21 615.79L769.51 616.46L769.81 617.13L770.11 617.8L770.41 618.47L770.71 619.13L771.01 619.8L771.31 620.47L771.62 621.14L771.93 621.81L772.24 622.48L772.55 623.16L772.86 623.83L773.17 624.5L773.49 625.17L773.81 625.84L774.13 626.51L774.45 627.18L774.77 627.85L775.09 628.53L775.42 629.2L775.75 629.87L776.08 630.54L776.41 631.22L776.74 631.89L777.08 632.56L777.42 633.24L777.76 633.91L778.1 634.58L778.45 635.26L778.79 635.93L779.14 636.61L779.49 637.29L779.84 637.96L780.2 638.64L780.56 639.31L780.6 639.4M790.69 656.97L790.75 657.06L791.18 657.75L791.61 658.44L792.05 659.12L792.48 659.81L792.93 660.5L793.37 661.18L793.82 661.87L794.27 662.55L794.73 663.23L795.19 663.91L795.65 664.58L796.11 665.25L796.58 665.92L797.05 666.58L797.53 667.24L798.01 667.89L798.49 668.53L798.97 669.18L799.46 669.81L799.96 670.44L800.45 671.06L800.95 671.68L801.45 672.29L801.96 672.89L802.47 673.48L802.99 674.06L803.5 674.64L804.03 675.21L804.55 675.76L805.08 676.31L805.61 676.84L806.15 677.37L806.69 677.89L807.24 678.39L807.79 678.88L808.34 679.36L808.9 679.83L809.46 680.28L810.02 680.72L810.59 681.15L811.16 681.57L811.74 681.97L812.32 682.35L812.91 682.73L813.5 683.08L814.09 683.42L814.69 683.75L815.29 684.06L815.9 684.35L816.51 684.62L817.12 684.88L817.74 685.12L818.37 685.34L819 685.55L819.63 685.73L820.27 685.9L820.91 686.04L821.56 686.17L822.21 686.28L822.86 686.36L823.52 686.43L824.19 686.47L824.86 686.5L825.53 686.5L826.21 686.48L826.47 686.46M846.87 677.94L846.95 677.88L847.55 677.42L848.15 676.95L848.73 676.48L849.31 676L849.88 675.51L850.45 675.02L851 674.52L851.55 674.02L852.09 673.51L852.62 672.99L853.15 672.47L853.67 671.94L854.18 671.41L854.69 670.87L855.19 670.33L855.68 669.78L856.16 669.22L856.64 668.66L857.12 668.1L857.59 667.53L858.05 666.96L858.5 666.38L858.96 665.79L859.4 665.21L859.84 664.61L860.27 664.02L860.7 663.42L861.13 662.81L861.55 662.21L861.96 661.59L862.37 660.98L862.78 660.36L863.18 659.74L863.58 659.11L863.97 658.48L864.36 657.85L864.74 657.22L865.12 656.58L865.5 655.94L865.88 655.29L866.25 654.65L866.61 654L866.98 653.35L867.34 652.7L867.7 652.04L868.05 651.38L868.4 650.73L868.75 650.06L869.1 649.4L869.45 648.74L869.79 648.07L870.13 647.41L870.47 646.74L870.81 646.07L871.14 645.4L871.48 644.73L871.81 644.05L872.14 643.38L872.47 642.71L872.8 642.03L873.13 641.36L873.46 640.68L873.78 640.01L873.84 639.9M882.17 622.32L882.22 622.23L882.53 621.56L882.84 620.88L883.16 620.21L883.47 619.53L883.78 618.85L884.09 618.18L884.41 617.5L884.72 616.83L885.03 616.15L885.34 615.48L885.65 614.8L885.96 614.13L886.27 613.45L886.58 612.78L886.89 612.1L887.2 611.43L887.51 610.75L887.81 610.08L888.12 609.4L888.43 608.73L888.73 608.05L889.04 607.38L889.35 606.7L889.65 606.03L889.96 605.35L890.26 604.68L890.57 604L890.87 603.33L891.18 602.65L891.48 601.98L891.78 601.3L892.09 600.63L892.39 599.95L892.69 599.28L892.99 598.6L893.3 597.93L893.6 597.25L893.9 596.58L894.2 595.9L894.5 595.23L894.8 594.55L895.1 593.88L895.4 593.2L895.7 592.53L896 591.85L896.3 591.18L896.6 590.51L896.9 589.83L897.2 589.16L897.49 588.48L897.79 587.81L898.09 587.13L898.39 586.46L898.68 585.78L898.98 585.11L899.18 584.66M906.71 567.37L906.72 567.34L907.01 566.67L907.3 565.99L907.59 565.32L907.88 564.64L908.17 563.97L908.47 563.29L908.76 562.62L909.05 561.95L909.34 561.27L909.63 560.6L909.92 559.92L910.21 559.25L910.5 558.57L910.79 557.9L911.08 557.23L911.36 556.55L911.65 555.88L911.94 555.2L912.23 554.53L912.52 553.85L912.81 553.18L913.1 552.51L913.39 551.83L913.68 551.16L913.96 550.48L914.25 549.81L914.54 549.14L914.83 548.46L915.12 547.79L915.41 547.11L915.69 546.44L915.98 545.77L916.27 545.09L916.56 544.42L916.85 543.74L917.13 543.07L917.42 542.4L917.71 541.72L918 541.05L918.28 540.37L918.57 539.7L918.86 539.03L919.15 538.35L919.43 537.68L919.72 537.01L920.01 536.33L920.3 535.66L920.58 534.98L920.87 534.31L921.16 533.64L921.45 532.96L921.73 532.29L922.02 531.62L922.31 530.94L922.6 530.27L922.8 529.79M930.28 512.3L930.37 512.09L930.66 511.42L930.95 510.75L931.24 510.07L931.53 509.4L931.81 508.73L932.1 508.06L932.39 507.38L932.68 506.71L932.97 506.04L933.26 505.37L933.55 504.69L933.84 504.02L934.13 503.35L934.42 502.67L934.71 502L935 501.33L935.3 500.66L935.59 499.99L935.88 499.31L936.17 498.64L936.46 497.97L936.75 497.3L937.04 496.62L937.33 495.95L937.63 495.28L937.92 494.61L938.21 493.93L938.5 493.26L938.8 492.59L939.09 491.92L939.38 491.25L939.68 490.57L939.97 489.9L940.26 489.23L940.56 488.56L940.85 487.89L941.15 487.21L941.44 486.54L941.73 485.87L942.03 485.2L942.32 484.53L942.62 483.86L942.92 483.18L943.21 482.51L943.51 481.84L943.8 481.17L944.1 480.5L944.4 479.83L944.69 479.15L944.99 478.48L945.29 477.81L945.59 477.14L945.88 476.47L946.18 475.8L946.48 475.13L946.76 474.49M954.65 457L954.75 456.79L955.06 456.12L955.36 455.45L955.67 454.78L955.98 454.11L956.29 453.44L956.6 452.77L956.91 452.1L957.22 451.43L957.53 450.76L957.84 450.09L958.15 449.42L958.46 448.75L958.77 448.08L959.08 447.41L959.39 446.74L959.71 446.07L960.02 445.4L960.33 444.73L960.65 444.06L960.96 443.4L961.28 442.73L961.59 442.06L961.91 441.39L962.22 440.72L962.54 440.05L962.85 439.38L963.17 438.72L963.49 438.05L963.81 437.38L964.12 436.71L964.44 436.04L964.76 435.38L965.08 434.71L965.4 434.04L965.72 433.37L966.04 432.71L966.36 432.04L966.68 431.37L967.01 430.71L967.33 430.04L967.65 429.37L967.97 428.71L968.3 428.04L968.62 427.38L968.95 426.71L969.27 426.05L969.6 425.38L969.92 424.72L970.25 424.05L970.58 423.39L970.9 422.72L971.23 422.06L971.56 421.39L971.89 420.73L972.22 420.07L972.55 419.4L972.61 419.28M981.49 401.87L981.53 401.8L981.87 401.14L982.21 400.49L982.56 399.83L982.9 399.17L983.25 398.52L983.6 397.86L983.94 397.21L984.29 396.55L984.64 395.9L984.99 395.25L985.34 394.59L985.69 393.94L986.04 393.29L986.39 392.63L986.74 391.98L987.09 391.33L987.45 390.68L987.8 390.03L988.16 389.38L988.51 388.73L988.86 388.08L989.22 387.43L989.58 386.78L989.93 386.13L990.29 385.48L990.65 384.83L991.01 384.18L991.37 383.54L991.73 382.89L992.09 382.24L992.45 381.6L992.81 380.95L993.17 380.31L993.54 379.66L993.9 379.02L994.27 378.37L994.63 377.73L995 377.08L995.36 376.44L995.73 375.8L996.1 375.16L996.46 374.51L996.83 373.87L997.2 373.23L997.57 372.59L997.94 371.95L998.31 371.31L998.69 370.67L999.06 370.03L999.43 369.39L999.81 368.76L1000.18 368.12L1000.56 367.48L1000.93 366.85L1001.31 366.21L1001.69 365.57L1002.06 364.94L1002.44 364.3L1002.48 364.25M1013.26 346.84L1013.33 346.73L1013.73 346.11L1014.13 345.49L1014.53 344.87L1014.93 344.26L1015.34 343.64L1015.74 343.02L1016.14 342.4L1016.55 341.79L1016.95 341.17L1017.36 340.56L1017.77 339.94L1018.17 339.33L1018.58 338.72L1018.99 338.11L1019.4 337.49L1019.81 336.88L1020.22 336.27L1020.64 335.66L1021.05 335.05L1021.46 334.44L1021.88 333.84L1022.29 333.23L1022.71 332.62L1023.13 332.01L1023.54 331.41L1023.96 330.8L1024.38 330.2L1024.8 329.6L1025.22 328.99L1025.65 328.39L1026.07 327.79L1026.49 327.19L1026.92 326.59L1027.34 325.99L1027.77 325.39L1028.2 324.79L1028.62 324.19L1029.05 323.59L1029.48 323L1029.91 322.4L1030.34 321.81L1030.77 321.21L1031.21 320.62L1031.64 320.03L1032.08 319.43L1032.51 318.84L1032.95 318.25L1033.38 317.66L1033.82 317.07L1034.26 316.48L1034.7 315.89L1035.14 315.31L1035.58 314.72L1036.02 314.13L1036.47 313.55L1036.91 312.96L1037.36 312.38L1037.8 311.8L1038.25 311.21L1038.7 310.63L1039.15 310.05L1039.59 309.47L1039.83 309.17M1054.1 291.72L1054.14 291.69L1054.62 291.13L1055.1 290.58L1055.58 290.02L1056.06 289.47L1056.54 288.92L1057.03 288.37L1057.51 287.82L1058 287.27L1058.49 286.72L1058.97 286.18L1059.46 285.63L1059.95 285.09L1060.44 284.54L1060.93 284L1061.43 283.45L1061.92 282.91L1062.41 282.37L1062.91 281.83L1063.4 281.29L1063.9 280.75L1064.4 280.21L1064.9 279.67L1065.4 279.14L1065.9 278.6L1066.4 278.06L1066.9 277.53L1067.4 277L1067.91 276.46L1068.41 275.93L1068.92 275.4L1069.42 274.87L1069.93 274.34L1070.44 273.81L1070.95 273.28L1071.46 272.75L1071.97 272.23L1072.48 271.7L1072.99 271.17L1073.5 270.65L1074.01 270.12L1074.53 269.6L1075.04 269.08L1075.56 268.56L1076.08 268.03L1076.59 267.51L1077.11 266.99L1077.63 266.47L1078.15 265.96L1078.67 265.44L1079.19 264.92L1079.72 264.4L1080.24 263.89L1080.76 263.37L1081.29 262.86L1081.81 262.35L1082.34 261.83L1082.86 261.32L1083.39 260.81L1083.92 260.3L1084.45 259.79L1084.98 259.28L1085.51 258.77L1086.04 258.26L1086.57 257.75L1087.1 257.25L1087.64 256.74L1088.17 256.23L1088.7 255.73L1089.24 255.23L1089.78 254.72L1090.31 254.22L1090.52 254.02M1109.95 236.59L1110.05 236.51L1110.6 236.03L1111.16 235.55L1111.72 235.07L1112.28 234.59L1112.85 234.11L1113.41 233.63L1113.97 233.16L1114.53 232.68L1115.09 232.2L1115.66 231.72L1116.22 231.25L1116.79 230.77L1117.35 230.3L1117.92 229.82L1118.48 229.35L1119.05 228.88L1119.62 228.4L1120.18 227.93L1120.75 227.46L1121.32 226.99L1121.89 226.52L1122.46 226.05L1123.03 225.58L1123.6 225.11L1124.17 224.64L1124.74 224.17L1125.31 223.7L1125.88 223.23L1126.46 222.77L1127.03 222.3L1127.6 221.83L1128.18 221.37L1128.75 220.9L1129.32 220.44L1129.9 219.97L1130.47 219.51L1131.05 219.05L1131.63 218.58L1132.2 218.12L1132.78 217.66L1133.36 217.2L1133.93 216.74L1134.51 216.27L1135.09 215.81L1135.67 215.35L1136.25 214.89L1136.83 214.43L1137.41 213.98L1137.99 213.52L1138.57 213.06L1139.15 212.6L1139.73 212.15L1140.31 211.69L1140.89 211.23L1141.47 210.78L1142.06 210.32L1142.64 209.87L1143.22 209.41L1143.81 208.96L1144.39 208.5L1144.97 208.05L1145.56 207.6L1146.14 207.14L1146.73 206.69L1147.31 206.24L1147.9 205.79L1148.48 205.33L1149.07 204.88L1149.66 204.43L1150.24 203.98L1150.83 203.53L1151.42 203.08L1152 202.63L1152.59 202.18L1152.91 201.94M1172.7 187.1L1172.89 186.96L1173.48 186.52L1174.07 186.08L1174.67 185.65L1175.26 185.21L1175.86 184.77L1176.45 184.33L1177.05 183.9L1177.64 183.46L1178.23 183.02L1178.83 182.59L1179.42 182.15L1180.02 181.72L1180.61 181.28L1181.21 180.84L1181.8 180.41L1182.4 179.97L1182.99 179.54L1183.59 179.1L1184.18 178.67L1184.78 178.24L1185.38 177.8L1185.97 177.37L1186.57 176.93L1187.16 176.5L1187.76 176.07L1188.35 175.63L1188.95 175.2L1189.54 174.77L1190.14 174.34L1190.73 173.9L1191.33 173.47L1191.92 173.04L1192.52 172.61L1193.12 172.18L1193.71 171.74L1194.31 171.31L1194.9 170.88L1195.5 170.45L1196.09 170.02L1196.69 169.59L1197.28 169.16L1197.88 168.73L1198.47 168.3L1199.07 167.87L1199.66 167.44L1200.26 167.01L1200.85 166.58L1201.45 166.15L1202.04 165.72L1202.64 165.29L1203.23 164.86L1203.83 164.43L1204.42 164L1205.01 163.57L1205.61 163.14L1206.2 162.71L1206.8 162.28L1207.39 161.85L1207.98 161.43L1208.58 161L1209.17 160.57L1209.76 160.14L1210.36 159.71L1210.95 159.28L1211.54 158.86L1212.14 158.43L1212.73 158L1213.32 157.57L1213.91 157.14L1214.51 156.72L1215.1 156.29L1215.6 155.93" stroke="#c000c0" stroke-width="4.9" fill="none" stroke-linecap="round" stroke-linejoin="round"/>
<path d="M200.12 1007.57h0.01M212.67 1007.57h0.01M225.23 1007.57h0.01M237.79 1007.57h0.01M250.34 1007.57h0.01M262.9 1007.57h0.01M275.46 1007.57h0.01M288.02 1007.57h0.01M300.57 1007.57h0.01M313.13 1007.57h0.01M325.69 1007.57h0.01M338.24 1007.57h0.01M350.8 1007.57h0.01M363.36 1007.57h0.01M375.92 1007.57h0.01M388.47 1007.57h0.01M401.03 1007.57h0.01M413.59 1007.57h0.01M426.14 1007.57h0.01M438.7 1007.57h0.01M451.26 1007.57h0.01M463.81 1007.57h0.01M476.37 1007.57h0.01M488.93 1007.57h0.01M501.49 1007.57h0.01M514.04 1007.57h0.01M526.6 1007.57h0.01M539.16 1007.57h0.01M551.71 1007.57h0.01M564.27 1007.57h0.01M576.83 1007.57h0.01M589.38 1007.57h0.01M601.94 1007.57h0.01M614.5 1007.57h0.01M627.06 1007.57h0.01M639.61 1007.57h0.01M652.17 1007.57h0.01M664.73 1007.57h0.01M677.28 1007.57h0.01M689.84 1007.57h0.01M702.4 1007.57h0.01M714.95 1007.57h0.01M727.51 1007.57h0.01M740.07 1007.57h0.01M752.63 1007.57h0.01M765.18 1007.57h0.01M777.74 1007.57h0.01M790.3 1007.57h0.01M802.85 1007.57h0.01M815.41 1007.57h0.01M827.97 1007.57h0.01M840.52 1007.57h0.01M853.08 1007.57h0.01M865.64 1007.57h0.01M878.2 1007.57h0.01M890.75 1007.57h0.01M903.31 1007.57h0.01M915.87 1007.57h0.01M928.42 1007.57h0.01M940.98 1007.57h0.01M953.54 1007.57h0.01M966.09 1007.57h0.01M978.65 1007.57h0.01M991.21 1007.57h0.01M1003.77 1007.57h0.01M1016.32 1007.57h0.01M1028.88 1007.57h0.01M1041.44 1007.57h0.01M1053.99 1007.57h0.01M1066.55 1007.57h0.01M1079.11 1007.57h0.01M1091.66 1007.57h0.01M1104.22 1007.57h0.01M1116.78 1007.57h0.01M1129.34 1007.57h0.01M1141.89 1007.57h0.01M1154.45 1007.57h0.01M1167.01 1007.57h0.01M1179.56 1007.57h0.01M1192.12 1007.57h0.01M1204.68 1007.57h0.01M1217.23 1007.57h0.01M1229.79 1007.57h0.01M1242.35 1007.57h0.01M1254.91 1007.57h0.01M1267.46 1007.57h0.01M1280.02 1007.57h0.01M1292.58 1007.57h0.01M1305.13 1007.57h0.01M1317.69 1007.57h0.01M1330.25 1007.57h0.01M1342.8 1007.57h0.01M1355.36 1007.57h0.01M1367.92 1007.57h0.01M1380.48 1007.57h0.01M200.12 1099.75h0.01M212.67 1099.75h0.01M225.23 1099.75h0.01M237.79 1099.75h0.01M250.34 1099.75h0.01M262.9 1099.75h0.01M275.46 1099.75h0.01M288.02 1099.75h0.01M300.57 1099.75h0.01M313.13 1099.75h0.01M325.69 1099.75h0.01M338.24 1099.75h0.01M350.8 1099.75h0.01M363.36 1099.75h0.01M375.92 1099.75h0.01M388.47 1099.75h0.01M401.03 1099.75h0.01M413.59 1099.75h0.01M426.14 1099.75h0.01M438.7 1099.75h0.01M451.26 1099.75h0.01M463.81 1099.75h0.01M476.37 1099.75h0.01M488.93 1099.75h0.01M501.49 1099.75h0.01M514.04 1099.75h0.01M526.6 1099.75h0.01M539.16 1099.75h0.01M551.71 1099.75h0.01M564.27 1099.75h0.01M576.83 1099.75h0.01M589.38 1099.75h0.01M601.94 1099.75h0.01M614.5 1099.75h0.01M627.06 1099.75h0.01M639.61 1099.75h0.01M652.17 1099.75h0.01M664.73 1099.75h0.01M677.28 1099.75h0.01M689.84 1099.75h0.01M702.4 1099.75h0.01M714.95 1099.75h0.01M727.51 1099.75h0.01M740.07 1099.75h0.01M752.63 1099.75h0.01M765.18 1099.75h0.01M777.74 1099.75h0.01M790.3 1099.75h0.01M802.85 1099.75h0.01M815.41 1099.75h0.01M827.97 1099.75h0.01M840.52 1099.75h0.01M853.08 1099.75h0.01M865.64 1099.75h0.01M878.2 1099.75h0.01M890.75 1099.75h0.01M903.31 1099.75h0.01M915.87 1099.75h0.01M928.42 1099.75h0.01M940.98 1099.75h0.01M953.54 1099.75h0.01M966.09 1099.75h0.01M978.65 1099.75h0.01M991.21 1099.75h0.01M1003.77 1099.75h0.01M1016.32 1099.75h0.01M1028.88 1099.75h0.01M1041.44 1099.75h0.01M1053.99 1099.75h0.01M1066.55 1099.75h0.01M1079.11 1099.75h0.01M1091.66 1099.75h0.01M1104.22 1099.75h0.01M1116.78 1099.75h0.01M1129.34 1099.75h0.01M1141.89 1099.75h0.01M1154.45 1099.75h0.01M1167.01 1099.75h0.01M1179.56 1099.75h0.01M1192.12 1099.75h0.01M1204.68 1099.75h0.01M1217.23 1099.75h0.01M1229.79 1099.75h0.01M1242.35 1099.75h0.01M1254.91 1099.75h0.01M1267.46 1099.75h0.01M1280.02 1099.75h0.01M1292.58 1099.75h0.01M1305.13 1099.75h0.01M1317.69 1099.75h0.01M1330.25 1099.75h0.01M1342.8 1099.75h0.01M1355.36 1099.75h0.01M1367.92 1099.75h0.01M1380.48 1099.75h0.01M200.12 1191.92h0.01M212.67 1191.92h0.01M225.23 1191.92h0.01M237.79 1191.92h0.01M250.34 1191.92h0.01M262.9 1191.92h0.01M275.46 1191.92h0.01M288.02 1191.92h0.01M300.57 1191.92h0.01M313.13 1191.92h0.01M325.69 1191.92h0.01M338.24 1191.92h0.01M350.8 1191.92h0.01M363.36 1191.92h0.01M375.92 1191.92h0.01M388.47 1191.92h0.01M401.03 1191.92h0.01M413.59 1191.92h0.01M426.14 1191.92h0.01M438.7 1191.92h0.01M451.26 1191.92h0.01M463.81 1191.92h0.01M476.37 1191.92h0.01M488.93 1191.92h0.01M501.49 1191.92h0.01M514.04 1191.92h0.01M526.6 1191.92h0.01M539.16 1191.92h0.01M551.71 1191.92h0.01M564.27 1191.92h0.01M576.83 1191.92h0.01M589.38 1191.92h0.01M601.94 1191.92h0.01M614.5 1191.92h0.01M627.06 1191.92h0.01M639.61 1191.92h0.01M652.17 1191.92h0.01M664.73 1191.92h0.01M677.28 1191.92h0.01M689.84 1191.92h0.01M702.4 1191.92h0.01M714.95 1191.92h0.01M727.51 1191.92h0.01M740.07 1191.92h0.01M752.63 1191.92h0.01M765.18 1191.92h0.01M777.74 1191.92h0.01M790.3 1191.92h0.01M802.85 1191.92h0.01M815.41 1191.92h0.01M827.97 1191.92h0.01M840.52 1191.92h0.01M853.08 1191.92h0.01M865.64 1191.92h0.01M878.2 1191.92h0.01M890.75 1191.92h0.01M903.31 1191.92h0.01M915.87 1191.92h0.01M928.42 1191.92h0.01M940.98 1191.92h0.01M953.54 1191.92h0.01M966.09 1191.92h0.01M978.65 1191.92h0.01M991.21 1191.92h0.01M1003.77 1191.92h0.01M1016.32 1191.92h0.01M1028.88 1191.92h0.01M1041.44 1191.92h0.01M1053.99 1191.92h0.01M1066.55 1191.92h0.01M1079.11 1191.92h0.01M1091.66 1191.92h0.01M1104.22 1191.92h0.01M1116.78 1191.92h0.01M1129.34 1191.92h0.01M1141.89 1191.92h0.01M1154.45 1191.92h0.01M1167.01 1191.92h0.01M1179.56 1191.92h0.01M1192.12 1191.92h0.01M1204.68 1191.92h0.01M1217.23 1191.92h0.01M1229.79 1191.92h0.01M1242.35 1191.92h0.01M1254.91 1191.92h0.01M1267.46 1191.92h0.01M1280.02 1191.92h0.01M1292.58 1191.92h0.01M1305.13 1191.92h0.01M1317.69 1191.92h0.01M1330.25 1191.92h0.01M1342.8 1191.92h0.01M1355.36 1191.92h0.01M1367.92 1191.92h0.01M1380.48 1191.92h0.01M200.12 1284.1h0.01M212.67 1284.1h0.01M225.23 1284.1h0.01M237.79 1284.1h0.01M250.34 1284.1h0.01M262.9 1284.1h0.01M275.46 1284.1h0.01M288.02 1284.1h0.01M300.57 1284.1h0.01M313.13 1284.1h0.01M325.69 1284.1h0.01M338.24 1284.1h0.01M350.8 1284.1h0.01M363.36 1284.1h0.01M375.92 1284.1h0.01M388.47 1284.1h0.01M401.03 1284.1h0.01M413.59 1284.1h0.01M426.14 1284.1h0.01M438.7 1284.1h0.01M451.26 1284.1h0.01M463.81 1284.1h0.01M476.37 1284.1h0.01M488.93 1284.1h0.01M501.49 1284.1h0.01M514.04 1284.1h0.01M526.6 1284.1h0.01M539.16 1284.1h0.01M551.71 1284.1h0.01M564.27 1284.1h0.01M576.83 1284.1h0.01M589.38 1284.1h0.01M601.94 1284.1h0.01M614.5 1284.1h0.01M627.06 1284.1h0.01M639.61 1284.1h0.01M652.17 1284.1h0.01M664.73 1284.1h0.01M677.28 1284.1h0.01M689.84 1284.1h0.01M702.4 1284.1h0.01M714.95 1284.1h0.01M727.51 1284.1h0.01M740.07 1284.1h0.01M752.63 1284.1h0.01M765.18 1284.1h0.01M777.74 1284.1h0.01M790.3 1284.1h0.01M802.85 1284.1h0.01M815.41 1284.1h0.01M827.97 1284.1h0.01M840.52 1284.1h0.01M853.08 1284.1h0.01M865.64 1284.1h0.01M878.2 1284.1h0.01M890.75 1284.1h0.01M903.31 1284.1h0.01M915.87 1284.1h0.01M928.42 1284.1h0.01M940.98 1284.1h0.01M953.54 1284.1h0.01M966.09 1284.1h0.01M978.65 1284.1h0.01M991.21 1284.1h0.01M1003.77 1284.1h0.01M1016.32 1284.1h0.01M1028.88 1284.1h0.01M1041.44 1284.1h0.01M1053.99 1284.1h0.01M1066.55 1284.1h0.01M1079.11 1284.1h0.01M1091.66 1284.1h0.01M1104.22 1284.1h0.01M1116.78 1284.1h0.01M1129.34 1284.1h0.01M1141.89 1284.1h0.01M1154.45 1284.1h0.01M1167.01 1284.1h0.01M1179.56 1284.1h0.01M1192.12 1284.1h0.01M1204.68 1284.1h0.01M1217.23 1284.1h0.01M1229.79 1284.1h0.01M1242.35 1284.1h0.01M1254.91 1284.1h0.01M1267.46 1284.1h0.01M1280.02 1284.1h0.01M1292.58 1284.1h0.01M1305.13 1284.1h0.01M1317.69 1284.1h0.01M1330.25 1284.1h0.01M1342.8 1284.1h0.01M1355.36 1284.1h0.01M1367.92 1284.1h0.01M1380.48 1284.1h0.01M200.12 1376.27h0.01M212.67 1376.27h0.01M225.23 1376.27h0.01M237.79 1376.27h0.01M250.34 1376.27h0.01M262.9 1376.27h0.01M275.46 1376.27h0.01M288.02 1376.27h0.01M300.57 1376.27h0.01M313.13 1376.27h0.01M325.69 1376.27h0.01M338.24 1376.27h0.01M350.8 1376.27h0.01M363.36 1376.27h0.01M375.92 1376.27h0.01M388.47 1376.27h0.01M401.03 1376.27h0.01M413.59 1376.27h0.01M426.14 1376.27h0.01M438.7 1376.27h0.01M451.26 1376.27h0.01M463.81 1376.27h0.01M476.37 1376.27h0.01M488.93 1376.27h0.01M501.49 1376.27h0.01M514.04 1376.27h0.01M526.6 1376.27h0.01M539.16 1376.27h0.01M551.71 1376.27h0.01M564.27 1376.27h0.01M576.83 1376.27h0.01M589.38 1376.27h0.01M601.94 1376.27h0.01M614.5 1376.27h0.01M627.06 1376.27h0.01M639.61 1376.27h0.01M652.17 1376.27h0.01M664.73 1376.27h0.01M677.28 1376.27h0.01M689.84 1376.27h0.01M702.4 1376.27h0.01M714.95 1376.27h0.01M727.51 1376.27h0.01M740.07 1376.27h0.01M752.63 1376.27h0.01M765.18 1376.27h0.01M777.74 1376.27h0.01M790.3 1376.27h0.01M802.85 1376.27h0.01M815.41 1376.27h0.01M827.97 1376.27h0.01M840.52 1376.27h0.01M853.08 1376.27h0.01M865.64 1376.27h0.01M878.2 1376.27h0.01M890.75 1376.27h0.01M903.31 1376.27h0.01M915.87 1376.27h0.01M928.42 1376.27h0.01M940.98 1376.27h0.01M953.54 1376.27h0.01M966.09 1376.27h0.01M978.65 1376.27h0.01M991.21 1376.27h0.01M1003.77 1376.27h0.01M1016.32 1376.27h0.01M1028.88 1376.27h0.01M1041.44 1376.27h0.01M1053.99 1376.27h0.01M1066.55 1376.27h0.01M1079.11 1376.27h0.01M1091.66 1376.27h0.01M1104.22 1376.27h0.01M1116.78 1376.27h0.01M1129.34 1376.27h0.01M1141.89 1376.27h0.01M1154.45 1376.27h0.01M1167.01 1376.27h0.01M1179.56 1376.27h0.01M1192.12 1376.27h0.01M1204.68 1376.27h0.01M1217.23 1376.27h0.01M1229.79 1376.27h0.01M1242.35 1376.27h0.01M1254.91 1376.27h0.01M1267.46 1376.27h0.01M1280.02 1376.27h0.01M1292.58 1376.27h0.01M1305.13 1376.27h0.01M1317.69 1376.27h0.01M1330.25 1376.27h0.01M1342.8 1376.27h0.01M1355.36 1376.27h0.01M1367.92 1376.27h0.01M1380.48 1376.27h0.01M200.12 1468.45h0.01M212.67 1468.45h0.01M225.23 1468.45h0.01M237.79 1468.45h0.01M250.34 1468.45h0.01M262.9 1468.45h0.01M275.46 1468.45h0.01M288.02 1468.45h0.01M300.57 1468.45h0.01M313.13 1468.45h0.01M325.69 1468.45h0.01M338.24 1468.45h0.01M350.8 1468.45h0.01M363.36 1468.45h0.01M375.92 1468.45h0.01M388.47 1468.45h0.01M401.03 1468.45h0.01M413.59 1468.45h0.01M426.14 1468.45h0.01M438.7 1468.45h0.01M451.26 1468.45h0.01M463.81 1468.45h0.01M476.37 1468.45h0.01M488.93 1468.45h0.01M501.49 1468.45h0.01M514.04 1468.45h0.01M526.6 1468.45h0.01M539.16 1468.45h0.01M551.71 1468.45h0.01M564.27 1468.45h0.01M576.83 1468.45h0.01M589.38 1468.45h0.01M601.94 1468.45h0.01M614.5 1468.45h0.01M627.06 1468.45h0.01M639.61 1468.45h0.01M652.17 1468.45h0.01M664.73 1468.45h0.01M677.28 1468.45h0.01M689.84 1468.45h0.01M702.4 1468.45h0.01M714.95 1468.45h0.01M727.51 1468.45h0.01M740.07 1468.45h0.01M752.63 1468.45h0.01M765.18 1468.45h0.01M777.74 1468.45h0.01M790.3 1468.45h0.01M802.85 1468.45h0.01M815.41 1468.45h0.01M827.97 1468.45h0.01M840.52 1468.45h0.01M853.08 1468.45h0.01M865.64 1468.45h0.01M878.2 1468.45h0.01M890.75 1468.45h0.01M903.31 1468.45h0.01M915.87 1468.45h0.01M928.42 1468.45h0.01M940.98 1468.45h0.01M953.54 1468.45h0.01M966.09 1468.45h0.01M978.65 1468.45h0.01M991.21 1468.45h0.01M1003.77 1468.45h0.01M1016.32 1468.45h0.01M1028.88 1468.45h0.01M1041.44 1468.45h0.01M1053.99 1468.45h0.01M1066.55 1468.45h0.01M1079.11 1468.45h0.01M1091.66 1468.45h0.01M1104.22 1468.45h0.01M1116.78 1468.45h0.01M1129.34 1468.45h0.01M1141.89 1468.45h0.01M1154.45 1468.45h0.01M1167.01 1468.45h0.01M1179.56 1468.45h0.01M1192.12 1468.45h0.01M1204.68 1468.45h0.01M1217.23 1468.45h0.01M1229.79 1468.45h0.01M1242.35 1468.45h0.01M1254.91 1468.45h0.01M1267.46 1468.45h0.01M1280.02 1468.45h0.01M1292.58 1468.45h0.01M1305.13 1468.45h0.01M1317.69 1468.45h0.01M1330.25 1468.45h0.01M1342.8 1468.45h0.01M1355.36 1468.45h0.01M1367.92 1468.45h0.01M1380.48 1468.45h0.01M200.12 1560.62h0.01M212.67 1560.62h0.01M225.23 1560.62h0.01M237.79 1560.62h0.01M250.34 1560.62h0.01M262.9 1560.62h0.01M275.46 1560.62h0.01M288.02 1560.62h0.01M300.57 1560.62h0.01M313.13 1560.62h0.01M325.69 1560.62h0.01M338.24 1560.62h0.01M350.8 1560.62h0.01M363.36 1560.62h0.01M375.92 1560.62h0.01M388.47 1560.62h0.01M401.03 1560.62h0.01M413.59 1560.62h0.01M426.14 1560.62h0.01M438.7 1560.62h0.01M451.26 1560.62h0.01M463.81 1560.62h0.01M476.37 1560.62h0.01M488.93 1560.62h0.01M501.49 1560.62h0.01M514.04 1560.62h0.01M526.6 1560.62h0.01M539.16 1560.62h0.01M551.71 1560.62h0.01M564.27 1560.62h0.01M576.83 1560.62h0.01M589.38 1560.62h0.01M601.94 1560.62h0.01M614.5 1560.62h0.01M627.06 1560.62h0.01M639.61 1560.62h0.01M652.17 1560.62h0.01M664.73 1560.62h0.01M677.28 1560.62h0.01M689.84 1560.62h0.01M702.4 1560.62h0.01M714.95 1560.62h0.01M727.51 1560.62h0.01M740.07 1560.62h0.01M752.63 1560.62h0.01M765.18 1560.62h0.01M777.74 1560.62h0.01M790.3 1560.62h0.01M802.85 1560.62h0.01M815.41 1560.62h0.01M827.97 1560.62h0.01M840.52 1560.62h0.01M853.08 1560.62h0.01M865.64 1560.62h0.01M878.2 1560.62h0.01M890.75 1560.62h0.01M903.31 1560.62h0.01M915.87 1560.62h0.01M928.42 1560.62h0.01M940.98 1560.62h0.01M953.54 1560.62h0.01M966.09 1560.62h0.01M978.65 1560.62h0.01M991.21 1560.62h0.01M1003.77 1560.62h0.01M1016.32 1560.62h0.01M1028.88 1560.62h0.01M1041.44 1560.62h0.01M1053.99 1560.62h0.01M1066.55 1560.62h0.01M1079.11 1560.62h0.01M1091.66 1560.62h0.01M1104.22 1560.62h0.01M1116.78 1560.62h0.01M1129.34 1560.62h0.01M1141.89 1560.62h0.01M1154.45 1560.62h0.01M1167.01 1560.62h0.01M1179.56 1560.62h0.01M1192.12 1560.62h0.01M1204.68 1560.62h0.01M1217.23 1560.62h0.01M1229.79 1560.62h0.01M1242.35 1560.62h0.01M1254.91 1560.62h0.01M1267.46 1560.62h0.01M1280.02 1560.62h0.01M1292.58 1560.62h0.01M1305.13 1560.62h0.01M1317.69 1560.62h0.01M1330.25 1560.62h0.01M1342.8 1560.62h0.01M1355.36 1560.62h0.01M1367.92 1560.62h0.01M1380.48 1560.62h0.01M338.23 1641.84h0.01M338.23 1630.88h0.01M338.23 1619.92h0.01M338.23 1608.96h0.01M338.23 1598h0.01M338.23 1587.04h0.01M338.23 1576.08h0.01M338.23 1565.12h0.01M338.23 1554.16h0.01M338.23 1543.2h0.01M338.23 1532.24h0.01M338.23 1521.28h0.01M338.23 1510.32h0.01M338.23 1499.36h0.01M338.23 1488.4h0.01M338.23 1477.44h0.01M338.23 1466.48h0.01M338.23 1455.52h0.01M338.23 1444.56h0.01M338.23 1433.6h0.01M338.23 1422.64h0.01M338.23 1411.68h0.01M338.23 1400.72h0.01M338.23 1389.76h0.01M338.23 1378.8h0.01M338.23 1367.84h0.01M338.23 1356.88h0.01M338.23 1345.92h0.01M338.23 1334.96h0.01M338.23 1324h0.01M338.23 1313.04h0.01M338.23 1302.08h0.01M338.23 1291.12h0.01M338.23 1280.16h0.01M338.23 1269.2h0.01M338.23 1258.24h0.01M338.23 1247.28h0.01M338.23 1236.32h0.01M338.23 1225.36h0.01M338.23 1214.4h0.01M338.23 1203.44h0.01M338.23 1192.48h0.01M338.23 1181.52h0.01M338.23 1170.56h0.01M338.23 1159.6h0.01M338.23 1148.64h0.01M338.23 1137.68h0.01M338.23 1126.72h0.01M338.23 1115.76h0.01M338.23 1104.8h0.01M338.23 1093.84h0.01M338.23 1082.88h0.01M338.23 1071.92h0.01M338.23 1060.96h0.01M338.23 1050h0.01M338.23 1039.04h0.01M338.23 1028.08h0.01M338.23 1017.12h0.01M338.23 1006.16h0.01M338.23 995.2h0.01M338.23 984.24h0.01M338.23 973.28h0.01M338.23 962.32h0.01M338.23 951.36h0.01M338.23 940.4h0.01M338.23 929.44h0.01M338.23 918.48h0.01M489.19 1641.84h0.01M489.19 1630.88h0.01M489.19 1619.92h0.01M489.19 1608.96h0.01M489.19 1598h0.01M489.19 1587.04h0.01M489.19 1576.08h0.01M489.19 1565.12h0.01M489.19 1554.16h0.01M489.19 1543.2h0.01M489.19 1532.24h0.01M489.19 1521.28h0.01M489.19 1510.32h0.01M489.19 1499.36h0.01M489.19 1488.4h0.01M489.19 1477.44h0.01M489.19 1466.48h0.01M489.19 1455.52h0.01M489.19 1444.56h0.01M489.19 1433.6h0.01M489.19 1422.64h0.01M489.19 1411.68h0.01M489.19 1400.72h0.01M489.19 1389.76h0.01M489.19 1378.8h0.01M489.19 1367.84h0.01M489.19 1356.88h0.01M489.19 1345.92h0.01M489.19 1334.96h0.01M489.19 1324h0.01M489.19 1313.04h0.01M489.19 1302.08h0.01M489.19 1291.12h0.01M489.19 1280.16h0.01M489.19 1269.2h0.01M489.19 1258.24h0.01M489.19 1247.28h0.01M489.19 1236.32h0.01M489.19 1225.36h0.01M489.19 1214.4h0.01M489.19 1203.44h0.01M489.19 1192.48h0.01M489.19 1181.52h0.01M489.19 1170.56h0.01M489.19 1159.6h0.01M489.19 1148.64h0.01M489.19 1137.68h0.01M489.19 1126.72h0.01M489.19 1115.76h0.01M489.19 1104.8h0.01M489.19 1093.84h0.01M489.19 1082.88h0.01M489.19 1071.92h0.01M489.19 1060.96h0.01M489.19 1050h0.01M489.19 1039.04h0.01M489.19 1028.08h0.01M489.19 1017.12h0.01M489.19 1006.16h0.01M489.19 995.2h0.01M489.19 984.24h0.01M489.19 973.28h0.01M489.19 962.32h0.01M489.19 951.36h0.01M489.19 940.4h0.01M489.19 929.44h0.01M489.19 918.48h0.01M640.16 1641.84h0.01M640.16 1630.88h0.01M640.16 1619.92h0.01M640.16 1608.96h0.01M640.16 1598h0.01M640.16 1587.04h0.01M640.16 1576.08h0.01M640.16 1565.12h0.01M640.16 1554.16h0.01M640.16 1543.2h0.01M640.16 1532.24h0.01M640.16 1521.28h0.01M640.16 1510.32h0.01M640.16 1499.36h0.01M640.16 1488.4h0.01M640.16 1477.44h0.01M640.16 1466.48h0.01M640.16 1455.52h0.01M640.16 1444.56h0.01M640.16 1433.6h0.01M640.16 1422.64h0.01M640.16 1411.68h0.01M640.16 1400.72h0.01M640.16 1389.76h0.01M640.16 1378.8h0.01M640.16 1367.84h0.01M640.16 1356.88h0.01M640.16 1345.92h0.01M640.16 1334.96h0.01M640.16 1324h0.01M640.16 1313.04h0.01M640.16 1302.08h0.01M640.16 1291.12h0.01M640.16 1280.16h0.01M640.16 1269.2h0.01M640.16 1258.24h0.01M640.16 1247.28h0.01M640.16 1236.32h0.01M640.16 1225.36h0.01M640.16 1214.4h0.01M640.16 1203.44h0.01M640.16 1192.48h0.01M640.16 1181.52h0.01M640.16 1170.56h0.01M640.16 1159.6h0.01M640.16 1148.64h0.01M640.16 1137.68h0.01M640.16 1126.72h0.01M640.16 1115.76h0.01M640.16 1104.8h0.01M640.16 1093.84h0.01M640.16 1082.88h0.01M640.16 1071.92h0.01M640.16 1060.96h0.01M640.16 1050h0.01M640.16 1039.04h0.01M640.16 1028.08h0.01M640.16 1017.12h0.01M640.16 1006.16h0.01M640.16 995.2h0.01M640.16 984.24h0.01M640.16 973.28h0.01M640.16 962.32h0.01M640.16 951.36h0.01M640.16 940.4h0.01M640.16 929.44h0.01M640.16 918.48h0.01M791.13 1641.84h0.01M791.13 1630.88h0.01M791.13 1619.92h0.01M791.13 1608.96h0.01M791.13 1598h0.01M791.13 1587.04h0.01M791.13 1576.08h0.01M791.13 1565.12h0.01M791.13 1554.16h0.01M791.13 1543.2h0.01M791.13 1532.24h0.01M791.13 1521.28h0.01M791.13 1510.32h0.01M791.13 1499.36h0.01M791.13 1488.4h0.01M791.13 1477.44h0.01M791.13 1466.48h0.01M791.13 1455.52h0.01M791.13 1444.56h0.01M791.13 1433.6h0.01M791.13 1422.64h0.01M791.13 1411.68h0.01M791.13 1400.72h0.01M791.13 1389.76h0.01M791.13 1378.8h0.01M791.13 1367.84h0.01M791.13 1356.88h0.01M791.13 1345.92h0.01M791.13 1334.96h0.01M791.13 1324h0.01M791.13 1313.04h0.01M791.13 1302.08h0.01M791.13 1291.12h0.01M791.13 1280.16h0.01M791.13 1269.2h0.01M791.13 1258.24h0.01M791.13 1247.28h0.01M791.13 1236.32h0.01M791.13 1225.36h0.01M791.13 1214.4h0.01M791.13 1203.44h0.01M791.13 1192.48h0.01M791.13 1181.52h0.01M791.13 1170.56h0.01M791.13 1159.6h0.01M791.13 1148.64h0.01M791.13 1137.68h0.01M791.13 1126.72h0.01M791.13 1115.76h0.01M791.13 1104.8h0.01M791.13 1093.84h0.01M791.13 1082.88h0.01M791.13 1071.92h0.01M791.13 1060.96h0.01M791.13 1050h0.01M791.13 1039.04h0.01M791.13 1028.08h0.01M791.13 1017.12h0.01M791.13 1006.16h0.01M791.13 995.2h0.01M791.13 984.24h0.01M791.13 973.28h0.01M791.13 962.32h0.01M791.13 951.36h0.01M791.13 940.4h0.01M791.13 929.44h0.01M791.13 918.48h0.01M942.1 1641.84h0.01M942.1 1630.88h0.01M942.1 1619.92h0.01M942.1 1608.96h0.01M942.1 1598h0.01M942.1 1587.04h0.01M942.1 1576.08h0.01M942.1 1565.12h0.01M942.1 1554.16h0.01M942.1 1543.2h0.01M942.1 1532.24h0.01M942.1 1521.28h0.01M942.1 1510.32h0.01M942.1 1499.36h0.01M942.1 1488.4h0.01M942.1 1477.44h0.01M942.1 1466.48h0.01M942.1 1455.52h0.01M942.1 1444.56h0.01M942.1 1433.6h0.01M942.1 1422.64h0.01M942.1 1411.68h0.01M942.1 1400.72h0.01M942.1 1389.76h0.01M942.1 1378.8h0.01M942.1 1367.84h0.01M942.1 1356.88h0.01M942.1 1345.92h0.01M942.1 1334.96h0.01M942.1 1324h0.01M942.1 1313.04h0.01M942.1 1302.08h0.01M942.1 1291.12h0.01M942.1 1280.16h0.01M942.1 1269.2h0.01M942.1 1258.24h0.01M942.1 1247.28h0.01M942.1 1236.32h0.01M942.1 1225.36h0.01M942.1 1214.4h0.01M942.1 1203.44h0.01M942.1 1192.48h0.01M942.1 1181.52h0.01M942.1 1170.56h0.01M942.1 1159.6h0.01M942.1 1148.64h0.01M942.1 1137.68h0.01M942.1 1126.72h0.01M942.1 1115.76h0.01M942.1 1104.8h0.01M942.1 1093.84h0.01M942.1 1082.88h0.01M942.1 1071.92h0.01M942.1 1060.96h0.01M942.1 1050h0.01M942.1 1039.04h0.01M942.1 1028.08h0.01M942.1 1017.12h0.01M942.1 1006.16h0.01M942.1 995.2h0.01M942.1 984.24h0.01M942.1 973.28h0.01M942.1 962.32h0.01M942.1 951.36h0.01M942.1 940.4h0.01M942.1 929.44h0.01M942.1 918.48h0.01M1093.07 1641.84h0.01M1093.07 1630.88h0.01M1093.07 1619.92h0.01M1093.07 1608.96h0.01M1093.07 1598h0.01M1093.07 1587.04h0.01M1093.07 1576.08h0.01M1093.07 1565.12h0.01M1093.07 1554.16h0.01M1093.07 1543.2h0.01M1093.07 1532.24h0.01M1093.07 1521.28h0.01M1093.07 1510.32h0.01M1093.07 1499.36h0.01M1093.07 1488.4h0.01M1093.07 1477.44h0.01M1093.07 1466.48h0.01M1093.07 1455.52h0.01M1093.07 1444.56h0.01M1093.07 1433.6h0.01M1093.07 1422.64h0.01M1093.07 1411.68h0.01M1093.07 1400.72h0.01M1093.07 1389.76h0.01M1093.07 1378.8h0.01M1093.07 1367.84h0.01M1093.07 1356.88h0.01M1093.07 1345.92h0.01M1093.07 1334.96h0.01M1093.07 1324h0.01M1093.07 1313.04h0.01M1093.07 1302.08h0.01M1093.07 1291.12h0.01M1093.07 1280.16h0.01M1093.07 1269.2h0.01M1093.07 1258.24h0.01M1093.07 1247.28h0.01M1093.07 1236.32h0.01M1093.07 1225.36h0.01M1093.07 1214.4h0.01M1093.07 1203.44h0.01M1093.07 1192.48h0.01M1093.07 1181.52h0.01M1093.07 1170.56h0.01M1093.07 1159.6h0.01M1093.07 1148.64h0.01M1093.07 1137.68h0.01M1093.07 1126.72h0.01M1093.07 1115.76h0.01M1093.07 1104.8h0.01M1093.07 1093.84h0.01M1093.07 1082.88h0.01M1093.07 1071.92h0.01M1093.07 1060.96h0.01M1093.07 1050h0.01M1093.07 1039.04h0.01M1093.07 1028.08h0.01M1093.07 1017.12h0.01M1093.07 1006.16h0.01M1093.07 995.2h0.01M1093.07 984.24h0.01M1093.07 973.28h0.01M1093.07 962.32h0.01M1093.07 951.36h0.01M1093.07 940.4h0.01M1093.07 929.44h0.01M1093.07 918.48h0.01M1244.03 1641.84h0.01M1244.03 1630.88h0.01M1244.03 1619.92h0.01M1244.03 1608.96h0.01M1244.03 1598h0.01M1244.03 1587.04h0.01M1244.03 1576.08h0.01M1244.03 1565.12h0.01M1244.03 1554.16h0.01M1244.03 1543.2h0.01M1244.03 1532.24h0.01M1244.03 1521.28h0.01M1244.03 1510.32h0.01M1244.03 1499.36h0.01M1244.03 1488.4h0.01M1244.03 1477.44h0.01M1244.03 1466.48h0.01M1244.03 1455.52h0.01M1244.03 1444.56h0.01M1244.03 1433.6h0.01M1244.03 1422.64h0.01M1244.03 1411.68h0.01M1244.03 1400.72h0.01M1244.03 1389.76h0.01M1244.03 1378.8h0.01M1244.03 1367.84h0.01M1244.03 1356.88h0.01M1244.03 1345.92h0.01M1244.03 1334.96h0.01M1244.03 1324h0.01M1244.03 1313.04h0.01M1244.03 1302.08h0.01M1244.03 1291.12h0.01M1244.03 1280.16h0.01M1244.03 1269.2h0.01M1244.03 1258.24h0.01M1244.03 1247.28h0.01M1244.03 1236.32h0.01M1244.03 1225.36h0.01M1244.03 1214.4h0.01M1244.03 1203.44h0.01M1244.03 1192.48h0.01M1244.03 1181.52h0.01M1244.03 1170.56h0.01M1244.03 1159.6h0.01M1244.03 1148.64h0.01M1244.03 1137.68h0.01M1244.03 1126.72h0.01M1244.03 1115.76h0.01M1244.03 1104.8h0.01M1244.03 1093.84h0.01M1244.03 1082.88h0.01M1244.03 1071.92h0.01M1244.03 1060.96h0.01M1244.03 1050h0.01M1244.03 1039.04h0.01M1244.03 1028.08h0.01M1244.03 1017.12h0.01M1244.03 1006.16h0.01M1244.03 995.2h0.01M1244.03 984.24h0.01M1244.03 973.28h0.01M1244.03 962.32h0.01M1244.03 951.36h0.01M1244.03 940.4h0.01M1244.03 929.44h0.01M1244.03 918.48h0.01" stroke="#bfbfbf" stroke-width="4.9" stroke-linecap="round" fill="none"/>
<path d="M187.26 915.4H1395V1652.8H187.26Z" stroke="#000" stroke-width="5.2" fill="none" stroke-linejoin="round"/>
<path d="M175.26 915.4H187.26M175.26 1007.57H187.26M175.26 1099.75H187.26M175.26 1191.92H187.26M175.26 1284.1H187.26M175.26 1376.27H187.26M175.26 1468.45H187.26M175.26 1560.62H187.26M175.26 1652.8H187.26M187.26 1652.8V1663.3M338.23 1652.8V1663.3M489.19 1652.8V1663.3M640.16 1652.8V1663.3M791.13 1652.8V1663.3M942.1 1652.8V1663.3M1093.07 1652.8V1663.3M1244.03 1652.8V1663.3M1395 1652.8V1663.3" stroke="#000" stroke-width="5.2" fill="none" stroke-linecap="round"/>
<text transform="translate(124.95,925.6) scale(1.1800,1)" font-size="26.3">10</text>
<text transform="translate(142.21,1017.77) scale(1.1800,1)" font-size="26.3">0</text>
<text transform="translate(114.62,1109.95) scale(1.1800,1)" font-size="26.3">-10</text>
<text transform="translate(114.62,1202.12) scale(1.1800,1)" font-size="26.3">-20</text>
<text transform="translate(114.62,1294.3) scale(1.1800,1)" font-size="26.3">-30</text>
<text transform="translate(114.62,1386.47) scale(1.1800,1)" font-size="26.3">-40</text>
<text transform="translate(114.62,1478.65) scale(1.1800,1)" font-size="26.3">-50</text>
<text transform="translate(114.62,1570.83) scale(1.1800,1)" font-size="26.3">-60</text>
<text transform="translate(114.62,1663) scale(1.1800,1)" font-size="26.3">-70</text>
<text transform="translate(161.71,1706.3) scale(1.1700,1)" font-size="26.3">10</text>
<text transform="translate(195.08,1697.2) scale(1.1700,1)" font-size="17.3">-2</text>
<text transform="translate(312.55,1706.3) scale(1.1700,1)" font-size="26.3">10</text>
<text transform="translate(345.93,1697.2) scale(1.1700,1)" font-size="17.3">-1</text>
<text transform="translate(467.03,1706.3) scale(1.1700,1)" font-size="26.3">10</text>
<text transform="translate(500.39,1697.2) scale(1.1700,1)" font-size="17.3">0</text>
<text transform="translate(618.1,1706.3) scale(1.1700,1)" font-size="26.3">10</text>
<text transform="translate(650.99,1697.2) scale(1.1700,1)" font-size="17.3">1</text>
<text transform="translate(768.91,1706.3) scale(1.1700,1)" font-size="26.3">10</text>
<text transform="translate(802.37,1697.2) scale(1.1700,1)" font-size="17.3">2</text>
<text transform="translate(919.72,1706.3) scale(1.1700,1)" font-size="26.3">10</text>
<text transform="translate(953.42,1697.2) scale(1.1700,1)" font-size="17.3">3</text>
<text transform="translate(1070.29,1706.3) scale(1.1700,1)" font-size="26.3">10</text>
<text transform="translate(1104.15,1697.2) scale(1.1700,1)" font-size="17.3">4</text>
<text transform="translate(1221.65,1706.3) scale(1.1700,1)" font-size="26.3">10</text>
<text transform="translate(1255.19,1697.2) scale(1.1700,1)" font-size="17.3">5</text>
<text transform="translate(1372.76,1706.3) scale(1.1700,1)" font-size="26.3">10</text>
<text transform="translate(1406.18,1697.2) scale(1.1700,1)" font-size="17.3">6</text>
<path d="M336.79 1013.64L338.05 1013.7L339.3 1013.76L340.55 1013.82L341.81 1013.88L343.06 1013.94L344.32 1014L345.57 1014.05L346.83 1014.11L348.08 1014.17L349.34 1014.23L350.59 1014.29L351.85 1014.35L353.1 1014.41L354.36 1014.47L355.61 1014.54L356.87 1014.6L358.13 1014.66L359.38 1014.72L360.64 1014.79L361.9 1014.85L363.15 1014.91L364.41 1014.98L365.67 1015.04L366.92 1015.11L368.18 1015.18L369.44 1015.24L370.69 1015.31L371.95 1015.38L373.21 1015.45L374.47 1015.52L375.72 1015.59L376.98 1015.66L378.24 1015.74L379.49 1015.81L380.75 1015.89L382.01 1015.96L383.27 1016.04L384.52 1016.11L385.78 1016.19L387.04 1016.27L388.29 1016.35L389.55 1016.43L390.81 1016.52L392.06 1016.6L393.32 1016.69L394.58 1016.77L395.83 1016.86L397.09 1016.95L398.35 1017.04L399.6 1017.13L400.86 1017.22L402.12 1017.31L403.37 1017.41L404.63 1017.5L405.88 1017.6L407.14 1017.7L408.39 1017.8L409.65 1017.9L410.9 1018.01L412.16 1018.11L413.41 1018.22L414.67 1018.33L415.92 1018.44L417.17 1018.55L418.43 1018.66L419.68 1018.78L420.93 1018.89L422.19 1019.01L423.44 1019.13L424.69 1019.25L425.94 1019.38L427.2 1019.5L428.45 1019.63L429.7 1019.76L430.95 1019.89L432.2 1020.02L433.45 1020.16L434.7 1020.3L435.95 1020.43L437.2 1020.58L438.45 1020.72L439.7 1020.86L440.95 1021.01L442.2 1021.16L443.44 1021.31L444.69 1021.47L445.94 1021.62L447.18 1021.78L448.43 1021.94L449.68 1022.1L450.92 1022.27L452.17 1022.43L453.41 1022.6L454.66 1022.78L455.9 1022.95L457.14 1023.13L458.39 1023.31L459.63 1023.49L460.87 1023.67L462.11 1023.86L463.35 1024.05L464.59 1024.24L465.83 1024.44L467.07 1024.63L468.31 1024.83L469.55 1025.04L470.79 1025.24L472.03 1025.45L473.26 1025.66L474.5 1025.87L475.74 1026.09L476.97 1026.31L478.21 1026.53L479.44 1026.76L480.67 1026.99L481.91 1027.22L483.14 1027.45L484.37 1027.69L485.6 1027.93L486.83 1028.17L488.06 1028.42L489.29 1028.67L490.52 1028.92L491.75 1029.17L492.98 1029.43L494.2 1029.69L495.43 1029.96L496.66 1030.23L497.88 1030.5L499.1 1030.77L500.33 1031.05L501.55 1031.33L502.77 1031.62L503.99 1031.91L505.21 1032.2L506.43 1032.49L507.65 1032.79L508.87 1033.09L510.09 1033.4L511.31 1033.71L512.52 1034.02L513.74 1034.33L514.95 1034.65L516.17 1034.97L517.38 1035.3L518.6 1035.62L519.81 1035.96L521.02 1036.29L522.23 1036.62L523.44 1036.96L524.65 1037.31L525.86 1037.65L527.07 1038L528.28 1038.35L529.49 1038.7L530.69 1039.05L531.9 1039.41L533.11 1039.77L534.31 1040.14L535.52 1040.5L536.72 1040.87L537.93 1041.24L539.13 1041.61L540.33 1041.98L541.53 1042.36L542.74 1042.74L543.94 1043.12L545.14 1043.5L546.34 1043.89L547.54 1044.27L548.74 1044.66L549.94 1045.05L551.14 1045.45L552.34 1045.84L553.53 1046.24L554.73 1046.63L555.93 1047.03L557.13 1047.43L558.32 1047.84L559.52 1048.24L560.71 1048.65L561.91 1049.06L563.1 1049.47L564.3 1049.88L565.49 1050.3L566.68 1050.71L567.87 1051.14L569.06 1051.56L570.25 1051.99L571.43 1052.41L572.62 1052.85L573.8 1053.28L574.98 1053.72L576.16 1054.17L577.34 1054.61L578.52 1055.06L579.69 1055.52L580.87 1055.97L582.04 1056.44L583.21 1056.9L584.37 1057.37L585.54 1057.85L586.7 1058.33L587.86 1058.81L589.02 1059.3L590.17 1059.79L591.32 1060.29L592.47 1060.8L593.62 1061.31L594.76 1061.82L595.91 1062.34L597.04 1062.87L598.18 1063.4L599.31 1063.94L600.44 1064.48L601.56 1065.03L602.68 1065.58L603.8 1066.15L604.92 1066.71L606.03 1067.29L607.13 1067.87L608.24 1068.46L609.34 1069.05L610.43 1069.66L611.52 1070.27L612.61 1070.88L613.69 1071.51L614.77 1072.14L615.85 1072.78L616.92 1073.42L617.98 1074.08L619.04 1074.74L620.1 1075.41L621.15 1076.09L622.2 1076.78L623.24 1077.47L624.28 1078.18L625.31 1078.89L626.34 1079.6L627.36 1080.33L628.38 1081.06L629.4 1081.8L630.41 1082.55L631.41 1083.3L632.41 1084.06L633.41 1084.83L634.4 1085.6L635.39 1086.38L636.37 1087.17L637.35 1087.96L638.33 1088.76L639.3 1089.57L640.26 1090.38L641.22 1091.2L642.18 1092.02L643.13 1092.85L644.08 1093.69L645.03 1094.53L645.97 1095.38L646.9 1096.23L647.83 1097.08L648.76 1097.94L649.68 1098.81L650.6 1099.68L651.52 1100.56L652.43 1101.44L653.33 1102.32L654.24 1103.21L655.14 1104.11L656.03 1105.01L656.92 1105.91L657.81 1106.81L658.69 1107.72L659.57 1108.64L660.44 1109.56L661.31 1110.48L662.18 1111.4L663.04 1112.33L663.9 1113.26L664.75 1114.2L665.6 1115.13L666.45 1116.07L667.29 1117.02L668.13 1117.96L668.97 1118.91L669.8 1119.86L670.62 1120.81L671.45 1121.77L672.27 1122.73L673.09 1123.69L673.9 1124.65L674.71 1125.62L675.51 1126.59L676.32 1127.56L677.11 1128.53L677.91 1129.51L678.7 1130.49L679.49 1131.47L680.27 1132.45L681.05 1133.43L681.83 1134.42L682.61 1135.41L683.38 1136.4L684.14 1137.4L684.91 1138.39L685.67 1139.39L686.43 1140.39L687.18 1141.39L687.93 1142.4L688.68 1143.41L689.43 1144.42L690.17 1145.43L690.91 1146.44L691.64 1147.46L692.38 1148.47L693.11 1149.49L693.83 1150.51L694.56 1151.54L695.28 1152.56L695.99 1153.59L696.71 1154.62L697.42 1155.65L698.13 1156.68L698.84 1157.72L699.54 1158.76L700.24 1159.8L700.94 1160.84L701.63 1161.88L702.33 1162.92L703.02 1163.97L703.7 1165.02L704.39 1166.07L705.07 1167.12L705.75 1168.17L706.43 1169.22L707.1 1170.28L707.77 1171.34L708.44 1172.4L709.11 1173.46L709.77 1174.52L710.44 1175.59L711.1 1176.65L711.75 1177.72L712.41 1178.79L713.06 1179.86L713.71 1180.93L714.36 1182.01L715 1183.08L715.65 1184.16L716.29 1185.24L716.93 1186.31L717.57 1187.4L718.2 1188.48L718.84 1189.56L719.47 1190.65L720.1 1191.73L720.72 1192.82L721.35 1193.91L721.97 1195L722.59 1196.09L723.21 1197.18L723.83 1198.27L724.44 1199.37L725.06 1200.46L725.67 1201.56L726.28 1202.66L726.89 1203.76L727.5 1204.86L728.1 1205.96L728.7 1207.06L729.31 1208.17L729.91 1209.27L730.5 1210.38L731.1 1211.48L731.7 1212.59L732.29 1213.7L732.88 1214.81L733.47 1215.92L734.06 1217.03L734.65 1218.14L735.24 1219.26L735.82 1220.37L736.41 1221.49L736.99 1222.6L737.57 1223.72L738.15 1224.83L738.73 1225.95L739.31 1227.07L739.88 1228.19L740.46 1229.31L741.03 1230.43L741.6 1231.55L742.18 1232.68L742.75 1233.8L743.32 1234.92L743.88 1236.05L744.45 1237.17L745.02 1238.3L745.58 1239.42L746.15 1240.55L746.71 1241.67L747.28 1242.8L747.84 1243.93L748.4 1245.06L748.96 1246.19L749.52 1247.32L750.08 1248.44L750.64 1249.57L751.19 1250.7L751.75 1251.84L752.31 1252.97L752.86 1254.1L753.42 1255.23L753.97 1256.36L754.53 1257.49L755.08 1258.63L755.63 1259.76L756.19 1260.89L756.74 1262.02L757.29 1263.16L757.84 1264.29L758.39 1265.42L758.94 1266.56L759.49 1267.69L760.04 1268.82L760.59 1269.96L761.14 1271.09L761.69 1272.22L762.24 1273.36L762.8 1274.49L763.35 1275.62L763.9 1276.76L764.45 1277.89L765 1279.02L765.55 1280.15L766.11 1281.28L766.66 1282.41L767.22 1283.54L767.77 1284.67L768.33 1285.8L768.89 1286.93L769.45 1288.06L770.01 1289.18L770.57 1290.31L771.13 1291.44L771.7 1292.56L772.26 1293.68L772.83 1294.81L773.4 1295.93L773.97 1297.05L774.54 1298.17L775.11 1299.29L775.69 1300.4L776.27 1301.52L776.84 1302.64L777.43 1303.75L778.01 1304.86L778.6 1305.97L779.18 1307.08L779.77 1308.19L780.37 1309.3L780.96 1310.41L781.56 1311.51L782.16 1312.61L782.76 1313.72L783.37 1314.82L783.98 1315.91L784.59 1317.01L785.2 1318.1L785.82 1319.2L786.44 1320.29L787.07 1321.38L787.69 1322.46L788.32 1323.55L788.96 1324.63L789.6 1325.71L790.24 1326.79L790.88 1327.87L791.53 1328.94L792.18 1330.02L792.84 1331.09L793.5 1332.16L794.16 1333.22L794.83 1334.29L795.5 1335.35L796.18 1336.41L796.86 1337.46L797.54 1338.52L798.23 1339.57L798.92 1340.62L799.62 1341.66L800.32 1342.71L801.03 1343.75L801.74 1344.79L802.46 1345.82L803.18 1346.85L803.91 1347.88L804.64 1348.91L805.38 1349.93L806.12 1350.96L806.87 1351.97L807.62 1352.99L808.38 1354L809.14 1355.01L809.91 1356.01L810.68 1357.02L811.46 1358.02L812.25 1359.01L813.04 1360L813.84 1360.99L814.64 1361.98L815.45 1362.96L816.27 1363.94L817.09 1364.92L817.92 1365.89L818.75 1366.86L819.59 1367.82L820.44 1368.78L821.29 1369.74L822.15 1370.69L823.02 1371.64L823.89 1372.58L824.77 1373.52L825.66 1374.45L826.56 1375.36L827.46 1376.27L828.37 1377.16L829.29 1378.03L830.22 1378.89L831.16 1379.73L832.11 1380.54L833.07 1381.34L834.04 1382.1L835.02 1382.85L836.01 1383.56L837.01 1384.24L838.02 1384.9L839.05 1385.52L840.08 1386.1L841.13 1386.65L842.19 1387.16L843.26 1387.63L844.35 1388.05L845.45 1388.44L846.56 1388.78L847.69 1389.07L848.83 1389.31L849.99 1389.5L851.16 1389.64L852.34 1389.72L853.54 1389.75L854.75 1389.73L855.97 1389.66L857.2 1389.55L858.44 1389.39L859.67 1389.18L860.91 1388.94L862.15 1388.65L863.39 1388.33L864.61 1387.98L865.84 1387.59L867.05 1387.18L868.25 1386.74L869.44 1386.27L870.61 1385.78L871.77 1385.27L872.91 1384.73L874.04 1384.17L875.16 1383.59L876.26 1382.98L877.36 1382.36L878.44 1381.72L879.5 1381.05L880.56 1380.37L881.6 1379.66L882.63 1378.94L883.65 1378.2L884.66 1377.45L885.65 1376.68L886.64 1375.89L887.61 1375.08L888.58 1374.26L889.53 1373.43L890.48 1372.58L891.41 1371.71L892.33 1370.84L893.25 1369.95L894.16 1369.05L895.06 1368.14L895.94 1367.21L896.83 1366.28L897.7 1365.33L898.56 1364.38L899.42 1363.42L900.27 1362.45L901.11 1361.47L901.95 1360.48L902.78 1359.49L903.6 1358.49L904.41 1357.48L905.22 1356.47L906.03 1355.45L906.82 1354.43L907.62 1353.41L908.4 1352.38L909.19 1351.35L909.96 1350.32L910.74 1349.28L911.5 1348.25L912.27 1347.21L913.03 1346.17L913.78 1345.13L914.54 1344.09L915.28 1343.05L916.03 1342.01L916.77 1340.96L917.5 1339.92L918.24 1338.87L918.97 1337.82L919.69 1336.77L920.41 1335.73L921.13 1334.67L921.84 1333.62L922.55 1332.57L923.26 1331.52L923.96 1330.46L924.66 1329.41L925.36 1328.35L926.06 1327.29L926.75 1326.23L927.43 1325.18L928.12 1324.11L928.8 1323.05L929.48 1321.99L930.15 1320.93L930.83 1319.86L931.5 1318.8L932.16 1317.73L932.83 1316.67L933.49 1315.6L934.15 1314.53L934.8 1313.46L935.46 1312.39L936.11 1311.32L936.76 1310.25L937.41 1309.18L938.05 1308.11L938.69 1307.03L939.33 1305.96L939.97 1304.88L940.61 1303.81L941.24 1302.73L941.87 1301.65L942.5 1300.57L943.13 1299.5L943.76 1298.42L944.38 1297.34L945.01 1296.26L945.63 1295.17L946.25 1294.09L946.87 1293.01L947.48 1291.93L948.1 1290.84L948.71 1289.76L949.33 1288.67L949.94 1287.59L950.55 1286.5L951.16 1285.42L951.77 1284.33L952.37 1283.24L952.98 1282.16L953.58 1281.07L954.19 1279.98L954.79 1278.89L955.39 1277.8L956 1276.71L956.6 1275.62L957.2 1274.53L957.8 1273.44L958.4 1272.35L959 1271.25L959.59 1270.16L960.19 1269.07L960.79 1267.98L961.39 1266.88L961.98 1265.79L962.58 1264.69L963.18 1263.6L963.78 1262.51L964.37 1261.41L964.97 1260.32L965.57 1259.22L966.17 1258.12L966.76 1257.03L967.36 1255.93L967.96 1254.84L968.56 1253.74L969.16 1252.64L969.76 1251.55L970.36 1250.45L970.96 1249.35L971.56 1248.26L972.16 1247.16L972.76 1246.06L973.37 1244.96L973.97 1243.87L974.58 1242.77L975.18 1241.67L975.79 1240.57L976.4 1239.48L977.01 1238.38L977.62 1237.28L978.23 1236.18L978.84 1235.09L979.46 1233.99L980.07 1232.89L980.69 1231.79L981.3 1230.7L981.92 1229.6L982.54 1228.51L983.17 1227.41L983.79 1226.32L984.41 1225.22L985.04 1224.13L985.66 1223.03L986.29 1221.94L986.92 1220.85L987.55 1219.76L988.19 1218.66L988.82 1217.57L989.46 1216.48L990.1 1215.39L990.74 1214.3L991.38 1213.22L992.02 1212.13L992.66 1211.04L993.31 1209.96L993.96 1208.87L994.61 1207.79L995.26 1206.71L995.91 1205.63L996.57 1204.55L997.23 1203.47L997.89 1202.39L998.55 1201.31L999.21 1200.23L999.88 1199.16L1000.55 1198.09L1001.21 1197.01L1001.89 1195.94L1002.56 1194.87L1003.24 1193.81L1003.92 1192.74L1004.6 1191.67L1005.28 1190.61L1005.96 1189.55L1006.65 1188.49L1007.34 1187.43L1008.03 1186.37L1008.73 1185.31L1009.42 1184.26L1010.12 1183.2L1010.83 1182.15L1011.53 1181.1L1012.24 1180.06L1012.95 1179.01L1013.66 1177.97L1014.37 1176.92L1015.09 1175.88L1015.81 1174.85L1016.53 1173.81L1017.26 1172.77L1017.99 1171.74L1018.72 1170.71L1019.45 1169.68L1020.19 1168.66L1020.93 1167.63L1021.67 1166.61L1022.42 1165.59L1023.16 1164.58L1023.92 1163.56L1024.67 1162.55L1025.43 1161.54L1026.19 1160.53L1026.95 1159.53L1027.72 1158.53L1028.48 1157.53L1029.26 1156.53L1030.03 1155.54L1030.81 1154.54L1031.59 1153.56L1032.38 1152.57L1033.16 1151.59L1033.96 1150.61L1034.75 1149.63L1035.55 1148.66L1036.35 1147.68L1037.15 1146.72L1037.96 1145.75L1038.77 1144.79L1039.58 1143.83L1040.4 1142.87L1041.22 1141.92L1042.04 1140.97L1042.87 1140.03L1043.7 1139.09L1044.54 1138.15L1045.37 1137.21L1046.22 1136.28L1047.06 1135.35L1047.91 1134.43L1048.76 1133.5L1049.62 1132.59L1050.48 1131.67L1051.34 1130.76L1052.2 1129.86L1053.07 1128.95L1053.95 1128.06L1054.82 1127.16L1055.71 1126.27L1056.59 1125.38L1057.48 1124.5L1058.37 1123.62L1059.27 1122.75L1060.17 1121.88L1061.07 1121.01L1061.98 1120.15L1062.89 1119.29L1063.81 1118.44L1064.72 1117.59L1065.65 1116.74L1066.58 1115.9L1067.51 1115.07L1068.44 1114.24L1069.38 1113.41L1070.32 1112.59L1071.27 1111.77L1072.22 1110.96L1073.18 1110.15L1074.14 1109.35L1075.1 1108.55L1076.07 1107.75L1077.04 1106.96L1078.02 1106.18L1079 1105.4L1079.98 1104.63L1080.97 1103.86L1081.97 1103.1L1082.96 1102.34L1083.97 1101.58L1084.97 1100.83L1085.98 1100.09L1086.99 1099.35L1088.01 1098.61L1089.03 1097.88L1090.06 1097.16L1091.08 1096.43L1092.12 1095.71L1093.15 1095L1094.19 1094.29L1095.23 1093.58L1096.27 1092.88L1097.32 1092.18L1098.37 1091.48L1099.42 1090.79L1100.47 1090.1L1101.53 1089.41L1102.59 1088.73L1103.65 1088.05L1104.72 1087.37L1105.78 1086.7L1106.85 1086.03L1107.92 1085.36L1108.99 1084.69L1110.07 1084.03L1111.14 1083.36L1112.22 1082.7L1113.3 1082.04L1114.38 1081.39L1115.46 1080.73L1116.54 1080.08L1117.62 1079.43L1118.71 1078.78L1119.79 1078.13L1120.88 1077.48L1121.97 1076.84L1123.05 1076.19L1124.14 1075.55L1125.23 1074.91L1126.32 1074.27L1127.41 1073.63L1128.5 1072.99L1129.59 1072.35L1130.68 1071.71L1131.76 1071.07L1132.85 1070.43L1133.94 1069.79L1135.03 1069.15L1136.12 1068.51L1137.21 1067.87L1138.29 1067.24L1139.38 1066.6L1140.47 1065.96L1141.55 1065.32L1142.64 1064.68L1143.73 1064.04L1144.81 1063.41L1145.9 1062.77L1146.98 1062.13L1148.07 1061.49L1149.15 1060.85L1150.24 1060.22L1151.32 1059.58L1152.4 1058.94L1153.49 1058.3L1154.57 1057.66L1155.65 1057.02L1156.74 1056.39L1157.82 1055.75L1158.9 1055.11L1159.98 1054.47L1161.06 1053.83L1162.14 1053.19L1163.22 1052.55L1164.31 1051.91L1165.38 1051.27L1166.46 1050.63L1167.54 1049.98L1168.62 1049.34L1169.7 1048.7L1170.78 1048.06L1171.86 1047.41L1172.94 1046.77L1174.01 1046.13L1175.09 1045.48L1176.17 1044.84L1177.24 1044.19L1178.32 1043.55L1179.39 1042.9L1180.47 1042.26L1181.54 1041.61L1182.62 1040.96L1183.69 1040.31L1184.77 1039.66L1185.84 1039.01L1186.91 1038.36L1187.98 1037.71L1189.06 1037.06L1190.13 1036.41L1191.2 1035.76L1192.27 1035.11L1193.34 1034.45L1194.41 1033.8L1195.48 1033.14L1196.55 1032.48L1197.62 1031.83L1198.69 1031.17L1199.76 1030.51L1200.82 1029.85L1201.89 1029.19L1202.96 1028.53L1204.02 1027.87L1205.09 1027.21L1206.16 1026.54L1207.22 1025.88L1208.29 1025.21L1209.35 1024.55L1210.41 1023.88L1211.48 1023.21L1212.54 1022.54L1213.6 1021.87L1214.67 1021.2L1215.73 1020.53L1216.79 1019.85L1217.85 1019.18L1218.91 1018.5L1219.97 1017.83L1221.03 1017.15L1222.09 1016.47L1223.15 1015.79L1224.2 1015.11L1225.26 1014.42L1226.32 1013.74L1227.38 1013.05L1228.43 1012.37L1229.49 1011.68L1230.54 1010.99L1231.6 1010.3L1232.65 1009.61L1233.71 1008.92L1234.76 1008.22L1235.81 1007.53L1236.86 1006.83L1237.92 1006.13L1238.97 1005.43L1240.02 1004.73L1241.07 1004.03L1242.12 1003.33L1243.17 1002.62L1244.04 1002.03" stroke="#800000" stroke-width="4.9" fill="none" stroke-linecap="round" stroke-linejoin="round"/>
<path d="M350.3 1015.14h0.01M367.91 1015.62h0.01M385.18 1016.55h0.01M403.24 1018.01h0.01M420.76 1019.9h0.01M437.99 1022.22h0.01M455.8 1025.11h0.01M473.57 1028.47h0.01M491.51 1032.35h0.01M509.4 1036.73h0.01M527.16 1041.71h0.01M544.48 1047.37h0.01M562.08 1054.12h0.01M579.4 1062.03h0.01M596.89 1071.58h0.01M614.33 1082.91h0.01M631.99 1096.54h0.01M648.37 1111.59h0.01M662.23 1126.62h0.01M674.47 1141.9h0.01M685.2 1157.04h0.01M695.23 1172.73h0.01M704.21 1188.11h0.01M712.61 1203.61h0.01M720.43 1218.93h0.01M727.85 1234.17h0.01M735.15 1249.65h0.01M742.38 1265.3h0.01M749.42 1280.71h0.01M756.42 1296.09h0.01M763.36 1311.26h0.01M770.47 1326.61h0.01M777.62 1341.77h0.01M785.17 1357.33h0.01M792.78 1372.51h0.01M800.91 1388.11h0.01M809.81 1403.92h0.01M820.83 1419.14h0.01M837.67 1432.72h0.01M855.01 1437.57h0.01M872.66 1432.92h0.01M888.6 1419.29h0.01M899.9 1403.65h0.01M909.59 1387.73h0.01M918.07 1372.56h0.01M926.49 1356.87h0.01M934.46 1341.65h0.01M942.45 1326.16h0.01M950.41 1310.62h0.01M958.1 1295.67h0.01M966.09 1280.36h0.01M974.43 1264.71h0.01M982.99 1249.17h0.01M991.71 1233.97h0.01M1000.99 1218.56h0.01M1010.63 1203.37h0.01M1021.29 1187.54h0.01M1032.02 1172.6h0.01M1044.17 1156.82h0.01M1056.74 1141.71h0.01M1070.35 1126.65h0.01M1085.41 1111.48h0.01M1102.4 1096.08h0.01M1120.11 1081.77h0.01M1137.26 1069.16h0.01M1155.26 1056.88h0.01M1173.22 1045.29h0.01M1190.6 1034.47h0.01M1208.37 1023.58h0.01M1225.84 1012.85h0.01M1243.46 1001.78h0.01" stroke="#00ffcc" stroke-width="9.6" fill="none" stroke-linecap="round" stroke-linejoin="round"/>
<path d="M336.81 1015.89L337.04 1015.93L337.73 1016.04L338.42 1016.15L339.11 1016.26L339.8 1016.36L340.5 1016.46L341.19 1016.56L341.88 1016.66L342.58 1016.76L343.27 1016.86L343.96 1016.95L344.66 1017.04L345.35 1017.13L345.7 1017.18M357.71 1018.48L357.91 1018.5L358.61 1018.56L359.31 1018.62L360.01 1018.68L360.71 1018.74L361.41 1018.8L362.11 1018.86L362.82 1018.91L363.52 1018.97L364.22 1019.02L364.92 1019.07L365.62 1019.13L366.32 1019.18L367.03 1019.23L367.73 1019.28L368.43 1019.32L369.13 1019.37L369.84 1019.42L370.54 1019.46L371.24 1019.51L371.95 1019.55L372.65 1019.59L373.35 1019.64L374.06 1019.68L374.76 1019.72L375.47 1019.76L376.17 1019.8L376.87 1019.84L377.58 1019.88L378.28 1019.91L378.99 1019.95L379.69 1019.99L379.79 1019.99M391.8 1020.57L391.92 1020.58L392.62 1020.61L393.33 1020.64L394.03 1020.68L394.74 1020.71L395.45 1020.74L396.15 1020.77L396.86 1020.81L397.56 1020.84L398.27 1020.87L398.97 1020.9L399.68 1020.94L400.38 1020.97L401.09 1021.01L401.79 1021.04L402.5 1021.07L403.21 1021.11L403.91 1021.14L404.62 1021.18L405.32 1021.22L406.03 1021.25L406.73 1021.29L407.44 1021.33L408.14 1021.36L408.84 1021.4L409.55 1021.44L410.25 1021.48L410.96 1021.52L411.66 1021.56L412.37 1021.6L413.07 1021.65L413.77 1021.69L413.9 1021.7M425.93 1022.57L425.95 1022.57L426.65 1022.63L427.35 1022.69L428.05 1022.76L428.75 1022.82L429.45 1022.89L430.15 1022.95L430.85 1023.02L431.55 1023.09L432.25 1023.16L432.95 1023.23L433.65 1023.31L434.35 1023.38L435.05 1023.46L435.74 1023.53L436.44 1023.61L437.14 1023.69L437.84 1023.78L438.53 1023.86L439.23 1023.95L439.93 1024.03L440.62 1024.12L441.32 1024.21L442.01 1024.31L442.71 1024.4L443.4 1024.5L444.1 1024.59L444.79 1024.69L445.49 1024.8L446.18 1024.9L446.87 1025L447.57 1025.11L447.92 1025.17M459.81 1027.36L459.98 1027.39L460.66 1027.54L461.35 1027.69L462.03 1027.85L462.72 1028L463.4 1028.16L464.08 1028.32L464.77 1028.48L465.45 1028.64L466.13 1028.8L466.82 1028.97L467.5 1029.14L468.18 1029.31L468.86 1029.48L469.54 1029.66L470.22 1029.83L470.9 1030.01L471.58 1030.19L472.26 1030.37L472.94 1030.56L473.62 1030.74L474.3 1030.93L474.98 1031.11L475.66 1031.3L476.33 1031.49L477.01 1031.69L477.69 1031.88L478.37 1032.08L479.04 1032.27L479.72 1032.47L480.4 1032.67L481.07 1032.87L481.75 1033.07L481.81 1033.09M493.86 1036.86L493.87 1036.87L494.55 1037.08L495.22 1037.3L495.89 1037.52L496.56 1037.74L497.23 1037.96L497.9 1038.18L498.57 1038.4L499.24 1038.62L499.92 1038.85L500.59 1039.07L501.26 1039.29L501.93 1039.51L502.6 1039.73L503.27 1039.96L503.94 1040.18L504.61 1040.4L505.28 1040.62L505.95 1040.85L506.62 1041.07L507.29 1041.29L507.96 1041.51L508.62 1041.74L509.29 1041.96L509.96 1042.18L510.63 1042.4L511.3 1042.62L511.97 1042.84L512.64 1043.07L513.31 1043.29L513.98 1043.51L514.65 1043.73L515.32 1043.94L515.99 1044.16L516.05 1044.19M528.16 1048.08L528.24 1048.11L528.91 1048.32L529.58 1048.54L530.24 1048.75L530.91 1048.97L531.58 1049.18L532.24 1049.4L532.91 1049.61L533.58 1049.83L534.24 1050.05L534.91 1050.27L535.57 1050.49L536.24 1050.71L536.9 1050.93L537.57 1051.15L538.23 1051.37L538.89 1051.6L539.56 1051.82L540.22 1052.05L540.88 1052.27L541.55 1052.5L542.21 1052.73L542.87 1052.96L543.53 1053.19L544.19 1053.42L544.85 1053.66L545.51 1053.89L546.17 1054.13L546.83 1054.37L547.49 1054.61L548.15 1054.85L548.8 1055.09L549.46 1055.34L550.12 1055.58L550.17 1055.6M562.02 1060.4L562.06 1060.42L562.71 1060.7L563.35 1060.98L564 1061.27L564.64 1061.56L565.28 1061.84L565.93 1062.13L566.57 1062.43L567.21 1062.72L567.85 1063.02L568.49 1063.31L569.13 1063.61L569.77 1063.91L570.4 1064.22L571.04 1064.52L571.68 1064.83L572.31 1065.13L572.94 1065.44L573.58 1065.76L574.21 1066.07L574.84 1066.38L575.47 1066.7L576.1 1067.02L576.73 1067.34L577.36 1067.66L577.99 1067.99L578.61 1068.31L579.24 1068.64L579.86 1068.97L580.49 1069.3L581.11 1069.63L581.73 1069.97L582.36 1070.3L582.98 1070.64L583.59 1070.98L583.97 1071.19M596 1078.28L596.17 1078.39L596.77 1078.76L597.36 1079.14L597.96 1079.52L598.55 1079.9L599.14 1080.29L599.74 1080.67L600.33 1081.06L600.92 1081.45L601.5 1081.84L602.09 1082.23L602.67 1082.63L603.26 1083.02L603.84 1083.42L604.42 1083.82L605 1084.22L605.58 1084.62L606.16 1085.02L606.74 1085.43L607.31 1085.84L607.89 1086.25L608.46 1086.66L609.03 1087.07L609.6 1087.48L610.17 1087.9L610.74 1088.32L611.3 1088.73L611.87 1089.15L612.43 1089.58L612.99 1090L613.56 1090.43L614.12 1090.85L614.67 1091.28L615.23 1091.71L615.79 1092.14L616.34 1092.58L616.89 1093.01L617.44 1093.45L617.99 1093.89L618.13 1094M630.05 1104.27L630.21 1104.43L630.73 1104.91L631.24 1105.38L631.75 1105.87L632.26 1106.35L632.76 1106.83L633.27 1107.32L633.77 1107.8L634.27 1108.29L634.77 1108.78L635.27 1109.27L635.76 1109.77L636.26 1110.26L636.75 1110.76L637.24 1111.25L637.74 1111.75L638.22 1112.25L638.71 1112.75L639.2 1113.26L639.68 1113.76L640.16 1114.27L640.65 1114.78L641.13 1115.28L641.6 1115.79L642.08 1116.31L642.56 1116.82L643.03 1117.33L643.5 1117.85L643.97 1118.36L644.44 1118.88L644.91 1119.4L645.38 1119.92L645.85 1120.45L646.31 1120.97L646.77 1121.49L647.23 1122.02L647.69 1122.55L648.15 1123.07L648.61 1123.6M657.21 1134.1L657.34 1134.26L657.77 1134.81L658.2 1135.37L658.62 1135.92L659.05 1136.48L659.48 1137.03L659.9 1137.59L660.32 1138.15L660.75 1138.71L661.17 1139.27L661.59 1139.83L662.01 1140.4L662.42 1140.96L662.84 1141.53L663.26 1142.09L663.67 1142.66L664.08 1143.23L664.5 1143.79L664.91 1144.36L665.32 1144.93L665.73 1145.5L666.13 1146.08L666.54 1146.65L666.95 1147.22L667.35 1147.8L667.75 1148.37L668.16 1148.95L668.56 1149.52L668.96 1150.1L669.36 1150.68L669.76 1151.26L670.15 1151.84L670.55 1152.42L670.95 1153L671.2 1153.38M678.09 1163.87L678.15 1163.97L678.53 1164.56L678.91 1165.16L679.28 1165.75L679.66 1166.35L680.03 1166.94L680.41 1167.54L680.78 1168.14L681.15 1168.74L681.52 1169.33L681.89 1169.93L682.26 1170.53L682.63 1171.13L682.99 1171.73L683.36 1172.33L683.73 1172.93L684.09 1173.53L684.46 1174.14L684.82 1174.74L685.18 1175.34L685.54 1175.94L685.9 1176.55L686.27 1177.15L686.62 1177.76L686.98 1178.36L687.34 1178.97L687.7 1179.58L688.05 1180.18L688.41 1180.79L688.76 1181.4L689.12 1182.01L689.47 1182.62L689.67 1182.96M695.47 1193.24L695.48 1193.24L695.82 1193.86L696.15 1194.48L696.49 1195.1L696.83 1195.71L697.17 1196.33L697.5 1196.95L697.84 1197.57L698.17 1198.19L698.51 1198.81L698.84 1199.43L699.17 1200.05L699.51 1200.67L699.84 1201.3L700.17 1201.92L700.5 1202.54L700.83 1203.16L701.16 1203.79L701.48 1204.41L701.81 1205.04L702.14 1205.66L702.46 1206.29L702.79 1206.91L703.12 1207.54L703.44 1208.16L703.76 1208.79L704.09 1209.42L704.41 1210.04L704.73 1210.67L705.05 1211.3L705.37 1211.93L705.61 1212.4M710.87 1222.95L710.93 1223.08L711.24 1223.71L711.55 1224.35L711.86 1224.98L712.17 1225.62L712.47 1226.25L712.78 1226.89L713.09 1227.52L713.39 1228.16L713.7 1228.8L714 1229.43L714.3 1230.07L714.61 1230.71L714.91 1231.34L715.21 1231.98L715.51 1232.62L715.82 1233.26L716.12 1233.9L716.42 1234.54L716.72 1235.18L717.02 1235.81L717.31 1236.45L717.61 1237.09L717.91 1237.73L718.21 1238.37L718.5 1239.02L718.8 1239.66L719.09 1240.3L719.39 1240.94L719.68 1241.58L719.98 1242.22L720 1242.26M724.71 1252.72L724.72 1252.73L725 1253.38L725.29 1254.02L725.57 1254.67L725.86 1255.31L726.14 1255.96L726.43 1256.6L726.71 1257.25L727 1257.9L727.28 1258.54L727.56 1259.19L727.84 1259.84L728.12 1260.48L728.41 1261.13L728.69 1261.78L728.97 1262.43L729.25 1263.07L729.53 1263.72L729.81 1264.37L730.09 1265.02L730.36 1265.66L730.64 1266.31L730.92 1266.96L731.2 1267.61L731.47 1268.26L731.75 1268.91L732.03 1269.55L732.3 1270.2L732.58 1270.85L732.86 1271.5L733.05 1271.97M737.45 1282.46L737.49 1282.55L737.76 1283.2L738.02 1283.85L738.29 1284.5L738.56 1285.15L738.83 1285.8L739.1 1286.45L739.37 1287.1L739.63 1287.75L739.9 1288.4L740.17 1289.06L740.44 1289.71L740.7 1290.36L740.97 1291.01L741.23 1291.66L741.5 1292.31L741.77 1292.96L742.03 1293.61L742.3 1294.26L742.56 1294.91L742.83 1295.57L743.09 1296.22L743.35 1296.87L743.62 1297.52L743.88 1298.17L744.15 1298.82L744.41 1299.47L744.67 1300.12L744.93 1300.77L745.2 1301.43L745.37 1301.85M749.62 1312.47L749.63 1312.49L749.89 1313.14L750.15 1313.79L750.41 1314.44L750.67 1315.09L750.93 1315.74L751.18 1316.39L751.44 1317.04L751.7 1317.69L751.96 1318.34L752.22 1318.99L752.47 1319.64L752.73 1320.29L752.99 1320.94L753.25 1321.59L753.51 1322.24L753.76 1322.89L754.02 1323.54L754.28 1324.18L754.54 1324.83L754.79 1325.48L755.05 1326.13L755.31 1326.78L755.56 1327.43L755.82 1328.08L756.08 1328.73L756.34 1329.38L756.59 1330.03L756.85 1330.67L757.11 1331.32L757.29 1331.78M761.42 1342.17L761.49 1342.34L761.74 1342.99L762 1343.64L762.26 1344.28L762.52 1344.93L762.78 1345.58L763.04 1346.23L763.3 1346.87L763.56 1347.52L763.81 1348.17L764.07 1348.81L764.33 1349.46L764.59 1350.11L764.85 1350.76L765.11 1351.4L765.37 1352.05L765.63 1352.7L765.89 1353.34L766.16 1353.99L766.42 1354.64L766.68 1355.28L766.94 1355.93L767.2 1356.58L767.46 1357.22L767.73 1357.87L767.99 1358.51L768.25 1359.16L768.51 1359.81L768.78 1360.45L769.04 1361.1L769.15 1361.37M773.48 1371.87L773.57 1372.07L773.84 1372.72L774.11 1373.36L774.38 1374.01L774.65 1374.65L774.92 1375.3L775.19 1375.94L775.46 1376.59L775.73 1377.23L776.01 1377.88L776.28 1378.52L776.55 1379.17L776.83 1379.81L777.1 1380.46L777.37 1381.1L777.65 1381.74L777.93 1382.39L778.2 1383.03L778.48 1383.68L778.76 1384.32L779.03 1384.97L779.31 1385.61L779.59 1386.25L779.87 1386.9L780.15 1387.54L780.43 1388.19L780.71 1388.83L780.99 1389.47L781.27 1390.12L781.55 1390.76L781.67 1391.04M786.29 1401.39L786.34 1401.48L786.63 1402.12L786.92 1402.77L787.22 1403.41L787.51 1404.05L787.81 1404.69L788.1 1405.34L788.4 1405.98L788.69 1406.62L788.99 1407.26L789.29 1407.91L789.59 1408.55L789.89 1409.19L790.19 1409.83L790.49 1410.48L790.79 1411.12L791.1 1411.76L791.4 1412.4L791.7 1413.04L792.01 1413.69L792.31 1414.33L792.62 1414.97L792.93 1415.61L793.23 1416.25L793.54 1416.89L793.85 1417.54L794.16 1418.18L794.47 1418.82L794.79 1419.46L795.1 1420.1L795.33 1420.59M800.6 1431.13L800.65 1431.21L800.97 1431.85L801.3 1432.5L801.63 1433.14L801.96 1433.78L802.3 1434.42L802.63 1435.06L802.96 1435.7L803.3 1436.34L803.63 1436.98L803.97 1437.62L804.31 1438.26L804.64 1438.9L804.98 1439.54L805.32 1440.18L805.67 1440.82L806.01 1441.46L806.35 1442.1L806.7 1442.74L807.04 1443.38L807.39 1444.02L807.73 1444.66L808.08 1445.3L808.43 1445.94L808.78 1446.58L809.13 1447.22L809.49 1447.86L809.84 1448.5L810.19 1449.14L810.55 1449.77L810.91 1450.41L810.95 1450.5M817.1 1461.04L817.18 1461.17L817.57 1461.79L817.96 1462.4L818.35 1463.01L818.74 1463.62L819.14 1464.22L819.53 1464.82L819.93 1465.42L820.34 1466.02L820.74 1466.6L821.15 1467.19L821.57 1467.77L821.98 1468.35L822.4 1468.92L822.82 1469.49L823.25 1470.05L823.68 1470.6L824.11 1471.16L824.54 1471.7L824.98 1472.24L825.43 1472.78L825.87 1473.3L826.32 1473.83L826.78 1474.34L827.23 1474.85L827.7 1475.35L828.16 1475.85L828.63 1476.34L829.11 1476.82L829.59 1477.3L830.07 1477.76L830.56 1478.22L831.05 1478.67L831.55 1479.12L832.05 1479.55L832.56 1479.98L833.07 1480.4L833.2 1480.51M845.45 1487.03L845.48 1487.04L846.12 1487.22L846.77 1487.39L847.42 1487.54L848.07 1487.69L848.73 1487.82L849.4 1487.93L850.07 1488.03L850.74 1488.12L851.41 1488.2L852.09 1488.26L852.77 1488.31L853.45 1488.34L854.13 1488.36L854.81 1488.36L855.49 1488.35L856.18 1488.32L856.86 1488.28L857.54 1488.23L858.23 1488.16L858.91 1488.08L859.59 1487.98L860.27 1487.88L860.95 1487.75L861.62 1487.62L862.29 1487.47L862.96 1487.31L863.63 1487.13L864.29 1486.95L864.94 1486.75L865.6 1486.54L866.25 1486.31L866.89 1486.08L867.53 1485.83L867.86 1485.69M879.98 1477.85L880.12 1477.72L880.64 1477.25L881.14 1476.77L881.65 1476.28L882.14 1475.78L882.64 1475.28L883.13 1474.77L883.61 1474.25L884.09 1473.73L884.57 1473.2L885.04 1472.66L885.51 1472.12L885.97 1471.57L886.43 1471.02L886.89 1470.46L887.34 1469.9L887.79 1469.33L888.23 1468.75L888.67 1468.17L889.11 1467.59L889.54 1467L889.97 1466.41L890.4 1465.81L890.82 1465.21L891.24 1464.61L891.66 1464L892.07 1463.38L892.48 1462.77L892.88 1462.15L893.29 1461.53L893.69 1460.91L894.09 1460.28L894.48 1459.65L894.87 1459.02L895.21 1458.48M901.24 1448L901.28 1447.92L901.64 1447.28L901.99 1446.64L902.34 1446L902.68 1445.36L903.03 1444.73L903.37 1444.09L903.71 1443.46L904.05 1442.82L904.39 1442.19L904.73 1441.56L905.07 1440.93L905.4 1440.3L905.74 1439.67L906.07 1439.04L906.4 1438.41L906.73 1437.78L907.06 1437.15L907.39 1436.52L907.72 1435.9L908.04 1435.27L908.37 1434.65L908.69 1434.02L909.02 1433.4L909.34 1432.77L909.66 1432.15L909.98 1431.52L910.3 1430.9L910.61 1430.28L910.93 1429.65L911.25 1429.03L911.43 1428.66M916.71 1418.1L916.74 1418.05L917.04 1417.43L917.35 1416.81L917.66 1416.18L917.96 1415.56L918.27 1414.94L918.57 1414.31L918.88 1413.69L919.18 1413.07L919.49 1412.44L919.79 1411.82L920.1 1411.2L920.4 1410.57L920.7 1409.95L921.01 1409.32L921.31 1408.7L921.61 1408.07L921.92 1407.45L922.22 1406.82L922.52 1406.19L922.83 1405.57L923.13 1404.94L923.43 1404.32L923.73 1403.69L924.03 1403.06L924.33 1402.44L924.63 1401.81L924.94 1401.18L925.24 1400.56L925.54 1399.93L925.84 1399.3L926.14 1398.67L926.14 1398.67M931.16 1388.1L931.22 1387.98L931.51 1387.35L931.81 1386.72L932.11 1386.09L932.4 1385.46L932.7 1384.83L933 1384.19L933.3 1383.56L933.59 1382.93L933.89 1382.3L934.18 1381.67L934.48 1381.04L934.78 1380.41L935.07 1379.77L935.37 1379.14L935.67 1378.51L935.96 1377.88L936.26 1377.24L936.55 1376.61L936.85 1375.98L937.14 1375.35L937.44 1374.71L937.73 1374.08L938.03 1373.45L938.33 1372.82L938.62 1372.18L938.92 1371.55L939.21 1370.92L939.51 1370.28L939.8 1369.65L940.1 1369.01L940.19 1368.81M945.03 1358.38L945.1 1358.23L945.4 1357.59L945.69 1356.96L945.99 1356.32L946.28 1355.69L946.57 1355.05L946.87 1354.42L947.16 1353.78L947.46 1353.15L947.75 1352.51L948.05 1351.87L948.34 1351.24L948.64 1350.6L948.93 1349.97L949.23 1349.33L949.52 1348.7L949.82 1348.06L950.11 1347.42L950.4 1346.79L950.7 1346.15L950.99 1345.52L951.29 1344.88L951.58 1344.24L951.88 1343.61L952.17 1342.97L952.47 1342.33L952.77 1341.7L953.06 1341.06L953.36 1340.43L953.65 1339.79L953.9 1339.25M958.74 1328.86L958.79 1328.76L959.08 1328.12L959.38 1327.48L959.68 1326.85L959.98 1326.21L960.28 1325.57L960.57 1324.94L960.87 1324.3L961.17 1323.66L961.47 1323.03L961.77 1322.39L962.07 1321.75L962.36 1321.12L962.66 1320.48L962.96 1319.84L963.26 1319.21L963.56 1318.57L963.86 1317.93L964.16 1317.3L964.46 1316.66L964.76 1316.02L965.06 1315.39L965.36 1314.75L965.66 1314.12L965.96 1313.48L966.27 1312.84L966.57 1312.21L966.87 1311.57L967.17 1310.94L967.47 1310.3L967.76 1309.68M972.78 1299.2L972.84 1299.07L973.15 1298.44L973.45 1297.8L973.76 1297.17L974.07 1296.53L974.37 1295.9L974.68 1295.26L974.99 1294.63L975.3 1293.99L975.61 1293.36L975.91 1292.73L976.22 1292.09L976.53 1291.46L976.84 1290.82L977.15 1290.19L977.46 1289.56L977.77 1288.92L978.08 1288.29L978.39 1287.66L978.7 1287.02L979.02 1286.39L979.33 1285.76L979.64 1285.12L979.95 1284.49L980.26 1283.86L980.58 1283.22L980.89 1282.59L981.2 1281.96L981.52 1281.33L981.83 1280.69L982.15 1280.06L982.24 1279.87M987.56 1269.31L987.65 1269.12L987.98 1268.49L988.3 1267.86L988.62 1267.23L988.94 1266.6L989.26 1265.97L989.59 1265.35L989.91 1264.72L990.23 1264.09L990.56 1263.46L990.88 1262.83L991.21 1262.2L991.53 1261.58L991.86 1260.95L992.18 1260.32L992.51 1259.69L992.84 1259.07L993.17 1258.44L993.49 1257.81L993.82 1257.19L994.15 1256.56L994.48 1255.93L994.81 1255.31L995.14 1254.68L995.47 1254.06L995.8 1253.43L996.13 1252.81L996.46 1252.18L996.79 1251.56L997.13 1250.93L997.46 1250.31L997.61 1250.03M1003.26 1239.6L1003.3 1239.54L1003.64 1238.92L1003.98 1238.3L1004.33 1237.68L1004.67 1237.06L1005.01 1236.44L1005.36 1235.83L1005.7 1235.21L1006.04 1234.59L1006.39 1233.98L1006.74 1233.36L1007.08 1232.74L1007.43 1232.13L1007.78 1231.51L1008.12 1230.9L1008.47 1230.28L1008.82 1229.67L1009.17 1229.05L1009.52 1228.44L1009.87 1227.83L1010.22 1227.21L1010.57 1226.6L1010.92 1225.99L1011.28 1225.38L1011.63 1224.77L1011.98 1224.15L1012.34 1223.54L1012.69 1222.93L1013.05 1222.32L1013.4 1221.71L1013.76 1221.1L1014.12 1220.49L1014.35 1220.1M1020.81 1209.31L1020.88 1209.2L1021.25 1208.59L1021.62 1207.99L1021.99 1207.39L1022.36 1206.79L1022.73 1206.19L1023.1 1205.6L1023.47 1205L1023.84 1204.4L1024.22 1203.8L1024.59 1203.2L1024.96 1202.61L1025.34 1202.01L1025.71 1201.41L1026.09 1200.82L1026.47 1200.22L1026.84 1199.63L1027.22 1199.04L1027.6 1198.44L1027.98 1197.85L1028.36 1197.26L1028.74 1196.66L1029.12 1196.07L1029.5 1195.48L1029.89 1194.89L1030.27 1194.3L1030.65 1193.71L1031.04 1193.12L1031.42 1192.53L1031.81 1191.94L1032.19 1191.36L1032.58 1190.77L1032.97 1190.18L1033.07 1190.02M1039.99 1179.83L1040.06 1179.71L1040.46 1179.14L1040.87 1178.56L1041.27 1177.99L1041.67 1177.41L1042.08 1176.84L1042.48 1176.26L1042.88 1175.69L1043.29 1175.12L1043.7 1174.55L1044.1 1173.98L1044.51 1173.4L1044.92 1172.83L1045.33 1172.27L1045.74 1171.7L1046.15 1171.13L1046.56 1170.56L1046.98 1169.99L1047.39 1169.43L1047.8 1168.86L1048.22 1168.3L1048.63 1167.73L1049.05 1167.17L1049.47 1166.6L1049.88 1166.04L1050.3 1165.48L1050.72 1164.92L1051.14 1164.36L1051.56 1163.8L1051.99 1163.24L1052.41 1162.68L1052.83 1162.12L1053.26 1161.56L1053.68 1161.01L1053.77 1160.89M1061.96 1150.48L1062.05 1150.37L1062.49 1149.83L1062.93 1149.28L1063.38 1148.74L1063.82 1148.2L1064.26 1147.66L1064.71 1147.12L1065.16 1146.58L1065.6 1146.04L1066.05 1145.51L1066.5 1144.97L1066.95 1144.43L1067.4 1143.9L1067.85 1143.36L1068.3 1142.83L1068.76 1142.3L1069.21 1141.76L1069.66 1141.23L1070.12 1140.7L1070.58 1140.17L1071.03 1139.64L1071.49 1139.11L1071.95 1138.59L1072.41 1138.06L1072.87 1137.53L1073.33 1137.01L1073.8 1136.48L1074.26 1135.96L1074.73 1135.44L1075.19 1134.91L1075.66 1134.39L1076.12 1133.87L1076.59 1133.35L1077.06 1132.83L1077.53 1132.31L1078 1131.8L1078.43 1131.33M1088.31 1120.89L1088.42 1120.78L1088.91 1120.28L1089.4 1119.78L1089.9 1119.28L1090.39 1118.78L1090.88 1118.29L1091.38 1117.79L1091.87 1117.29L1092.37 1116.8L1092.87 1116.31L1093.36 1115.81L1093.86 1115.32L1094.36 1114.83L1094.86 1114.34L1095.36 1113.85L1095.87 1113.36L1096.37 1112.87L1096.87 1112.38L1097.38 1111.89L1097.88 1111.41L1098.39 1110.92L1098.89 1110.44L1099.4 1109.95L1099.91 1109.47L1100.42 1108.98L1100.93 1108.5L1101.44 1108.02L1101.95 1107.54L1102.46 1107.06L1102.97 1106.58L1103.49 1106.1L1104 1105.62L1104.52 1105.14L1105.03 1104.67L1105.55 1104.19L1106.06 1103.71L1106.58 1103.24L1107.1 1102.77L1107.62 1102.29L1108.14 1101.82L1108.17 1101.79M1119.85 1091.48L1119.92 1091.43L1120.45 1090.97L1120.99 1090.51L1121.52 1090.05L1122.06 1089.6L1122.59 1089.14L1123.13 1088.69L1123.67 1088.23L1124.21 1087.78L1124.75 1087.33L1125.29 1086.87L1125.83 1086.42L1126.37 1085.97L1126.91 1085.52L1127.45 1085.07L1128 1084.62L1128.54 1084.17L1129.08 1083.72L1129.63 1083.27L1130.17 1082.83L1130.72 1082.38L1131.27 1081.93L1131.81 1081.49L1132.36 1081.04L1132.91 1080.6L1133.46 1080.15L1134 1079.71L1134.55 1079.27L1135.1 1078.82L1135.65 1078.38L1136.2 1077.94L1136.75 1077.5L1137.31 1077.06L1137.86 1076.62L1138.41 1076.18L1138.96 1075.74L1139.52 1075.3L1140.07 1074.87L1140.63 1074.43L1141.18 1073.99L1141.74 1073.56L1141.9 1073.43M1154.04 1064.11L1154.07 1064.09L1154.63 1063.67L1155.2 1063.24L1155.76 1062.82L1156.33 1062.4L1156.9 1061.97L1157.46 1061.55L1158.03 1061.13L1158.6 1060.71L1159.16 1060.29L1159.73 1059.87L1160.3 1059.45L1160.87 1059.03L1161.44 1058.61L1162.01 1058.19L1162.58 1057.77L1163.15 1057.35L1163.72 1056.93L1164.29 1056.52L1164.86 1056.1L1165.43 1055.68L1166.01 1055.27L1166.58 1054.85L1167.15 1054.44L1167.72 1054.02L1168.3 1053.61L1168.87 1053.2L1169.44 1052.78L1170.02 1052.37L1170.59 1051.96L1171.16 1051.55L1171.74 1051.13L1172.31 1050.72L1172.89 1050.31L1173.46 1049.9L1174.04 1049.49L1174.62 1049.08L1175.19 1048.67L1175.77 1048.26L1176.14 1048M1188.05 1039.67L1188.11 1039.62L1188.69 1039.22L1189.27 1038.82L1189.85 1038.42L1190.44 1038.02L1191.02 1037.62L1191.6 1037.22L1192.18 1036.82L1192.76 1036.42L1193.34 1036.02L1193.92 1035.63L1194.51 1035.23L1195.09 1034.83L1195.67 1034.43L1196.25 1034.04L1196.84 1033.64L1197.42 1033.24L1198 1032.85L1198.58 1032.45L1199.17 1032.05L1199.75 1031.66L1200.33 1031.26L1200.91 1030.87L1201.5 1030.48L1202.08 1030.08L1202.66 1029.69L1203.25 1029.29L1203.83 1028.9L1204.41 1028.51L1205 1028.11L1205.58 1027.72L1206.16 1027.33L1206.75 1026.94L1207.33 1026.54L1207.92 1026.15L1208.5 1025.76L1209.08 1025.37L1209.67 1024.98L1210.03 1024.74M1222.04 1016.75L1222.12 1016.7L1222.7 1016.31L1223.28 1015.92L1223.87 1015.54L1224.45 1015.15L1225.03 1014.77L1225.61 1014.38L1226.2 1014L1226.78 1013.61L1227.36 1013.23L1227.95 1012.84L1228.53 1012.46L1229.11 1012.08L1229.69 1011.69L1230.27 1011.31L1230.86 1010.92L1231.44 1010.54L1232.02 1010.16L1232.6 1009.77L1233.18 1009.39L1233.76 1009.01L1234.34 1008.63L1234.93 1008.24L1235.51 1007.86L1236.09 1007.48L1236.67 1007.1L1237.25 1006.72L1237.83 1006.33L1238.41 1005.95L1238.99 1005.57L1239.57 1005.19L1240.15 1004.81L1240.73 1004.43L1241.31 1004.05L1241.89 1003.66L1242.46 1003.28L1243.04 1002.9L1243.62 1002.52L1244.01 1002.27" stroke="#000080" stroke-width="4.9" fill="none" stroke-linecap="round" stroke-linejoin="round"/>
<path d="M344.83 1018.06h0.01M357.16 1019.55L357.38 1019.57L358.12 1019.65L358.87 1019.72L359.61 1019.79L360.35 1019.86L361.1 1019.93L361.84 1020L362.58 1020.07L363.33 1020.13L364.07 1020.2L364.82 1020.26L365.56 1020.32L366.31 1020.38L367.06 1020.44L367.8 1020.5L368.55 1020.55L369.3 1020.61L370.05 1020.67L370.79 1020.72L371.54 1020.77L372.29 1020.83L373.04 1020.88L373.79 1020.93L374.54 1020.98L375.28 1021.03L376.03 1021.08L376.78 1021.12L377.53 1021.17L378.28 1021.22L379.03 1021.26L379.78 1021.31L380.53 1021.35L381.28 1021.4L382.03 1021.44L382.79 1021.49L383.54 1021.53L384.29 1021.57L385.04 1021.61L385.79 1021.66L386.54 1021.7L386.57 1021.7M398.32 1022.34h0.01M411.1 1023.11h0.01M423.54 1024.08L423.58 1024.09L424.33 1024.16L425.08 1024.23L425.82 1024.3L426.57 1024.37L427.31 1024.45L428.06 1024.52L428.8 1024.6L429.55 1024.68L430.29 1024.76L431.04 1024.84L431.78 1024.92L432.52 1025.01L433.27 1025.09L434.01 1025.18L434.75 1025.27L435.49 1025.37L436.24 1025.46L436.98 1025.56L437.72 1025.65L438.46 1025.75L439.2 1025.85L439.94 1025.96L440.68 1026.06L441.41 1026.17L442.15 1026.28L442.89 1026.39L443.63 1026.51L444.36 1026.62L445.1 1026.74L445.83 1026.86L446.57 1026.98L447.3 1027.11L448.04 1027.24L448.77 1027.37L449.5 1027.5L450.24 1027.63L450.97 1027.77L451.7 1027.91L452.43 1028.05L453.16 1028.19L453.31 1028.22M465.24 1031h0.01M477.61 1034.76h0.01M489.75 1039.1L489.84 1039.14L490.55 1039.4L491.25 1039.67L491.95 1039.93L492.65 1040.2L493.36 1040.47L494.06 1040.74L494.76 1041.01L495.46 1041.28L496.16 1041.55L496.86 1041.82L497.56 1042.09L498.26 1042.36L498.97 1042.64L499.67 1042.91L500.37 1043.18L501.07 1043.45L501.77 1043.73L502.47 1044L503.17 1044.27L503.87 1044.54L504.57 1044.82L505.27 1045.09L505.97 1045.36L506.67 1045.63L507.37 1045.9L508.07 1046.18L508.78 1046.45L509.48 1046.72L510.18 1046.98L510.88 1047.25L511.58 1047.52L512.28 1047.79L512.98 1048.05L513.69 1048.32L514.39 1048.58L515.09 1048.84L515.79 1049.11L516.5 1049.37L517.2 1049.63L517.9 1049.88L518.61 1050.14L519.31 1050.4L519.41 1050.43M531.55 1054.65h0.01M543.73 1059h0.01M555.98 1064.03L556.18 1064.11L556.86 1064.42L557.54 1064.73L558.23 1065.04L558.91 1065.35L559.59 1065.66L560.27 1065.98L560.95 1066.29L561.62 1066.61L562.3 1066.94L562.98 1067.26L563.65 1067.59L564.33 1067.91L565 1068.25L565.67 1068.58L566.34 1068.91L567.01 1069.25L567.68 1069.59L568.35 1069.93L569.01 1070.27L569.68 1070.62L570.35 1070.97L571.01 1071.32L571.67 1071.67L572.33 1072.02L572.99 1072.38L573.65 1072.73L574.31 1073.09L574.97 1073.46L575.63 1073.82L576.28 1074.19L576.93 1074.56L577.59 1074.93L578.24 1075.3L578.89 1075.67L579.54 1076.05L580.19 1076.43L580.83 1076.81L581.48 1077.19L582.12 1077.58L582.77 1077.96L583.41 1078.35L584.05 1078.74L584.69 1079.13L585.33 1079.53L585.83 1079.84M598.02 1087.99h0.01M610.32 1097.41h0.01M622.2 1107.89L622.28 1107.97L622.82 1108.49L623.36 1109L623.89 1109.52L624.43 1110.04L624.96 1110.57L625.5 1111.09L626.03 1111.62L626.55 1112.14L627.08 1112.67L627.61 1113.2L628.13 1113.74L628.65 1114.27L629.17 1114.81L629.69 1115.35L630.2 1115.89L630.72 1116.43L631.23 1116.97L631.74 1117.51L632.25 1118.06L632.76 1118.61L633.27 1119.16L633.77 1119.71L634.27 1120.26L634.78 1120.81L635.27 1121.37L635.77 1121.93L636.27 1122.48L636.76 1123.05L637.26 1123.61L637.75 1124.17L638.24 1124.73L638.73 1125.3L639.21 1125.87L639.7 1126.44L640.18 1127.01L640.66 1127.58L641.14 1128.15L641.62 1128.73L642.1 1129.3L642.58 1129.88L643.05 1130.46L643.52 1131.04L643.99 1131.62L644.46 1132.2L644.93 1132.79L645.4 1133.37L645.71 1133.77M653.69 1144.32h0.01M661.4 1155.44h0.01M668.15 1165.97L668.17 1166L668.57 1166.64L668.96 1167.28L669.35 1167.92L669.75 1168.57L670.14 1169.21L670.53 1169.85L670.92 1170.5L671.31 1171.14L671.7 1171.79L672.08 1172.44L672.47 1173.08L672.85 1173.73L673.23 1174.38L673.62 1175.03L674 1175.68L674.38 1176.33L674.76 1176.98L675.14 1177.63L675.51 1178.29L675.89 1178.94L676.26 1179.59L676.64 1180.25L677.01 1180.9L677.38 1181.55L677.76 1182.21L678.13 1182.87L678.5 1183.52L678.87 1184.18L679.23 1184.84L679.6 1185.49L679.97 1186.15L680.33 1186.81L680.69 1187.47L681.06 1188.13L681.42 1188.79L681.78 1189.45L682.14 1190.11L682.5 1190.77L682.86 1191.43L683.02 1191.72M688.61 1202.27h0.01M694.14 1213.18h0.01M699.28 1223.74L699.38 1223.95L699.7 1224.63L700.02 1225.3L700.34 1225.98L700.66 1226.65L700.98 1227.33L701.29 1228.01L701.61 1228.68L701.93 1229.36L702.24 1230.04L702.56 1230.72L702.87 1231.39L703.19 1232.07L703.5 1232.75L703.81 1233.43L704.13 1234.11L704.44 1234.79L704.75 1235.47L705.06 1236.14L705.37 1236.82L705.68 1237.5L705.98 1238.18L706.29 1238.87L706.6 1239.55L706.91 1240.23L707.21 1240.91L707.52 1241.59L707.82 1242.27L708.13 1242.95L708.43 1243.64L708.73 1244.32L709.04 1245L709.34 1245.68L709.64 1246.37L709.94 1247.05L710.24 1247.73L710.54 1248.42L710.84 1249.1L711.13 1249.78M715.74 1260.53h0.01M720.23 1271.33h0.01M724.51 1281.95L724.6 1282.17L724.88 1282.86L725.15 1283.55L725.43 1284.25L725.7 1284.94L725.97 1285.64L726.25 1286.33L726.52 1287.02L726.79 1287.72L727.07 1288.41L727.34 1289.11L727.61 1289.8L727.88 1290.5L728.15 1291.19L728.43 1291.89L728.7 1292.58L728.97 1293.28L729.24 1293.98L729.51 1294.67L729.78 1295.37L730.04 1296.06L730.31 1296.76L730.58 1297.46L730.85 1298.15L731.12 1298.85L731.38 1299.55L731.65 1300.24L731.92 1300.94L732.18 1301.64L732.45 1302.34L732.72 1303.03L732.98 1303.73L733.25 1304.43L733.51 1305.13L733.78 1305.83L734.04 1306.53L734.3 1307.22L734.44 1307.59M738.32 1317.95h0.01M742.46 1329.17h0.01M746.32 1339.77L746.38 1339.94L746.63 1340.64L746.89 1341.34L747.14 1342.05L747.4 1342.75L747.65 1343.45L747.9 1344.16L748.16 1344.86L748.41 1345.56L748.67 1346.27L748.92 1346.97L749.17 1347.68L749.43 1348.38L749.68 1349.08L749.93 1349.79L750.19 1350.49L750.44 1351.2L750.69 1351.9L750.95 1352.6L751.2 1353.31L751.45 1354.01L751.71 1354.72L751.96 1355.42L752.21 1356.13L752.47 1356.83L752.72 1357.53L752.97 1358.24L753.22 1358.94L753.48 1359.65L753.73 1360.35L753.98 1361.06L754.24 1361.76L754.49 1362.47L754.74 1363.17L754.99 1363.88L755.25 1364.58L755.5 1365.29L755.56 1365.45M759.29 1375.86h0.01M763.43 1387.38h0.01M767.26 1397.96L767.26 1397.96L767.52 1398.67L767.77 1399.37L768.03 1400.08L768.29 1400.78L768.55 1401.49L768.8 1402.19L769.06 1402.9L769.32 1403.6L769.58 1404.31L769.83 1405.01L770.09 1405.72L770.35 1406.42L770.61 1407.13L770.87 1407.83L771.13 1408.54L771.38 1409.24L771.64 1409.95L771.9 1410.65L772.16 1411.36L772.42 1412.06L772.68 1412.77L772.94 1413.47L773.2 1414.17L773.47 1414.88L773.73 1415.58L773.99 1416.29L774.25 1416.99L774.51 1417.7L774.77 1418.4L775.04 1419.1L775.3 1419.81L775.56 1420.51L775.82 1421.22L776.09 1421.92L776.35 1422.62L776.62 1423.33L776.74 1423.65M780.7 1434.11h0.01M785.04 1445.34h0.01M789.22 1455.87L789.3 1456.08L789.58 1456.78L789.86 1457.48L790.14 1458.17L790.42 1458.87L790.71 1459.57L790.99 1460.27L791.27 1460.97L791.56 1461.67L791.84 1462.37L792.13 1463.07L792.41 1463.76L792.7 1464.46L792.98 1465.16L793.27 1465.86L793.56 1466.56L793.85 1467.25L794.13 1467.95L794.42 1468.65L794.71 1469.35L795 1470.04L795.29 1470.74L795.58 1471.44L795.87 1472.13L796.17 1472.83L796.46 1473.53L796.75 1474.22L797.04 1474.92L797.34 1475.61L797.63 1476.31L797.93 1477L798.22 1477.7L798.52 1478.4L798.81 1479.09L799.11 1479.79L799.41 1480.48L799.71 1481.18L799.92 1481.68M804.55 1492.27h0.01M809.72 1503.49h0.01M815.16 1513.84L815.18 1513.88L815.55 1514.52L815.93 1515.16L816.31 1515.8L816.69 1516.43L817.08 1517.06L817.47 1517.69L817.87 1518.31L818.27 1518.93L818.67 1519.55L819.08 1520.16L819.49 1520.77L819.91 1521.37L820.33 1521.97L820.76 1522.57L821.19 1523.17L821.62 1523.75L822.07 1524.34L822.51 1524.92L822.96 1525.5L823.42 1526.07L823.88 1526.64L824.35 1527.2L824.82 1527.76L825.29 1528.31L825.78 1528.86L826.27 1529.4L826.76 1529.94L827.26 1530.47L827.77 1531L828.28 1531.52L828.8 1532.03L829.32 1532.55L829.85 1533.05L830.39 1533.55L830.94 1534.04L831.49 1534.53L832.04 1535.01L832.61 1535.49L833.18 1535.96L833.76 1536.42L834.34 1536.88L834.93 1537.33L835.53 1537.78L836.14 1538.21L836.76 1538.64L836.84 1538.7M848.75 1544.82h0.01M860.95 1546.29h0.01M873.37 1540.63L873.41 1540.6L873.98 1540.14L874.56 1539.67L875.12 1539.19L875.69 1538.69L876.25 1538.18L876.8 1537.66L877.35 1537.12L877.9 1536.58L878.44 1536.02L878.97 1535.46L879.51 1534.88L880.03 1534.29L880.56 1533.7L881.08 1533.09L881.59 1532.48L882.1 1531.86L882.61 1531.23L883.11 1530.6L883.61 1529.95L884.11 1529.3L884.59 1528.65L885.08 1527.99L885.56 1527.32L886.04 1526.65L886.51 1525.97L886.98 1525.29L887.44 1524.61L887.9 1523.92L888.36 1523.23L888.81 1522.54L889.25 1521.84L889.69 1521.15L890.13 1520.45L890.57 1519.75L891 1519.05L891.42 1518.35L891.84 1517.65L892.26 1516.95L892.67 1516.25L893.08 1515.56L893.49 1514.86L893.75 1514.41M899.57 1503.73h0.01M905.07 1492.43h0.01M909.97 1481.64L910.01 1481.54L910.32 1480.86L910.62 1480.18L910.92 1479.49L911.23 1478.81L911.53 1478.13L911.83 1477.45L912.14 1476.77L912.44 1476.09L912.74 1475.4L913.04 1474.72L913.34 1474.04L913.65 1473.36L913.95 1472.67L914.25 1471.99L914.55 1471.31L914.85 1470.63L915.15 1469.94L915.45 1469.26L915.75 1468.58L916.05 1467.9L916.35 1467.21L916.65 1466.53L916.95 1465.85L917.25 1465.16L917.55 1464.48L917.85 1463.8L918.15 1463.11L918.44 1462.43L918.74 1461.75L919.04 1461.06L919.34 1460.38L919.64 1459.69L919.93 1459.01L920.23 1458.33L920.53 1457.64L920.83 1456.96L921.12 1456.28L921.3 1455.86M925.76 1445.55h0.01M930.66 1434.13h0.01M935.11 1423.66L935.14 1423.6L935.43 1422.92L935.72 1422.23L936.01 1421.54L936.31 1420.86L936.6 1420.17L936.89 1419.48L937.18 1418.8L937.47 1418.11L937.76 1417.42L938.05 1416.74L938.34 1416.05L938.64 1415.36L938.93 1414.68L939.22 1413.99L939.51 1413.3L939.8 1412.61L940.09 1411.93L940.38 1411.24L940.67 1410.55L940.96 1409.87L941.25 1409.18L941.54 1408.49L941.83 1407.8L942.13 1407.12L942.42 1406.43L942.71 1405.74L943 1405.05L943.29 1404.37L943.58 1403.68L943.87 1402.99L944.16 1402.3L944.45 1401.62L944.74 1400.93L945.03 1400.24L945.32 1399.55L945.61 1398.87L945.9 1398.18L945.94 1398.09M950.36 1387.63h0.01M955.11 1376.39h0.01M959.51 1366.01L959.59 1365.83L959.88 1365.14L960.17 1364.45L960.47 1363.77L960.76 1363.08L961.05 1362.39L961.35 1361.7L961.64 1361.01L961.93 1360.32L962.23 1359.64L962.52 1358.95L962.81 1358.26L963.11 1357.57L963.4 1356.88L963.69 1356.19L963.99 1355.5L964.28 1354.82L964.58 1354.13L964.87 1353.44L965.16 1352.75L965.46 1352.06L965.75 1351.37L966.05 1350.69L966.34 1350L966.64 1349.31L966.93 1348.62L967.23 1347.93L967.53 1347.24L967.82 1346.55L968.12 1345.87L968.41 1345.18L968.71 1344.49L969 1343.8L969.3 1343.11L969.6 1342.42L969.89 1341.74L970.19 1341.05L970.49 1340.36L970.53 1340.27M975.16 1329.58h0.01M979.88 1318.8h0.01M984.6 1308.15L984.65 1308.03L984.96 1307.35L985.26 1306.66L985.57 1305.97L985.88 1305.29L986.19 1304.6L986.49 1303.91L986.8 1303.23L987.11 1302.54L987.42 1301.85L987.73 1301.17L988.04 1300.48L988.35 1299.8L988.66 1299.11L988.97 1298.43L989.28 1297.74L989.59 1297.05L989.9 1296.37L990.21 1295.68L990.52 1295L990.84 1294.31L991.15 1293.63L991.46 1292.95L991.78 1292.26L992.09 1291.58L992.4 1290.89L992.72 1290.21L993.03 1289.52L993.35 1288.84L993.66 1288.16L993.98 1287.47L994.29 1286.79L994.61 1286.11L994.93 1285.43L995.25 1284.74L995.56 1284.06L995.88 1283.38L996.2 1282.7L996.44 1282.19M1001.46 1271.58h0.01M1006.84 1260.54h0.01M1012.08 1250.09L1012.12 1250.01L1012.46 1249.34L1012.8 1248.67L1013.15 1248.01L1013.49 1247.34L1013.83 1246.67L1014.18 1246L1014.52 1245.34L1014.87 1244.67L1015.22 1244L1015.56 1243.34L1015.91 1242.67L1016.26 1242.01L1016.61 1241.34L1016.96 1240.68L1017.31 1240.01L1017.66 1239.35L1018.01 1238.69L1018.36 1238.02L1018.71 1237.36L1019.07 1236.7L1019.42 1236.04L1019.77 1235.38L1020.13 1234.72L1020.48 1234.05L1020.84 1233.39L1021.2 1232.73L1021.55 1232.08L1021.91 1231.42L1022.27 1230.76L1022.63 1230.1L1022.99 1229.44L1023.35 1228.79L1023.71 1228.13L1024.07 1227.47L1024.44 1226.82L1024.8 1226.16L1025.17 1225.51L1025.53 1224.85L1025.9 1224.2L1025.92 1224.15M1032.09 1213.37h0.01M1038.75 1202.26h0.01M1045.45 1191.63L1045.52 1191.52L1045.93 1190.89L1046.33 1190.27L1046.74 1189.64L1047.15 1189.02L1047.56 1188.4L1047.97 1187.77L1048.38 1187.15L1048.79 1186.53L1049.2 1185.91L1049.62 1185.29L1050.03 1184.67L1050.45 1184.05L1050.86 1183.43L1051.28 1182.81L1051.7 1182.19L1052.12 1181.58L1052.54 1180.96L1052.96 1180.35L1053.38 1179.73L1053.8 1179.12L1054.23 1178.5L1054.65 1177.89L1055.08 1177.28L1055.5 1176.67L1055.93 1176.06L1056.36 1175.45L1056.79 1174.84L1057.22 1174.23L1057.65 1173.62L1058.08 1173.02L1058.52 1172.41L1058.95 1171.8L1059.39 1171.2L1059.82 1170.6L1060.26 1169.99L1060.7 1169.39L1061.14 1168.79L1061.58 1168.19L1062.02 1167.59L1062.46 1166.99L1062.9 1166.39L1063.08 1166.15M1070.89 1155.92h0.01M1079.65 1145.11h0.01M1088.72 1134.55L1088.73 1134.54L1089.22 1133.98L1089.72 1133.42L1090.21 1132.87L1090.71 1132.31L1091.21 1131.75L1091.71 1131.19L1092.2 1130.64L1092.7 1130.08L1093.21 1129.53L1093.71 1128.98L1094.21 1128.42L1094.71 1127.87L1095.22 1127.32L1095.72 1126.77L1096.23 1126.22L1096.73 1125.67L1097.24 1125.12L1097.75 1124.57L1098.26 1124.02L1098.77 1123.47L1099.28 1122.93L1099.79 1122.38L1100.3 1121.84L1100.81 1121.29L1101.33 1120.75L1101.84 1120.21L1102.36 1119.66L1102.87 1119.12L1103.39 1118.58L1103.91 1118.04L1104.42 1117.5L1104.94 1116.96L1105.46 1116.42L1105.98 1115.88L1106.5 1115.34L1107.02 1114.81L1107.55 1114.27L1108.07 1113.73L1108.59 1113.2L1109.12 1112.67L1109.64 1112.13L1110.17 1111.6L1110.69 1111.07L1111.22 1110.53L1111.75 1110L1112.28 1109.47L1112.81 1108.94L1113.13 1108.61M1124.08 1097.94h0.01M1136.18 1086.7h0.01M1148.1 1076.11L1148.17 1076.05L1148.73 1075.56L1149.3 1075.07L1149.87 1074.57L1150.44 1074.08L1151.01 1073.59L1151.58 1073.1L1152.15 1072.61L1152.72 1072.12L1153.29 1071.63L1153.87 1071.14L1154.44 1070.66L1155.01 1070.17L1155.58 1069.68L1156.16 1069.2L1156.73 1068.71L1157.31 1068.22L1157.88 1067.74L1158.46 1067.26L1159.03 1066.77L1159.61 1066.29L1160.19 1065.81L1160.76 1065.32L1161.34 1064.84L1161.92 1064.36L1162.5 1063.88L1163.08 1063.4L1163.66 1062.92L1164.24 1062.44L1164.82 1061.96L1165.4 1061.48L1165.98 1061L1166.56 1060.53L1167.14 1060.05L1167.72 1059.57L1168.31 1059.1L1168.89 1058.62L1169.47 1058.15L1170.06 1057.67L1170.64 1057.2L1171.22 1056.72L1171.81 1056.25L1172.39 1055.78L1172.98 1055.31L1173.56 1054.84L1174.15 1054.36L1174.74 1053.89L1175.32 1053.42L1175.91 1052.95L1176.5 1052.48L1177.09 1052.02L1177.54 1051.66M1189.5 1042.27h0.01M1201.86 1032.86h0.01M1213.99 1023.86L1214.07 1023.8L1214.67 1023.36L1215.27 1022.91L1215.88 1022.47L1216.48 1022.03L1217.08 1021.59L1217.69 1021.15L1218.29 1020.71L1218.89 1020.27L1219.5 1019.83L1220.1 1019.39L1220.71 1018.96L1221.31 1018.52L1221.91 1018.08L1222.52 1017.64L1223.12 1017.21L1223.73 1016.77L1224.33 1016.33L1224.94 1015.9L1225.54 1015.46L1226.15 1015.03L1226.75 1014.59L1227.36 1014.16L1227.96 1013.72L1228.57 1013.29L1229.18 1012.86L1229.78 1012.42L1230.39 1011.99L1230.99 1011.56L1231.6 1011.13L1232.2 1010.69L1232.81 1010.26L1233.41 1009.83L1234.02 1009.4L1234.63 1008.97L1235.23 1008.54L1235.84 1008.11L1236.44 1007.68L1237.05 1007.25L1237.66 1006.82L1238.26 1006.4L1238.87 1005.97L1239.48 1005.54L1240.08 1005.11L1240.69 1004.69L1241.29 1004.26L1241.9 1003.83L1242.51 1003.41L1243.11 1002.98L1243.62 1002.63" stroke="#600060" stroke-width="4.9" fill="none" stroke-linecap="round" stroke-linejoin="round"/>
<path d="M350.49 1020.37L350.64 1020.39L351.41 1020.51L352.19 1020.63L352.97 1020.75L353.75 1020.87L354.53 1020.98L355.31 1021.09L356.1 1021.2L356.88 1021.31L357.66 1021.42L358.44 1021.52L359.23 1021.62L360.01 1021.72L360.8 1021.82L361.58 1021.92L362.37 1022.01L363.16 1022.11L363.95 1022.2L364.73 1022.29L365.52 1022.38L366.31 1022.47L367.1 1022.56L367.89 1022.64L368.68 1022.73L369.47 1022.81L370.26 1022.89L371.05 1022.97L371.84 1023.05L372.64 1023.12L373.43 1023.2L374.22 1023.28L375.02 1023.35L375.81 1023.42L376.6 1023.5L377.4 1023.57L378.19 1023.64L378.99 1023.71L379.78 1023.78L380.58 1023.84L381.37 1023.91L382.17 1023.98L382.96 1024.04L383.76 1024.11L384.56 1024.17L385.35 1024.24L386.15 1024.3L386.95 1024.36L387.75 1024.43L388.54 1024.49L389.34 1024.55L390.14 1024.61L390.94 1024.67L391.74 1024.73L392.53 1024.79L393.33 1024.86L393.7 1024.88M413.78 1026.45L413.83 1026.46L414.63 1026.53L415.43 1026.6L416.22 1026.67L417.02 1026.74L417.82 1026.81L418.61 1026.89L419.41 1026.96L420.2 1027.04L421 1027.11L421.8 1027.19L422.59 1027.27L423.39 1027.35L424.18 1027.43L424.97 1027.51L425.77 1027.6L426.56 1027.68L427.36 1027.77L428.15 1027.86L428.94 1027.95L429.73 1028.04L430.52 1028.13L431.32 1028.23L432.11 1028.33L432.9 1028.42L433.69 1028.52L434.48 1028.62L435.27 1028.73L436.06 1028.83L436.84 1028.94L437.63 1029.05L438.42 1029.16L439.21 1029.27L439.99 1029.39L440.78 1029.5L441.56 1029.62L442.35 1029.74L443.13 1029.86L443.92 1029.99L444.7 1030.12L445.48 1030.25L446.26 1030.38L447.05 1030.51L447.83 1030.65L448.61 1030.79L449.39 1030.93L450.17 1031.07L450.94 1031.22L451.72 1031.37L452.5 1031.52L453.27 1031.68L454.05 1031.83L454.82 1031.99L455.6 1032.15L456.37 1032.32L456.9 1032.44M476.74 1037.9L476.93 1037.97L477.68 1038.23L478.43 1038.49L479.18 1038.76L479.92 1039.02L480.67 1039.3L481.41 1039.57L482.16 1039.85L482.9 1040.13L483.64 1040.41L484.38 1040.7L485.12 1040.98L485.86 1041.28L486.6 1041.57L487.34 1041.86L488.08 1042.16L488.82 1042.46L489.55 1042.76L490.29 1043.07L491.03 1043.37L491.76 1043.68L492.5 1043.99L493.23 1044.3L493.97 1044.61L494.7 1044.92L495.43 1045.23L496.17 1045.55L496.9 1045.86L497.63 1046.18L498.37 1046.5L499.1 1046.82L499.83 1047.13L500.56 1047.45L501.3 1047.77L502.03 1048.09L502.76 1048.41L503.49 1048.73L504.23 1049.05L504.96 1049.37L505.69 1049.69L506.42 1050.01L507.16 1050.33L507.89 1050.64L508.62 1050.96L509.36 1051.28L510.09 1051.59L510.82 1051.91L511.56 1052.22L512.29 1052.53L513.03 1052.84L513.76 1053.15L514.5 1053.46L515.23 1053.77L515.97 1054.07L516.71 1054.37L517.45 1054.68L518.18 1054.97L518.92 1055.27L519.66 1055.57L519.72 1055.59M539.66 1063.18L539.7 1063.19L540.43 1063.49L541.17 1063.79L541.9 1064.09L542.64 1064.39L543.37 1064.7L544.1 1065.01L544.83 1065.32L545.56 1065.64L546.29 1065.96L547.02 1066.28L547.75 1066.6L548.47 1066.93L549.2 1067.26L549.92 1067.59L550.64 1067.92L551.36 1068.26L552.08 1068.59L552.8 1068.94L553.52 1069.28L554.24 1069.62L554.96 1069.97L555.67 1070.32L556.39 1070.68L557.1 1071.03L557.81 1071.39L558.52 1071.75L559.23 1072.12L559.94 1072.48L560.65 1072.85L561.35 1073.22L562.06 1073.6L562.76 1073.97L563.46 1074.35L564.16 1074.73L564.86 1075.11L565.56 1075.5L566.26 1075.89L566.95 1076.28L567.65 1076.67L568.34 1077.07L569.03 1077.46L569.73 1077.86L570.41 1078.27L571.1 1078.67L571.79 1079.08L572.47 1079.49L573.16 1079.9L573.84 1080.31L574.52 1080.73L575.2 1081.15L575.88 1081.57L576.56 1081.99L577.23 1082.42L577.91 1082.84L578.58 1083.28L579.25 1083.71L579.92 1084.14L580.59 1084.58L581.26 1085.02L581.92 1085.46L582.59 1085.9L582.76 1086.02M602.71 1101.04L602.77 1101.09L603.38 1101.61L603.99 1102.12L604.59 1102.64L605.2 1103.16L605.8 1103.68L606.4 1104.21L607 1104.73L607.59 1105.26L608.19 1105.79L608.78 1106.32L609.37 1106.86L609.96 1107.4L610.54 1107.93L611.13 1108.47L611.71 1109.02L612.29 1109.56L612.87 1110.11L613.45 1110.65L614.02 1111.2L614.59 1111.76L615.16 1112.31L615.73 1112.87L616.3 1113.42L616.86 1113.98L617.42 1114.54L617.98 1115.11L618.54 1115.67L619.1 1116.24L619.65 1116.81L620.2 1117.38L620.75 1117.95L621.3 1118.53L621.84 1119.1L622.39 1119.68L622.93 1120.26L623.47 1120.84L624 1121.43L624.54 1122.01L625.07 1122.6L625.6 1123.19L626.13 1123.78L626.66 1124.37L627.18 1124.96L627.7 1125.56L628.23 1126.16L628.74 1126.75L629.26 1127.36L629.78 1127.96L630.29 1128.56L630.8 1129.17L631.31 1129.77L631.82 1130.38L632.32 1130.99L632.82 1131.61L633.33 1132.22L633.82 1132.83L634.32 1133.45L634.82 1134.07L635.31 1134.69L635.8 1135.31L636.3 1135.93L636.78 1136.56L637.27 1137.18L637.76 1137.81L638.24 1138.44L638.56 1138.85M651.03 1156.47L651.09 1156.57L651.53 1157.23L651.96 1157.9L652.4 1158.56L652.83 1159.23L653.26 1159.9L653.69 1160.57L654.11 1161.24L654.54 1161.91L654.97 1162.59L655.39 1163.26L655.81 1163.94L656.23 1164.61L656.65 1165.29L657.07 1165.97L657.49 1166.65L657.9 1167.33L658.31 1168.01L658.73 1168.69L659.14 1169.37L659.55 1170.05L659.96 1170.74L660.37 1171.42L660.77 1172.11L661.18 1172.79L661.58 1173.48L661.98 1174.17L662.39 1174.86L662.79 1175.55L663.19 1176.24L663.58 1176.93L663.98 1177.62L664.38 1178.31L664.77 1179.01L665.16 1179.7L665.56 1180.4L665.95 1181.09L666.34 1181.79L666.73 1182.48L667.11 1183.18L667.5 1183.88L667.89 1184.58L668.27 1185.28L668.65 1185.98L669.04 1186.68L669.42 1187.38L669.8 1188.08L670.18 1188.78L670.56 1189.48L670.94 1190.18L671.31 1190.89L671.69 1191.59L672.06 1192.29L672.44 1193L672.81 1193.7L673.09 1194.23M681.9 1211.57L681.96 1211.7L682.31 1212.41L682.66 1213.13L683.01 1213.85L683.36 1214.56L683.7 1215.28L684.05 1216L684.39 1216.71L684.74 1217.43L685.08 1218.15L685.43 1218.87L685.77 1219.59L686.11 1220.31L686.45 1221.03L686.79 1221.75L687.13 1222.47L687.47 1223.19L687.8 1223.91L688.14 1224.63L688.48 1225.35L688.81 1226.07L689.15 1226.8L689.48 1227.52L689.81 1228.24L690.14 1228.96L690.48 1229.69L690.81 1230.41L691.14 1231.14L691.46 1231.86L691.79 1232.59L692.12 1233.31L692.45 1234.04L692.77 1234.76L693.1 1235.49L693.42 1236.22L693.75 1236.94L694.07 1237.67L694.39 1238.4L694.72 1239.12L695.04 1239.85L695.36 1240.58L695.68 1241.31L696 1242.04L696.32 1242.77L696.63 1243.5L696.95 1244.23L697.27 1244.96L697.58 1245.69L697.9 1246.42L698.21 1247.15L698.53 1247.88L698.84 1248.61L699.07 1249.15M706.3 1266.6L706.36 1266.74L706.66 1267.48L706.95 1268.22L707.25 1268.96L707.55 1269.7L707.84 1270.44L708.14 1271.18L708.43 1271.92L708.72 1272.66L709.01 1273.4L709.31 1274.14L709.6 1274.88L709.89 1275.62L710.18 1276.36L710.47 1277.1L710.76 1277.84L711.05 1278.58L711.34 1279.32L711.62 1280.07L711.91 1280.81L712.2 1281.55L712.48 1282.29L712.77 1283.04L713.06 1283.78L713.34 1284.52L713.62 1285.27L713.91 1286.01L714.19 1286.75L714.47 1287.5L714.76 1288.24L715.04 1288.99L715.32 1289.73L715.6 1290.48L715.88 1291.22L716.16 1291.97L716.44 1292.71L716.72 1293.46L717 1294.2L717.28 1294.95L717.55 1295.7L717.83 1296.44L718.11 1297.19L718.38 1297.94L718.66 1298.68L718.94 1299.43L719.21 1300.18L719.48 1300.92L719.76 1301.67L720.03 1302.42L720.31 1303.17L720.58 1303.91L720.71 1304.27M726.93 1321.68L727.01 1321.91L727.27 1322.66L727.53 1323.41L727.8 1324.16L728.06 1324.91L728.32 1325.66L728.58 1326.42L728.84 1327.17L729.1 1327.92L729.36 1328.67L729.63 1329.43L729.89 1330.18L730.14 1330.93L730.4 1331.68L730.66 1332.43L730.92 1333.19L731.18 1333.94L731.44 1334.69L731.7 1335.45L731.96 1336.2L732.21 1336.95L732.47 1337.71L732.73 1338.46L732.98 1339.21L733.24 1339.97L733.5 1340.72L733.75 1341.47L734.01 1342.23L734.26 1342.98L734.52 1343.73L734.77 1344.49L735.03 1345.24L735.28 1346L735.54 1346.75L735.79 1347.5L736.04 1348.26L736.3 1349.01L736.55 1349.77L736.8 1350.52L737.06 1351.28L737.31 1352.03L737.56 1352.78L737.81 1353.54L738.06 1354.29L738.32 1355.05L738.57 1355.8L738.82 1356.56L739.07 1357.31L739.32 1358.07L739.57 1358.82L739.71 1359.23M745.42 1376.57L745.46 1376.69L745.71 1377.44L745.95 1378.2L746.2 1378.95L746.45 1379.71L746.7 1380.46L746.94 1381.22L747.19 1381.97L747.44 1382.73L747.68 1383.48L747.93 1384.24L748.17 1384.99L748.42 1385.75L748.67 1386.5L748.91 1387.26L749.16 1388.01L749.4 1388.77L749.65 1389.52L749.9 1390.28L750.14 1391.03L750.39 1391.79L750.63 1392.54L750.88 1393.3L751.12 1394.05L751.37 1394.81L751.61 1395.56L751.86 1396.32L752.1 1397.07L752.35 1397.83L752.6 1398.58L752.84 1399.34L753.09 1400.09L753.33 1400.85L753.58 1401.6L753.82 1402.36L754.07 1403.11L754.31 1403.87L754.56 1404.62L754.8 1405.38L755.04 1406.13L755.29 1406.89L755.53 1407.64L755.78 1408.4L756.02 1409.15L756.27 1409.9L756.51 1410.66L756.76 1411.41L757 1412.17L757.25 1412.92L757.49 1413.68L757.6 1414.01M763.22 1431.32L763.29 1431.54L763.54 1432.29L763.78 1433.05L764.03 1433.8L764.27 1434.56L764.52 1435.31L764.76 1436.07L765.01 1436.82L765.26 1437.58L765.5 1438.33L765.75 1439.09L765.99 1439.84L766.24 1440.59L766.49 1441.35L766.73 1442.1L766.98 1442.86L767.23 1443.61L767.47 1444.37L767.72 1445.12L767.97 1445.88L768.21 1446.63L768.46 1447.39L768.71 1448.14L768.96 1448.89L769.2 1449.65L769.45 1450.4L769.7 1451.16L769.95 1451.91L770.19 1452.67L770.44 1453.42L770.69 1454.18L770.94 1454.93L771.19 1455.69L771.44 1456.44L771.68 1457.19L771.93 1457.95L772.18 1458.7L772.43 1459.46L772.68 1460.21L772.93 1460.97L773.18 1461.72L773.43 1462.48L773.68 1463.23L773.93 1463.98L774.18 1464.74L774.43 1465.49L774.68 1466.25L774.93 1467L775.18 1467.76L775.43 1468.51L775.57 1468.94M781.45 1486.44L781.51 1486.62L781.76 1487.37L782.02 1488.13L782.28 1488.88L782.53 1489.64L782.79 1490.39L783.05 1491.15L783.3 1491.9L783.56 1492.66L783.82 1493.41L784.08 1494.16L784.33 1494.92L784.59 1495.67L784.85 1496.43L785.11 1497.18L785.37 1497.94L785.63 1498.69L785.89 1499.45L786.15 1500.2L786.41 1500.95L786.67 1501.71L786.93 1502.46L787.19 1503.22L787.45 1503.97L787.71 1504.73L787.97 1505.48L788.24 1506.24L788.5 1506.99L788.76 1507.74L789.02 1508.5L789.29 1509.25L789.55 1510.01L789.81 1510.76L790.08 1511.52L790.34 1512.27L790.61 1513.03L790.87 1513.78L791.14 1514.54L791.4 1515.29L791.67 1516.04L791.94 1516.8L792.2 1517.55L792.47 1518.31L792.74 1519.06L793 1519.82L793.27 1520.57L793.54 1521.33L793.81 1522.08L794.08 1522.83L794.35 1523.59L794.56 1524.19M800.88 1541.63L800.91 1541.7L801.19 1542.45L801.47 1543.21L801.74 1543.96L802.02 1544.72L802.31 1545.47L802.59 1546.22L802.87 1546.98L803.15 1547.73L803.44 1548.48L803.72 1549.24L804.01 1549.99L804.3 1550.74L804.59 1551.49L804.88 1552.24L805.17 1552.99L805.47 1553.74L805.77 1554.48L806.06 1555.23L806.37 1555.97L806.67 1556.72L806.97 1557.46L807.28 1558.21L807.59 1558.95L807.9 1559.69L808.22 1560.43L808.53 1561.16L808.85 1561.9L809.17 1562.64L809.5 1563.37L809.83 1564.1L810.16 1564.83L810.49 1565.56L810.83 1566.29L811.17 1567.02L811.51 1567.74L811.86 1568.46L812.21 1569.19L812.56 1569.9L812.92 1570.62L813.28 1571.34L813.65 1572.05L814.02 1572.76L814.39 1573.47L814.77 1574.18L815.15 1574.88L815.54 1575.58L815.93 1576.28L816.32 1576.98L816.72 1577.68L817.13 1578.37L817.49 1578.99M830.21 1596.14L830.26 1596.19L830.83 1596.8L831.41 1597.4L831.99 1597.99L832.58 1598.58L833.18 1599.16L833.78 1599.74L834.39 1600.31L835 1600.87L835.62 1601.41L836.25 1601.95L836.88 1602.48L837.52 1603L838.16 1603.5L838.81 1603.99L839.46 1604.47L840.11 1604.93L840.77 1605.37L841.44 1605.8L842.1 1606.22L842.77 1606.61L843.45 1606.99L844.13 1607.34L844.81 1607.68L845.5 1607.99L846.18 1608.28L846.87 1608.56L847.57 1608.8L848.26 1609.03L848.96 1609.22L849.66 1609.4L850.36 1609.54L851.07 1609.66L851.77 1609.75L852.48 1609.82L853.19 1609.85L853.89 1609.85L854.6 1609.83L855.31 1609.78L856.02 1609.7L856.73 1609.59L857.44 1609.47L858.15 1609.31L858.86 1609.13L859.56 1608.93L860.27 1608.71L860.97 1608.47L861.67 1608.21L862.37 1607.93L863.06 1607.63L863.75 1607.31L864.44 1606.98L865.13 1606.63L865.81 1606.26L866.49 1605.88L867.16 1605.49L867.83 1605.08L868.49 1604.67L869.15 1604.24L869.8 1603.8L870.45 1603.36L871.09 1602.9L871.6 1602.53M887.83 1586.02L887.9 1585.93L888.36 1585.3L888.81 1584.67L889.25 1584.03L889.69 1583.39L890.13 1582.74L890.56 1582.1L890.99 1581.44L891.41 1580.79L891.83 1580.12L892.25 1579.46L892.66 1578.79L893.06 1578.12L893.47 1577.44L893.87 1576.77L894.26 1576.08L894.65 1575.4L895.04 1574.71L895.42 1574.01L895.8 1573.32L896.18 1572.62L896.55 1571.92L896.92 1571.21L897.28 1570.51L897.65 1569.79L898.01 1569.08L898.36 1568.36L898.72 1567.65L899.06 1566.92L899.41 1566.2L899.76 1565.47L900.1 1564.74L900.43 1564.01L900.77 1563.28L901.1 1562.54L901.43 1561.8L901.76 1561.06L902.09 1560.32L902.41 1559.58L902.73 1558.83L903.05 1558.08L903.36 1557.33L903.68 1556.58L903.99 1555.83L904.3 1555.07L904.61 1554.32L904.91 1553.56L905.22 1552.8L905.52 1552.04L905.82 1551.28L906.12 1550.52L906.41 1549.75L906.71 1548.99L906.78 1548.82M913.25 1531.23L913.34 1530.99L913.62 1530.22L913.89 1529.45L914.17 1528.68L914.45 1527.91L914.73 1527.14L915.01 1526.38L915.29 1525.61L915.57 1524.84L915.85 1524.07L916.12 1523.31L916.4 1522.54L916.68 1521.77L916.96 1521.01L917.24 1520.24L917.52 1519.48L917.8 1518.71L918.07 1517.95L918.35 1517.18L918.63 1516.42L918.91 1515.66L919.19 1514.89L919.47 1514.13L919.74 1513.37L920.02 1512.61L920.3 1511.85L920.58 1511.09L920.86 1510.33L921.14 1509.57L921.41 1508.81L921.69 1508.05L921.97 1507.29L922.25 1506.53L922.53 1505.77L922.81 1505.01L923.08 1504.26L923.36 1503.5L923.64 1502.74L923.92 1501.99L924.2 1501.23L924.48 1500.47L924.75 1499.72L925.03 1498.96L925.31 1498.21L925.59 1497.45L925.87 1496.7L926.15 1495.94L926.42 1495.19L926.7 1494.44L926.98 1493.69L927.07 1493.45M933.53 1476.08L933.57 1475.95L933.85 1475.2L934.13 1474.46L934.41 1473.71L934.69 1472.97L934.97 1472.22L935.25 1471.48L935.53 1470.73L935.81 1469.99L936.09 1469.24L936.36 1468.5L936.64 1467.75L936.92 1467.01L937.2 1466.27L937.48 1465.52L937.76 1464.78L938.04 1464.04L938.32 1463.3L938.6 1462.55L938.88 1461.81L939.16 1461.07L939.44 1460.33L939.72 1459.59L940 1458.85L940.28 1458.1L940.56 1457.36L940.84 1456.62L941.12 1455.88L941.4 1455.14L941.68 1454.4L941.96 1453.66L942.24 1452.92L942.52 1452.18L942.8 1451.44L943.08 1450.7L943.36 1449.96L943.64 1449.22L943.92 1448.49L944.2 1447.75L944.48 1447.01L944.76 1446.27L945.04 1445.53L945.32 1444.79L945.6 1444.06L945.88 1443.32L946.16 1442.58L946.44 1441.84L946.73 1441.11L947.01 1440.37L947.29 1439.63L947.57 1438.89L947.67 1438.62M954.31 1421.32L954.34 1421.24L954.62 1420.5L954.91 1419.77L955.19 1419.03L955.47 1418.3L955.76 1417.56L956.04 1416.83L956.32 1416.09L956.61 1415.36L956.89 1414.63L957.17 1413.89L957.46 1413.16L957.74 1412.42L958.03 1411.69L958.31 1410.95L958.6 1410.22L958.88 1409.49L959.16 1408.75L959.45 1408.02L959.73 1407.28L960.02 1406.55L960.3 1405.82L960.59 1405.08L960.87 1404.35L961.16 1403.61L961.44 1402.88L961.73 1402.15L962.02 1401.41L962.3 1400.68L962.59 1399.94L962.87 1399.21L963.16 1398.48L963.45 1397.74L963.73 1397.01L964.02 1396.27L964.3 1395.54L964.59 1394.8L964.88 1394.07L965.16 1393.34L965.45 1392.6L965.74 1391.87L966.03 1391.13L966.31 1390.4L966.6 1389.66L966.89 1388.93L967.17 1388.2L967.46 1387.46L967.75 1386.73L968.04 1385.99L968.33 1385.26L968.61 1384.52L968.9 1383.79L968.92 1383.76M975.8 1366.28L975.86 1366.13L976.15 1365.39L976.45 1364.65L976.74 1363.91L977.03 1363.18L977.32 1362.44L977.61 1361.7L977.91 1360.96L978.2 1360.22L978.49 1359.49L978.79 1358.75L979.08 1358.01L979.37 1357.27L979.67 1356.53L979.96 1355.79L980.25 1355.06L980.55 1354.32L980.84 1353.58L981.14 1352.84L981.43 1352.1L981.73 1351.36L982.02 1350.62L982.32 1349.88L982.61 1349.14L982.91 1348.41L983.21 1347.67L983.5 1346.93L983.8 1346.19L984.1 1345.45L984.39 1344.71L984.69 1343.97L984.99 1343.23L985.29 1342.49L985.58 1341.75L985.88 1341.01L986.18 1340.27L986.48 1339.53L986.78 1338.79L987.08 1338.05L987.38 1337.31L987.68 1336.57L987.98 1335.84L988.28 1335.1L988.58 1334.36L988.88 1333.62L989.18 1332.88L989.48 1332.14L989.79 1331.4L990.09 1330.66L990.39 1329.92L990.69 1329.18L990.95 1328.57M998.2 1311.13L998.27 1310.97L998.58 1310.23L998.9 1309.49L999.21 1308.76L999.52 1308.02L999.83 1307.28L1000.15 1306.55L1000.46 1305.81L1000.78 1305.08L1001.09 1304.34L1001.41 1303.6L1001.72 1302.87L1002.04 1302.13L1002.36 1301.4L1002.67 1300.66L1002.99 1299.93L1003.31 1299.19L1003.63 1298.46L1003.95 1297.72L1004.27 1296.99L1004.59 1296.25L1004.91 1295.52L1005.23 1294.79L1005.55 1294.05L1005.87 1293.32L1006.19 1292.59L1006.52 1291.85L1006.84 1291.12L1007.16 1290.39L1007.49 1289.66L1007.81 1288.92L1008.14 1288.19L1008.46 1287.46L1008.79 1286.73L1009.12 1286L1009.44 1285.27L1009.77 1284.54L1010.1 1283.81L1010.43 1283.07L1010.76 1282.34L1011.09 1281.62L1011.42 1280.89L1011.75 1280.16L1012.08 1279.43L1012.41 1278.7L1012.75 1277.97L1013.08 1277.24L1013.41 1276.51L1013.75 1275.79L1014.08 1275.06L1014.42 1274.33L1014.75 1273.61L1014.82 1273.45M1023.11 1256.01L1023.22 1255.78L1023.57 1255.06L1023.92 1254.34L1024.27 1253.62L1024.63 1252.91L1024.98 1252.19L1025.34 1251.47L1025.69 1250.76L1026.05 1250.04L1026.4 1249.33L1026.76 1248.61L1027.12 1247.9L1027.48 1247.18L1027.84 1246.47L1028.2 1245.76L1028.56 1245.04L1028.92 1244.33L1029.28 1243.62L1029.64 1242.91L1030.01 1242.2L1030.37 1241.49L1030.73 1240.78L1031.1 1240.07L1031.47 1239.36L1031.83 1238.65L1032.2 1237.94L1032.57 1237.23L1032.94 1236.53L1033.31 1235.82L1033.68 1235.11L1034.05 1234.41L1034.42 1233.7L1034.79 1232.99L1035.17 1232.29L1035.54 1231.59L1035.92 1230.88L1036.29 1230.18L1036.67 1229.48L1037.05 1228.77L1037.42 1228.07L1037.8 1227.37L1038.18 1226.67L1038.56 1225.97L1038.95 1225.27L1039.33 1224.57L1039.71 1223.87L1040.09 1223.17L1040.48 1222.48L1040.86 1221.78L1041.25 1221.08L1041.64 1220.39L1042.02 1219.69L1042.41 1219L1042.69 1218.49M1052.75 1201.21L1052.81 1201.12L1053.22 1200.44L1053.63 1199.77L1054.04 1199.09L1054.46 1198.41L1054.87 1197.73L1055.29 1197.06L1055.71 1196.38L1056.12 1195.71L1056.54 1195.03L1056.96 1194.36L1057.38 1193.69L1057.81 1193.02L1058.23 1192.34L1058.65 1191.67L1059.08 1191L1059.5 1190.33L1059.93 1189.66L1060.36 1189L1060.78 1188.33L1061.21 1187.66L1061.64 1187L1062.07 1186.33L1062.51 1185.67L1062.94 1185L1063.37 1184.34L1063.81 1183.68L1064.25 1183.01L1064.68 1182.35L1065.12 1181.69L1065.56 1181.03L1066 1180.37L1066.44 1179.72L1066.88 1179.06L1067.33 1178.4L1067.77 1177.75L1068.22 1177.09L1068.66 1176.44L1069.11 1175.78L1069.56 1175.13L1070.01 1174.48L1070.46 1173.83L1070.91 1173.18L1071.36 1172.53L1071.81 1171.88L1072.27 1171.23L1072.72 1170.58L1073.18 1169.93L1073.64 1169.29L1074.1 1168.64L1074.56 1168L1075.02 1167.35L1075.48 1166.71L1075.94 1166.07L1076.41 1165.43L1076.87 1164.79L1077.34 1164.15L1077.65 1163.73M1091.02 1146.32L1091.15 1146.14L1091.65 1145.53L1092.15 1144.91L1092.65 1144.3L1093.15 1143.68L1093.65 1143.07L1094.15 1142.45L1094.65 1141.84L1095.16 1141.23L1095.66 1140.62L1096.17 1140.01L1096.67 1139.4L1097.18 1138.79L1097.69 1138.18L1098.2 1137.58L1098.71 1136.97L1099.22 1136.37L1099.73 1135.76L1100.24 1135.16L1100.76 1134.55L1101.27 1133.95L1101.79 1133.35L1102.3 1132.75L1102.82 1132.14L1103.34 1131.54L1103.86 1130.94L1104.38 1130.35L1104.9 1129.75L1105.42 1129.15L1105.94 1128.55L1106.46 1127.96L1106.99 1127.36L1107.51 1126.77L1108.04 1126.17L1108.56 1125.58L1109.09 1124.99L1109.62 1124.39L1110.15 1123.8L1110.68 1123.21L1111.21 1122.62L1111.74 1122.03L1112.27 1121.44L1112.81 1120.86L1113.34 1120.27L1113.88 1119.68L1114.41 1119.09L1114.95 1118.51L1115.48 1117.92L1116.02 1117.34L1116.56 1116.76L1117.1 1116.17L1117.64 1115.59L1118.18 1115.01L1118.72 1114.43L1119.26 1113.85L1119.81 1113.27L1120.35 1112.69L1120.9 1112.11L1121.44 1111.53L1121.99 1110.95L1122.53 1110.37L1123.08 1109.8L1123.63 1109.22L1124.07 1108.76M1141.2 1091.41L1141.33 1091.28L1141.9 1090.72L1142.47 1090.16L1143.04 1089.61L1143.61 1089.05L1144.18 1088.49L1144.76 1087.94L1145.33 1087.38L1145.9 1086.83L1146.48 1086.28L1147.05 1085.72L1147.62 1085.17L1148.2 1084.62L1148.78 1084.06L1149.35 1083.51L1149.93 1082.96L1150.51 1082.41L1151.08 1081.86L1151.66 1081.31L1152.24 1080.76L1152.82 1080.21L1153.4 1079.67L1153.98 1079.12L1154.56 1078.57L1155.14 1078.02L1155.72 1077.48L1156.31 1076.93L1156.89 1076.39L1157.47 1075.84L1158.06 1075.3L1158.64 1074.75L1159.22 1074.21L1159.81 1073.67L1160.39 1073.12L1160.98 1072.58L1161.57 1072.04L1162.15 1071.5L1162.74 1070.96L1163.33 1070.42L1163.92 1069.88L1164.5 1069.34L1165.09 1068.8L1165.68 1068.26L1166.27 1067.72L1166.86 1067.18L1167.45 1066.64L1168.04 1066.11L1168.63 1065.57L1169.22 1065.03L1169.82 1064.5L1170.41 1063.96L1171 1063.43L1171.59 1062.89L1172.19 1062.36L1172.78 1061.82L1173.37 1061.29L1173.97 1060.75L1174.56 1060.22L1175.16 1059.69L1175.75 1059.16L1176.35 1058.62L1176.95 1058.09L1177.54 1057.56L1178.14 1057.03L1178.73 1056.5L1179.33 1055.97L1179.93 1055.44L1180.53 1054.91L1181.13 1054.38L1181.71 1053.87M1201.58 1036.6L1201.6 1036.58L1202.21 1036.06L1202.82 1035.54L1203.42 1035.03L1204.03 1034.51L1204.63 1033.99L1205.24 1033.47L1205.85 1032.96L1206.45 1032.44L1207.06 1031.92L1207.67 1031.41L1208.27 1030.89L1208.88 1030.37L1209.49 1029.86L1210.09 1029.34L1210.7 1028.83L1211.31 1028.31L1211.92 1027.8L1212.52 1027.28L1213.13 1026.77L1213.74 1026.26L1214.35 1025.74L1214.95 1025.23L1215.56 1024.72L1216.17 1024.2L1216.78 1023.69L1217.39 1023.18L1217.99 1022.66L1218.6 1022.15L1219.21 1021.64L1219.82 1021.13L1220.43 1020.62L1221.03 1020.1L1221.64 1019.59L1222.25 1019.08L1222.86 1018.57L1223.47 1018.06L1224.07 1017.55L1224.68 1017.04L1225.29 1016.53L1225.9 1016.02L1226.51 1015.51L1227.11 1015L1227.72 1014.49L1228.33 1013.98L1228.94 1013.47L1229.54 1012.96L1230.15 1012.45L1230.76 1011.94L1231.37 1011.43L1231.98 1010.92L1232.58 1010.41L1233.19 1009.91L1233.8 1009.4L1234.4 1008.89L1235.01 1008.38L1235.62 1007.87L1236.23 1007.37L1236.83 1006.86L1237.44 1006.35L1238.05 1005.84L1238.65 1005.34L1239.26 1004.83L1239.87 1004.32L1240.47 1003.81L1241.08 1003.31L1241.68 1002.8L1242.29 1002.29L1242.9 1001.79L1243.5 1001.28L1244.11 1000.77" stroke="#c46200" stroke-width="4.9" fill="none" stroke-linecap="round" stroke-linejoin="round"/>
<rect x="194.6" y="492" width="270.6" height="236.1" fill="#fff" stroke="#000" stroke-width="4.7" stroke-linejoin="round"/>
<path d="M218.65 530.4H293.5" stroke="#600000" stroke-width="4.9" fill="none" stroke-linecap="round"/>
<text transform="translate(311.99,541.1) scale(1.0579,1)" font-size="27.0" fill="#000">Blank</text>
<path d="M218.65 570.05h0.01M236.27 570.05h0.01M253.89 570.05h0.01M271.5 570.05h0.01M289.12 570.05h0.01" stroke="#008000" stroke-width="9.6" fill="none" stroke-linecap="round"/>
<text transform="translate(312.78,580.85) scale(1.1041,1)" font-size="27.0" fill="#000">50 ppm</text>
<path d="M218.65 609.7L219.03 609.7L220.15 609.7L221.28 609.7L222.41 609.7L223.54 609.7L224.67 609.7L225.8 609.7L226.92 609.7L228.05 609.7L229.18 609.7L230.31 609.7L231.44 609.7L232.57 609.7L233.7 609.7L234.82 609.7L235.95 609.7L237.08 609.7L238.21 609.7L239.34 609.7L240.47 609.7L240.73 609.7M252.74 609.7L252.88 609.7L254.01 609.7L255.13 609.7L256.26 609.7L257.39 609.7L258.52 609.7L259.65 609.7L260.78 609.7L261.91 609.7L263.03 609.7L264.16 609.7L265.29 609.7L266.42 609.7L267.55 609.7L268.68 609.7L269.8 609.7L270.93 609.7L272.06 609.7L273.19 609.7L274.32 609.7L274.82 609.7M286.83 609.7L287.11 609.7L288.23 609.7L289.36 609.7L290.49 609.7L291.62 609.7L292.75 609.7L293.5 609.7" stroke="#008080" stroke-width="4.9" fill="none" stroke-linecap="round"/>
<text transform="translate(312.21,620.6) scale(1.1115,1)" font-size="27.0" fill="#000">100 ppm</text>
<path d="M218.65 649.35L219.03 649.35L220.15 649.35L221.28 649.35L222.41 649.35L223.54 649.35L224.67 649.35L225.8 649.35L226.92 649.35L228.05 649.35L229.18 649.35L230.31 649.35L231.44 649.35L232.57 649.35L233.7 649.35L234.82 649.35L235.95 649.35L237.08 649.35L238.21 649.35L239.34 649.35L240.47 649.35L241.59 649.35L242.72 649.35L243.85 649.35L244.98 649.35L246.11 649.35L247.24 649.35L248.28 649.35M260.41 649.35h0.01M272.76 649.35h0.01M284.89 649.35L285.23 649.35L286.35 649.35L287.48 649.35L288.61 649.35L289.74 649.35L290.87 649.35L292 649.35L293.12 649.35L293.5 649.35" stroke="#0000c0" stroke-width="4.9" fill="none" stroke-linecap="round"/>
<text transform="translate(312.21,660.35) scale(1.1115,1)" font-size="27.0" fill="#000">150 ppm</text>
<path d="M218.65 689L219.03 689L220.15 689L221.28 689L222.41 689L223.54 689L224.67 689L225.8 689L226.92 689L228.05 689L229.18 689L230.31 689L231.44 689L232.57 689L233.7 689L234.82 689L235.95 689L237.08 689L238.21 689L239.34 689L240.47 689L241.59 689L242.72 689L243.85 689L244.98 689L246.11 689L247.24 689L248.36 689L249.49 689L250.62 689L251.75 689L252.88 689L254.01 689L255.13 689L256.26 689L257.39 689L258.52 689L259.65 689L260.78 689L261.66 689M281.57 689L281.84 689L282.97 689L284.1 689L285.23 689L286.35 689L287.48 689L288.61 689L289.74 689L290.87 689L292 689L293.12 689L293.5 689" stroke="#c000c0" stroke-width="4.9" fill="none" stroke-linecap="round"/>
<text transform="translate(312.36,700.1) scale(1.1100,1)" font-size="27.0" fill="#000">200 ppm</text>
<rect x="240.2" y="1389.3" width="270.6" height="236.1" fill="#fff" stroke="#000" stroke-width="4.7" stroke-linejoin="round"/>
<path d="M264.25 1427.7H339.1" stroke="#800000" stroke-width="4.9" fill="none" stroke-linecap="round"/>
<text transform="translate(357.59,1438.4) scale(1.0579,1)" font-size="27.0" fill="#000">Blank</text>
<path d="M264.25 1467.35h0.01M281.87 1467.35h0.01M299.49 1467.35h0.01M317.1 1467.35h0.01M334.72 1467.35h0.01" stroke="#00ffcc" stroke-width="9.6" fill="none" stroke-linecap="round"/>
<text transform="translate(358.38,1478.15) scale(1.1041,1)" font-size="27.0" fill="#000">50 ppm</text>
<path d="M264.25 1507L264.63 1507L265.75 1507L266.88 1507L268.01 1507L269.14 1507L270.27 1507L271.4 1507L272.52 1507L273.65 1507L274.78 1507L275.91 1507L277.04 1507L278.17 1507L279.3 1507L280.42 1507L281.55 1507L282.68 1507L283.81 1507L284.94 1507L286.07 1507L286.33 1507M298.34 1507L298.48 1507L299.61 1507L300.73 1507L301.86 1507L302.99 1507L304.12 1507L305.25 1507L306.38 1507L307.51 1507L308.63 1507L309.76 1507L310.89 1507L312.02 1507L313.15 1507L314.28 1507L315.4 1507L316.53 1507L317.66 1507L318.79 1507L319.92 1507L320.42 1507M332.43 1507L332.71 1507L333.83 1507L334.96 1507L336.09 1507L337.22 1507L338.35 1507L339.1 1507" stroke="#000080" stroke-width="4.9" fill="none" stroke-linecap="round"/>
<text transform="translate(357.81,1517.9) scale(1.1115,1)" font-size="27.0" fill="#000">100 ppm</text>
<path d="M264.25 1546.65L264.63 1546.65L265.75 1546.65L266.88 1546.65L268.01 1546.65L269.14 1546.65L270.27 1546.65L271.4 1546.65L272.52 1546.65L273.65 1546.65L274.78 1546.65L275.91 1546.65L277.04 1546.65L278.17 1546.65L279.3 1546.65L280.42 1546.65L281.55 1546.65L282.68 1546.65L283.81 1546.65L284.94 1546.65L286.07 1546.65L287.19 1546.65L288.32 1546.65L289.45 1546.65L290.58 1546.65L291.71 1546.65L292.84 1546.65L293.88 1546.65M306.01 1546.65h0.01M318.36 1546.65h0.01M330.49 1546.65L330.83 1546.65L331.95 1546.65L333.08 1546.65L334.21 1546.65L335.34 1546.65L336.47 1546.65L337.6 1546.65L338.72 1546.65L339.1 1546.65" stroke="#600060" stroke-width="4.9" fill="none" stroke-linecap="round"/>
<text transform="translate(357.81,1557.65) scale(1.1115,1)" font-size="27.0" fill="#000">150 ppm</text>
<path d="M264.25 1586.3L264.63 1586.3L265.75 1586.3L266.88 1586.3L268.01 1586.3L269.14 1586.3L270.27 1586.3L271.4 1586.3L272.52 1586.3L273.65 1586.3L274.78 1586.3L275.91 1586.3L277.04 1586.3L278.17 1586.3L279.3 1586.3L280.42 1586.3L281.55 1586.3L282.68 1586.3L283.81 1586.3L284.94 1586.3L286.07 1586.3L287.19 1586.3L288.32 1586.3L289.45 1586.3L290.58 1586.3L291.71 1586.3L292.84 1586.3L293.96 1586.3L295.09 1586.3L296.22 1586.3L297.35 1586.3L298.48 1586.3L299.61 1586.3L300.73 1586.3L301.86 1586.3L302.99 1586.3L304.12 1586.3L305.25 1586.3L306.38 1586.3L307.26 1586.3M327.17 1586.3L327.44 1586.3L328.57 1586.3L329.7 1586.3L330.83 1586.3L331.95 1586.3L333.08 1586.3L334.21 1586.3L335.34 1586.3L336.47 1586.3L337.6 1586.3L338.72 1586.3L339.1 1586.3" stroke="#c46200" stroke-width="4.9" fill="none" stroke-linecap="round"/>
<text transform="translate(357.96,1597.4) scale(1.1100,1)" font-size="27.0" fill="#000">200 ppm</text>
<text transform="translate(191.92,70.5) scale(1.0999,1)" font-size="27.0" fill="#000">(a) Hexane extract</text>
<text transform="translate(216.83,962.1) scale(1.0964,1)" font-size="27.0" fill="#000">(b) Acetone extract</text>
<text transform="translate(702.29,866.8) scale(1.0156,1)" font-size="26.7" fill="#000">Log F, Hz</text>
<text transform="translate(729.99,1767.6) scale(1.0156,1)" font-size="26.7" fill="#000">Log F, Hz</text>
<text transform="translate(43.9,477.59) rotate(-90) scale(0.9384,1)" font-size="27.0">Log Z, ohm.cm</text>
<text transform="translate(72,1378.18) rotate(-90) scale(0.9283,1)" font-size="27.0">Log Z, ohm.cm</text>
<text transform="translate(24.1,301.33) rotate(-90) scale(1.1001,1)" font-size="27.0">2</text>
<text transform="translate(52.3,1203.12) rotate(-90) scale(1.0924,1)" font-size="27.0">2</text>
</g>
</svg>
</body></html>
